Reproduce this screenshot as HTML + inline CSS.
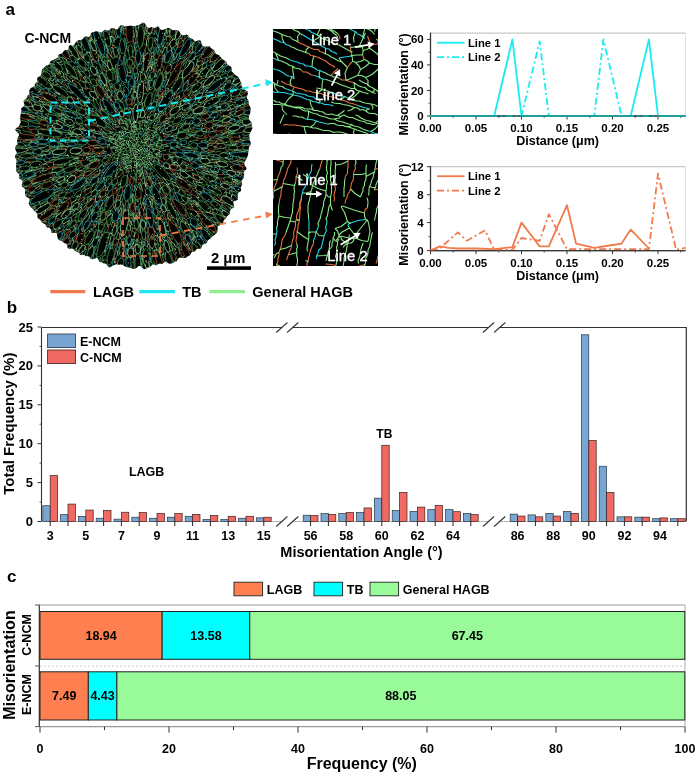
<!DOCTYPE html><html><head><meta charset="utf-8"><style>html,body{margin:0;padding:0;background:#fff;}svg{display:block;will-change:transform;}text{font-family:"Liberation Sans",sans-serif;font-weight:bold;}</style></head><body>
<svg width="700" height="776" viewBox="0 0 700 776">
<rect width="700" height="776" fill="#fff"/>
<text x="5.6" y="15" font-size="17" text-anchor="start" fill="#000" >a</text>
<text x="6.8" y="312.8" font-size="17" text-anchor="start" fill="#000" >b</text>
<text x="7" y="581.5" font-size="17" text-anchor="start" fill="#000" >c</text>
<clipPath id="circclip"><path d="M15.8 146.0L17.6 144.2L17.5 142.5L17.1 140.7L17.4 139.0L18.1 137.2L19.0 135.6L18.7 133.8L16.8 131.8L15.0 129.7L16.4 128.1L18.6 126.7L19.3 125.0L20.2 123.4L20.8 121.7L20.4 119.8L20.1 118.0L20.3 116.2L20.5 114.4L21.3 112.8L21.5 111.0L21.0 109.0L22.2 107.5L24.0 106.2L24.4 104.5L23.7 102.3L23.8 100.4L25.7 99.3L26.8 97.8L27.2 96.1L28.8 94.8L29.3 93.1L29.0 91.0L29.8 89.4L30.9 88.0L32.9 87.1L34.8 86.1L34.8 84.1L36.0 82.8L37.5 81.7L37.1 79.3L37.5 77.4L39.4 76.6L40.9 75.5L41.5 73.7L41.7 71.6L42.0 69.5L43.3 68.3L44.7 67.1L45.9 65.8L47.9 65.2L49.5 64.3L50.0 62.3L51.0 60.8L53.0 60.2L54.5 59.3L56.2 58.5L57.9 57.7L58.2 55.4L59.3 54.0L61.5 53.8L62.8 52.6L63.8 51.0L65.3 50.1L67.5 50.1L68.6 48.6L68.9 45.8L70.6 45.1L73.1 45.9L74.4 44.6L75.4 42.8L76.7 41.4L78.1 40.3L80.1 40.1L81.9 39.8L83.2 38.5L84.4 36.8L86.2 36.4L88.5 37.1L90.0 36.2L90.9 33.6L92.3 32.3L94.1 31.9L95.8 31.3L97.8 31.6L99.9 32.3L101.8 32.4L103.3 31.0L104.8 29.8L106.8 30.5L108.6 30.5L110.2 29.2L111.8 28.1L113.6 28.0L115.6 29.3L117.4 29.5L118.9 27.3L120.5 25.4L122.3 25.3L124.2 26.0L126.0 26.3L127.8 26.1L129.6 25.7L131.4 25.7L133.2 26.2L135.0 26.1L136.8 25.6L138.6 25.3L140.5 24.2L142.4 22.8L144.2 22.8L145.9 25.0L147.5 27.5L149.2 27.9L151.1 27.0L152.9 27.6L154.6 28.3L156.6 26.7L158.5 26.6L159.9 29.0L161.5 30.0L163.4 29.7L165.4 29.0L167.6 27.9L169.5 27.9L171.0 29.3L172.6 30.2L174.6 30.1L176.6 30.0L178.3 30.5L179.7 32.1L180.8 34.2L182.3 35.3L184.3 35.2L186.6 34.6L188.2 35.5L189.3 37.4L190.9 38.3L192.6 38.9L193.9 40.4L195.4 41.3L198.1 40.4L200.4 40.2L201.2 42.4L201.8 44.8L203.0 46.2L204.9 46.8L207.5 46.2L209.6 46.6L210.9 47.9L212.3 49.0L213.9 50.1L214.9 51.8L215.6 53.7L217.4 54.5L219.2 55.2L220.3 56.7L221.5 58.2L222.8 59.5L224.5 60.4L226.1 61.5L226.8 63.4L227.9 64.9L229.6 65.8L231.2 66.9L231.7 68.9L231.5 71.3L232.9 72.6L234.3 73.9L235.5 75.2L237.4 76.2L238.8 77.5L239.5 79.2L240.3 80.9L241.2 82.5L241.3 84.7L241.8 86.4L242.9 87.9L244.1 89.4L246.1 90.4L247.6 91.8L247.9 93.7L247.1 96.1L246.8 98.2L248.0 99.7L248.6 101.4L248.6 103.4L249.0 105.1L250.1 106.7L250.7 108.4L250.4 110.4L250.4 112.3L249.7 114.3L249.0 116.4L249.0 118.2L249.4 119.9L250.8 121.4L251.8 123.0L251.6 124.8L252.1 126.6L252.5 128.3L251.6 130.2L250.6 132.1L249.5 134.0L249.1 135.7L249.5 137.4L249.3 139.2L249.9 140.8L250.8 142.5L250.8 144.3L249.7 146.0L248.8 147.7L248.8 149.4L248.4 151.1L248.2 152.8L248.1 154.5L247.7 156.1L246.9 157.8L246.2 159.4L245.2 160.9L244.2 162.5L244.3 164.2L245.1 166.0L246.6 168.0L246.2 169.6L244.1 170.9L244.1 172.6L244.1 174.4L243.6 176.0L243.8 177.8L242.7 179.2L241.4 180.6L241.8 182.5L242.2 184.4L241.4 185.9L240.7 187.5L241.2 189.5L240.8 191.2L238.8 192.2L237.9 193.7L237.7 195.4L237.7 197.4L238.0 199.4L236.4 200.6L234.1 201.2L233.2 202.7L233.9 205.1L234.2 207.3L232.4 208.2L230.9 209.3L230.1 210.8L229.8 212.7L229.4 214.6L227.8 215.5L226.6 216.8L225.9 218.5L224.4 219.5L223.4 220.9L223.2 223.0L221.9 224.3L220.0 224.9L218.5 225.8L217.7 227.4L217.6 229.9L217.1 231.9L216.1 233.4L214.9 234.8L213.4 235.7L211.8 236.7L210.8 238.2L209.4 239.3L207.9 240.3L207.1 242.1L206.0 243.7L204.1 244.1L202.4 244.9L201.7 247.1L200.6 248.7L198.5 248.8L196.6 249.1L195.5 250.8L193.9 251.7L191.9 251.7L190.9 253.6L189.7 255.4L188.0 256.0L186.6 257.5L184.8 257.9L182.7 257.7L180.8 257.8L178.9 257.8L177.6 259.5L176.4 261.5L174.6 262.0L173.0 262.9L171.2 263.5L169.4 263.7L167.2 262.8L165.1 261.6L163.5 262.9L162.0 264.1L160.0 263.6L158.2 263.9L156.6 265.3L154.8 265.0L152.8 264.3L151.2 265.7L149.6 267.2L147.8 267.5L146.0 268.7L144.2 269.3L142.3 267.9L140.4 266.1L138.6 266.1L136.8 267.7L135.0 268.8L133.2 268.7L131.3 268.2L129.5 267.6L127.7 267.3L125.9 266.8L124.2 266.0L122.5 264.8L120.8 264.4L118.9 264.7L117.2 264.3L115.3 264.6L113.3 265.4L111.3 266.4L109.2 267.5L107.6 265.9L106.3 263.8L104.4 263.6L102.7 262.9L101.1 262.0L99.3 261.8L98.2 259.3L96.9 257.6L94.6 258.7L92.5 259.3L90.7 258.9L89.5 257.1L87.9 256.1L85.9 256.3L84.5 255.0L82.7 254.7L80.5 254.9L79.3 253.4L78.0 251.9L76.3 251.4L74.7 250.5L73.4 249.1L71.6 248.6L69.3 248.8L67.6 248.1L67.2 245.5L66.3 243.6L64.4 243.2L63.0 242.1L61.5 241.0L59.7 240.4L58.3 239.3L57.5 237.4L57.1 235.1L56.6 233.0L54.3 232.9L51.7 233.1L51.1 231.2L50.7 229.0L49.3 228.0L47.2 227.5L46.1 226.0L45.4 224.3L43.6 223.5L41.9 222.6L41.1 220.9L39.9 219.5L38.1 218.6L37.4 216.9L37.4 214.7L36.8 213.0L35.3 211.8L33.8 210.6L32.8 209.1L31.5 207.8L30.2 206.5L29.1 205.1L28.7 203.2L29.6 200.7L29.7 198.7L27.7 197.7L25.9 196.5L25.3 194.8L25.0 193.0L25.0 191.1L25.0 189.2L23.8 187.7L22.0 186.5L21.7 184.7L22.6 182.5L22.6 180.7L20.8 179.4L18.8 178.1L19.1 176.1L19.2 174.3L17.4 172.8L16.3 171.2L16.4 169.4L16.3 167.5L16.0 165.8L16.1 163.9L16.6 162.0L16.7 160.2L15.7 158.5L14.8 156.8L15.5 155.0L17.0 153.1L16.2 151.3L15.3 149.6L15.2 147.8Z"/></clipPath><path d="M15.8 146.0L17.6 144.2L17.5 142.5L17.1 140.7L17.4 139.0L18.1 137.2L19.0 135.6L18.7 133.8L16.8 131.8L15.0 129.7L16.4 128.1L18.6 126.7L19.3 125.0L20.2 123.4L20.8 121.7L20.4 119.8L20.1 118.0L20.3 116.2L20.5 114.4L21.3 112.8L21.5 111.0L21.0 109.0L22.2 107.5L24.0 106.2L24.4 104.5L23.7 102.3L23.8 100.4L25.7 99.3L26.8 97.8L27.2 96.1L28.8 94.8L29.3 93.1L29.0 91.0L29.8 89.4L30.9 88.0L32.9 87.1L34.8 86.1L34.8 84.1L36.0 82.8L37.5 81.7L37.1 79.3L37.5 77.4L39.4 76.6L40.9 75.5L41.5 73.7L41.7 71.6L42.0 69.5L43.3 68.3L44.7 67.1L45.9 65.8L47.9 65.2L49.5 64.3L50.0 62.3L51.0 60.8L53.0 60.2L54.5 59.3L56.2 58.5L57.9 57.7L58.2 55.4L59.3 54.0L61.5 53.8L62.8 52.6L63.8 51.0L65.3 50.1L67.5 50.1L68.6 48.6L68.9 45.8L70.6 45.1L73.1 45.9L74.4 44.6L75.4 42.8L76.7 41.4L78.1 40.3L80.1 40.1L81.9 39.8L83.2 38.5L84.4 36.8L86.2 36.4L88.5 37.1L90.0 36.2L90.9 33.6L92.3 32.3L94.1 31.9L95.8 31.3L97.8 31.6L99.9 32.3L101.8 32.4L103.3 31.0L104.8 29.8L106.8 30.5L108.6 30.5L110.2 29.2L111.8 28.1L113.6 28.0L115.6 29.3L117.4 29.5L118.9 27.3L120.5 25.4L122.3 25.3L124.2 26.0L126.0 26.3L127.8 26.1L129.6 25.7L131.4 25.7L133.2 26.2L135.0 26.1L136.8 25.6L138.6 25.3L140.5 24.2L142.4 22.8L144.2 22.8L145.9 25.0L147.5 27.5L149.2 27.9L151.1 27.0L152.9 27.6L154.6 28.3L156.6 26.7L158.5 26.6L159.9 29.0L161.5 30.0L163.4 29.7L165.4 29.0L167.6 27.9L169.5 27.9L171.0 29.3L172.6 30.2L174.6 30.1L176.6 30.0L178.3 30.5L179.7 32.1L180.8 34.2L182.3 35.3L184.3 35.2L186.6 34.6L188.2 35.5L189.3 37.4L190.9 38.3L192.6 38.9L193.9 40.4L195.4 41.3L198.1 40.4L200.4 40.2L201.2 42.4L201.8 44.8L203.0 46.2L204.9 46.8L207.5 46.2L209.6 46.6L210.9 47.9L212.3 49.0L213.9 50.1L214.9 51.8L215.6 53.7L217.4 54.5L219.2 55.2L220.3 56.7L221.5 58.2L222.8 59.5L224.5 60.4L226.1 61.5L226.8 63.4L227.9 64.9L229.6 65.8L231.2 66.9L231.7 68.9L231.5 71.3L232.9 72.6L234.3 73.9L235.5 75.2L237.4 76.2L238.8 77.5L239.5 79.2L240.3 80.9L241.2 82.5L241.3 84.7L241.8 86.4L242.9 87.9L244.1 89.4L246.1 90.4L247.6 91.8L247.9 93.7L247.1 96.1L246.8 98.2L248.0 99.7L248.6 101.4L248.6 103.4L249.0 105.1L250.1 106.7L250.7 108.4L250.4 110.4L250.4 112.3L249.7 114.3L249.0 116.4L249.0 118.2L249.4 119.9L250.8 121.4L251.8 123.0L251.6 124.8L252.1 126.6L252.5 128.3L251.6 130.2L250.6 132.1L249.5 134.0L249.1 135.7L249.5 137.4L249.3 139.2L249.9 140.8L250.8 142.5L250.8 144.3L249.7 146.0L248.8 147.7L248.8 149.4L248.4 151.1L248.2 152.8L248.1 154.5L247.7 156.1L246.9 157.8L246.2 159.4L245.2 160.9L244.2 162.5L244.3 164.2L245.1 166.0L246.6 168.0L246.2 169.6L244.1 170.9L244.1 172.6L244.1 174.4L243.6 176.0L243.8 177.8L242.7 179.2L241.4 180.6L241.8 182.5L242.2 184.4L241.4 185.9L240.7 187.5L241.2 189.5L240.8 191.2L238.8 192.2L237.9 193.7L237.7 195.4L237.7 197.4L238.0 199.4L236.4 200.6L234.1 201.2L233.2 202.7L233.9 205.1L234.2 207.3L232.4 208.2L230.9 209.3L230.1 210.8L229.8 212.7L229.4 214.6L227.8 215.5L226.6 216.8L225.9 218.5L224.4 219.5L223.4 220.9L223.2 223.0L221.9 224.3L220.0 224.9L218.5 225.8L217.7 227.4L217.6 229.9L217.1 231.9L216.1 233.4L214.9 234.8L213.4 235.7L211.8 236.7L210.8 238.2L209.4 239.3L207.9 240.3L207.1 242.1L206.0 243.7L204.1 244.1L202.4 244.9L201.7 247.1L200.6 248.7L198.5 248.8L196.6 249.1L195.5 250.8L193.9 251.7L191.9 251.7L190.9 253.6L189.7 255.4L188.0 256.0L186.6 257.5L184.8 257.9L182.7 257.7L180.8 257.8L178.9 257.8L177.6 259.5L176.4 261.5L174.6 262.0L173.0 262.9L171.2 263.5L169.4 263.7L167.2 262.8L165.1 261.6L163.5 262.9L162.0 264.1L160.0 263.6L158.2 263.9L156.6 265.3L154.8 265.0L152.8 264.3L151.2 265.7L149.6 267.2L147.8 267.5L146.0 268.7L144.2 269.3L142.3 267.9L140.4 266.1L138.6 266.1L136.8 267.7L135.0 268.8L133.2 268.7L131.3 268.2L129.5 267.6L127.7 267.3L125.9 266.8L124.2 266.0L122.5 264.8L120.8 264.4L118.9 264.7L117.2 264.3L115.3 264.6L113.3 265.4L111.3 266.4L109.2 267.5L107.6 265.9L106.3 263.8L104.4 263.6L102.7 262.9L101.1 262.0L99.3 261.8L98.2 259.3L96.9 257.6L94.6 258.7L92.5 259.3L90.7 258.9L89.5 257.1L87.9 256.1L85.9 256.3L84.5 255.0L82.7 254.7L80.5 254.9L79.3 253.4L78.0 251.9L76.3 251.4L74.7 250.5L73.4 249.1L71.6 248.6L69.3 248.8L67.6 248.1L67.2 245.5L66.3 243.6L64.4 243.2L63.0 242.1L61.5 241.0L59.7 240.4L58.3 239.3L57.5 237.4L57.1 235.1L56.6 233.0L54.3 232.9L51.7 233.1L51.1 231.2L50.7 229.0L49.3 228.0L47.2 227.5L46.1 226.0L45.4 224.3L43.6 223.5L41.9 222.6L41.1 220.9L39.9 219.5L38.1 218.6L37.4 216.9L37.4 214.7L36.8 213.0L35.3 211.8L33.8 210.6L32.8 209.1L31.5 207.8L30.2 206.5L29.1 205.1L28.7 203.2L29.6 200.7L29.7 198.7L27.7 197.7L25.9 196.5L25.3 194.8L25.0 193.0L25.0 191.1L25.0 189.2L23.8 187.7L22.0 186.5L21.7 184.7L22.6 182.5L22.6 180.7L20.8 179.4L18.8 178.1L19.1 176.1L19.2 174.3L17.4 172.8L16.3 171.2L16.4 169.4L16.3 167.5L16.0 165.8L16.1 163.9L16.6 162.0L16.7 160.2L15.7 158.5L14.8 156.8L15.5 155.0L17.0 153.1L16.2 151.3L15.3 149.6L15.2 147.8Z" fill="#030503"/><filter id="soft" x="-5%" y="-5%" width="110%" height="110%"><feGaussianBlur stdDeviation="0.35"/></filter><g clip-path="url(#circclip)"><g filter="url(#soft)"><g transform="scale(0.5)" fill="none" stroke-width="1.4"><path d="M243 327l-3 9M280 255l0 2M256 244l-2 8M262 259l0-6M319 268l2 0M300 239l-3 0M295 236l0 1M265 248l1-1M269 250l-1 3M313 258l-4 3M313 258l0-1M327 226l0 3M296 232l-5 4M284 248l4-5M295 223l-6 10M236 273l-1-1M152 224l0 1M301 313l2 3M284 337l2-5M293 324l3 4M307 337l-2-3M283 347l2-3M285 344l0 0M140 487l2-3M147 480l7-9M271 335l1-6M275 339l1-9M225 326l10-6M247 341l2-3M326 273l5-4M324 290l-2-1M335 287l-3 2M335 287l-4-2M332 231l9-10M313 251l-1 3M314 254l6-1M320 253l0 0M239 118l-6-7M163 230l-2 0M226 136l1 0M215 108l3 8M224 115l0 0M218 124l0-8M223 106l1 9M143 79l-7-2M233 254l-2-4M233 254l-5 0M32 320l6 0M82 151l2 6M128 196l0 0M74 170l-2-2M85 177l-1-1M313 298l-2-1M317 303l2 1M438 318l2-1M348 307l1 0M323 332l-4-4M290 337l0 1M289 343l1-3M342 348l1 3M289 343l1 3M292 371l2-5M292 419l1 8M192 372l-1 1M191 373l-1 5M246 342l0 2M246 344l-7 9M219 336l-4 0M216 422l-4 9M196 416l2-1M327 258l0 0M326 259l0 0M328 251l0 0M408 173l0 1M225 90l0 7M269 133l1-8l0-9M279 221l2 1M295 184l-1-3M298 180l1-3M281 158l0-11M262 200l1-10M309 223l-2 5M370 190l-9 7M361 197l4 3M341 251l-2 0M295 221l4-7M328 273l5 2M232 129l1 0M210 88l1 3M138 82l-3-4M200 199l1 4M178 232l-1 0M235 272l-4-4M222 264l1-1M228 258l-7 0M232 248l-1-2M226 241l-5-11M246 244l0 1M255 254l-1 4M243 247l-4-6M243 247l0 1M210 213l-1-1M186 292l-10 1M199 291l8-3M198 296l5-2M188 391l-4 9M175 404l5-2M224 388l-2 4M215 390l-1 5M209 411l4-11M206 406l2-1M209 411l0 0M213 401l0-1M178 425l3-3M168 415l-7 9M165 410l3-3M32 320l-2-2M23 319l1 0M23 319l-3 3M21 318l2 1M60 160l1 1M60 155l-2-1M53 186l-4 3M212 270l-5 0M205 274l-3 0M225 172l2 4M227 176l3 4M230 180l1-4M219 163l0-3M231 187l-1-1M159 221l-9-11M489 328l-10 1M489 327l-1-2M509 332l-2 1M515 340l-6-2M431 324l-7-4M454 323l7 1M493 334l-8-1l-7-1M364 300l-9-5M446 363l-9-5M435 366l-2-1M339 338l5 6l5 5M349 349l2 0M348 390l0-4M348 386l-6-4M340 387l0 1M370 362l-5-4M353 385l7-3M294 349l1 1M290 346l4 3M279 342l1 3M292 354l0 0M289 358l0 0M291 351l1 3M305 365l-2-4M296 459l-1 9M295 468l1 1M286 367l3 0M313 370l7 7M328 396l-4-8M325 397l-4-2M160 450l-8 6M155 449l-3 5M227 415l0 1M222 420l-1 0M156 390l-2 5M161 393l-3 6M168 394l-10 5M273 512l-3-4M278 482l1 5M267 487l1 6M268 525l0 1M239 391l-4 9M228 414l4-5M231 371l3-5M234 393l-1 7M196 361l6-6M218 322l-6 8M207 421l-1 2M245 384l0-1M245 383l0-6M222 365l2-10M217 373l-7 5M259 364l-3-10M342 92l-3 2M353 62l0 3M336 181l1 1M325 267l7-6M355 187l-3 9M353 185l2 2M353 185l0-2M340 179l0 4M340 55l-4-6M333 87l-3 7M253 89l0 0M251 77l-2-2M272 85l-1-8M272 60l-3 10M219 51l7 7M219 70l0-11M271 99l1-3M280 104l0 0M283 123l-3-2M284 112l0 5M280 97l0 0M262 172l1 4M246 128l1-13M284 136l2 2M273 139l4-11M248 44l0 5M290 168l0-1M290 167l3-10M315 184l4-10M316 184l1-1M301 180l8-6M264 211l2-5M265 201l1 5M265 183l2 2M263 176l2 3M309 223l0-2M408 273l8 2M408 273l4-2M493 184l-11 7M490 183l4-4M414 222l0 3M354 275l-7 1M231 153l3 0M170 64l1 3M175 64l-2-1M118 94l-1-1M98 110l-1 2M98 110l7 6l7 5M91 116l5 5M103 120l-1-1M85 126l0 1M171 67l0 2M178 74l2 5M138 82l2 7M237 245l-2-8M233 236l-2 0M168 212l6 7M175 219l-1 0M134 354l8-3M187 298l-9-1M53 415l1 0M54 418l0-3M130 395l10 1M138 385l-2 1M148 383l-1 5M119 403l1-1M101 417l10-6M201 346l5-2M199 347l2-1M192 379l0 1M123 488l2-5M89 452l5-6M95 445l-1 1M89 443l6-5M90 466l2-8M92 458l-2 0M20 269l-1-5M20 290l10 3M29 316l9 0M41 314l-5-3M36 311l1 0M31 210l0 0M31 210l5 5M192 276l-8-2l-9-1M189 279l3-3M150 283l-6-2M119 218l5 2M235 226l-7-8M235 226l-4-8M227 210l0-2M61 168l-4-3M58 165l-1 0M62 171l-2 0M55 163l2 2M73 151l3 0M76 151l5 0M92 159l2 0M72 141l2 3M71 138l1-1M82 146l-7-7M81 150l-7-6M365 294l1-1M383 297l0 0M370 298l5-2M476 325l-8-2M383 316l-7 0M372 325l6 4M386 329l-7-5M388 323l-7-1M398 350l-5 0M349 312l4 1M349 307l4 6M307 315l3 0M325 359l2 6M424 493l-3-4M399 333l-1-1M405 344l-1-2M404 342l-8-5M448 364l4 5M352 341l-11-3M341 338l9 7M362 350l-6-4M386 378l8-3M395 364l-2 0M376 403l4 2M398 388l4 4M402 392l6 10M288 542l-1 2M285 537l-3 4M249 501l2-12M289 477l1 5M288 428l0 2M291 462l-1-2M290 460l-2 0M299 490l0 10M300 501l-1-1M296 488l-1 6M346 527l2 4M343 512l4 10M308 462l-1-6M314 459l-2-6M317 434l5 3M311 515l-2-12M289 433l-1 6M288 430l1 3M294 455l-3-4M334 421l2 5M329 430l1-3M335 428l1-2M329 438l-4-6M329 397l1-7M324 365l-4-6l-4-6M310 353l2-5M299 347l1 0M283 411l-2-3M282 394l-1 1M292 419l2-6M182 429l1-1M172 459l-3 4M139 507l-1 0M200 466l-2 5M202 473l2-1M198 349l-1 1M210 369l1-3M251 503l0 7M252 512l0-2M269 395l-2-4M246 407l-4 6M206 423l-2 1M245 361l-8 6M333 87l0 0M336 91l3-2M339 81l-1 0M345 82l0-5M339 81l3-5M339 263l4-1M330 267l9-4M390 189l-7 2M408 177l-2 5M389 192l1 1M440 142l1 1M436 152l-9 3M353 185l-2 3M410 204l-2 1M415 199l-5 5M481 178l-3 1M308 58l2 6M271 77l2-3M228 59l0 3M225 84l-1 0M224 85l0-1M224 66l0 6M243 54l0-4M287 125l0-1M287 125l0-1M290 99l3-7M296 164l0 0M294 181l1-8l1-9M270 170l0 2M270 158l0 2M269 205l0-4M392 269l-1 0M411 276l-9 1l-8 1M371 273l6 2M377 275l2 0M351 204l-5 3M328 251l4-3M485 195l-12 0M479 172l2-1M481 178l6-6M487 172l2-1M485 270l5-7M503 267l-2-2M342 268l-2 1M328 273l9-2M415 264l-2 0M394 262l-8 0M377 261l0-1M358 257l2-1M388 258l0 0M377 260l11-2M406 241l-5 1M406 241l5-1M403 246l-6 0M185 79l-3-10M211 129l0 0M209 142l-1-7M211 134l-2-1M117 102l0 1M94 128l1 4M102 138l0 0M112 140l-5-3M112 140l0 1M112 141l7 7M112 143l5 8M161 169l-6-4l-7-5M157 201l-6-4l-7-3M126 91l5 7M216 195l4 6l3 6M191 214l10 9M199 215l2 8M222 264l-6-5l-5-5M215 247l1 3M197 191l2-1M206 241l-6-7M206 233l-7-1M46 406l5-3M43 402l-1-1M59 398l1 2M59 398l0 0M150 342l-1 1M149 343l-7 4M80 377l1-1M57 317l-3 1M154 283l-4 0M132 286l0-2M132 299l3-1M138 293l-7 5M218 322l2-3M188 347l6-5M167 342l-3 1M215 311l8-1l6-1M106 380l8-4M114 376l5-1M105 402l-8 5M156 355l-7 3M157 353l-1 2M157 356l4 0M201 383l-1 1M206 375l-5 8M181 452l7-6M199 400l-5 4M198 397l1 0M203 399l-4 1M197 394l1 3M125 483l0 0M141 466l0-6M141 460l-7 10M92 458l4-2M114 419l0-1M142 404l-2-8M100 450l-6 1M46 293l3-1M30 288l2-1M81 276l-3 0M81 276l6-1M55 257l4 2M59 259l5 4M98 276l10 2M108 278l10-1M118 277l0 0M84 272l4-1M72 279l0-1M28 248l-4-4M43 255l-12-1M47 257l-4-2M38 246l-12-4M55 192l-1 0M59 201l3 2M43 195l9 0M40 196l-3-3M36 208l9 3M36 208l0 0M170 258l-11-2M158 258l2 0M178 261l6 2M168 232l3 3M123 278l-5-1M117 282l1 1M117 282l-11 0M101 283l3 0M129 205l-5 0M131 219l3 3M130 218l-3 0M239 178l4 4M243 185l1-2M245 183l-1 0M71 138l0 0M96 179l0 0M119 171l-3-3M72 162l2 3M166 204l-2-2M120 190l0 0M105 185l2 1M481 317l9 0M407 301l-3 1M384 301l3 1M419 300l-7 3M486 322l3 2M491 318l-1-1M491 318l0 1M502 319l-11-1M469 322l-6-4M509 338l-3 0M489 375l7 1l8 1M490 378l0 1M424 320l-1 0M423 320l-4-1M379 324l1-2M372 325l-4-1M428 326l2-1M449 358l-5-2M446 349l-7 0M430 325l4 2M378 350l1 0M378 341l9 0M383 337l-11-2M318 320l8 4M374 407l5 6l4 6M377 417l4 3M480 413l-1-3M476 407l-4-3M490 413l1 0M411 336l-4 0M450 362l-1 2M334 394l2 3M336 392l-4-7M382 402l-8-8M382 402l0 0M368 382l-7-6M362 374l4 2M377 384l-6-7M377 384l-4-2M372 387l-4-5M357 375l4 1M268 534l1 7M369 524l1 0M250 490l-2-2M258 449l1-10M258 461l0 11M261 471l3-6M250 410l3-9M300 501l1 9M345 501l1-2M333 533l-2 4M332 529l-2-4M322 515l0 0M301 414l3 2M314 472l1 11M325 510l0-1M323 467l2 10M281 513l0-4M357 455l-4-7M326 409l-4 0M321 420l0 5M332 439l-3-9M324 366l3 6M311 367l-1-3M300 347l2 4M291 393l2 6M293 387l-2 6M154 474l-3 7M151 481l-4 3M151 481l0 2M154 496l4-7M187 449l1 5M199 440l-4 6l-4 7M174 499l-4-1M201 436l0 6M207 440l-1 1M206 441l-2 3M224 449l2-4M218 450l-3 13M175 397l-1-3M168 399l6-5M271 424l0-5M270 419l1 0M270 427l1-3M266 425l0-1M266 425l0 0M246 517l4 4M251 542l0 2M246 512l-4 1M264 380l1-2M265 378l1-6M266 372l-2-3M259 364l-1 6M253 352l2-2M254 338l-3 7M325 196l-1 2M318 193l1 4M313 205l6-8M363 126l2-1M380 108l-6 8M375 121l-1-5M380 98l-2 7M379 97l-1 0M373 110l-2 3M380 105l4-7M379 126l-3-6M326 176l1-1M331 179l-4 7M515 267l6-6M389 192l-7 5M444 135l-2-1M399 153l5 2M395 155l4-2M403 157l1-2M403 157l6 0M412 175l5-5M351 188l-4 7M349 198l-1-1M348 197l-3 2M472 150l5 0M449 205l-8 3M478 153l-2 0M450 168l11-8M312 96l-1-4M316 72l-2 6M251 67l2 4M229 78l1 0M228 62l0 8M293 92l0 0M298 73l-2 6M297 82l-1-3M293 81l2-2M448 282l-8 0l-8 1M323 231l0-1M333 216l0 0M344 216l2-5M338 214l8-6M462 200l6-2M436 219l-4 1M499 206l-1-2M423 227l1-2M376 236l8-6M397 212l-7 6M411 215l-2 5M488 214l10-4M460 245l-9 3l-8 3M460 276l2-4M180 79l4 0M206 112l0 1M209 119l-3-6M198 101l2 7M206 113l-1 0M175 176l8 4M197 191l0 4M152 144l0-1M162 162l-3-12M159 150l-6-6M130 123l-1 0M102 138l2 4M145 152l1 1M134 157l-2-7M161 85l-6-1M183 180l-2-5M31 369l8-4l8-4M85 348l-2 1M56 373l6-1M52 306l0 0M63 294l-2 1M61 295l-3 0M93 299l5-1M107 295l-6 2M169 332l12-6M169 332l-4 0M155 333l9-4M173 334l-3 1M163 311l5-3M73 411l-1 0M59 424l0 0M54 418l-1 3M72 411l-1 1M118 381l2 0M170 355l-5 0M204 424l-4 9M199 400l-1 2M197 410l-5 2M110 469l8-11M143 434l3-3M110 487l4-5M134 470l-4 0M107 449l-3 2M104 451l-1 3M100 475l0-4M168 399l-7 5M161 404l-4 6M118 437l-8 0M130 270l2 2M62 266l11 3M59 259l14-1M72 278l-12 1M38 240l-6-6M26 242l3-2M55 192l9 6M151 269l3 0M203 253l6 6M177 282l-3-2M174 280l-7 0l-7-1M156 280l4-1M79 197l11 2M90 199l8 4M126 209l-6-1M128 227l0 0M128 227l-5 0M197 146l2 2M235 144l1 2M71 189l4 2M89 196l-2-1M75 192l12 3M70 173l-1 0M98 203l2 0M106 178l2 1M108 169l-7-4M140 186l-3-3M135 174l10 9M132 161l0 1M126 162l9 11M92 185l6 0M480 348l-1-1M514 350l-5 1M511 361l-3 1M464 368l2 0M477 367l4 1M481 368l-6 1M467 364l4 2M496 384l-5-3M504 377l2-1M481 368l4 2M476 370l-1-1M314 314l5 5M421 349l12 1M464 338l0 0M424 332l1 2M439 339l-3 1M454 393l8 3M449 380l-4-2M434 375l4 1M434 372l6 3M497 401l-1 1M496 402l1 1M425 394l1 3M390 368l2 3M394 368l-4 0M426 426l-7-4M407 429l-3-5M432 440l-3-4M404 424l-3 0M398 441l4 4M434 472l-3-5M459 447l1 0M365 436l4 1M377 449l-4-2M373 440l-2-1M377 437l-2-1M339 430l-3-4M339 430l3 11M332 439l4-2M387 409l-1-4M250 477l2-6M252 489l0-2M252 489l1-1M265 463l0-6M266 425l-1 3M261 431l0 1M275 434l1-3M278 435l0-1M276 425l0 6M278 423l0 10M283 483l1-1M284 482l1-8M273 431l0 6M279 461l-5-2M272 464l1-6M309 540l-3-8M309 540l-5 3M295 494l0 0M310 478l0 0M309 481l1-3M324 509l-2 3M325 509l-1 0M322 515l0-3M312 406l-1 3M311 410l0 0M311 410l-4-9M311 405l2-5M169 469l3-3M164 487l2-2M200 481l-2 2M146 501l-5 7M148 502l-3 7M176 496l2-5M184 490l-1 5M227 455l2-7M235 442l-4 6M234 452l-1 1M235 440l0 0M166 377l4-2M213 358l1-3M236 521l-5 5M232 530l-1-4M327 186l-2 4M325 190l0 2M364 81l0-3M367 82l3-9l3-10M370 78l-3 4M382 71l2-5M431 122l-3-1M442 112l1 0M428 102l1 0M421 121l-1 1M413 132l1 0M406 139l-1-2M394 142l3-1M403 110l0-1M403 110l2-1M364 140l2 0M351 134l3-6l3-7M350 134l1 0M366 91l-12 5M364 81l-5 6l-4 7M360 77l2-10M480 246l-2 2M356 210l6-4M424 153l-1-2M402 170l5-3M417 174l-3 4M368 169l-2-1M369 157l-2 3M435 180l5-3M442 177l1 0M449 168l-7 9M452 200l-3 5M450 163l4-5M461 160l0 0M335 66l2-4M333 74l2-8M331 68l0 0M306 89l-1 3M309 82l0 1M306 56l0-6M303 47l-3 3M306 58l0-2M297 55l-6 13M314 46l1-3M309 45l-3 5M293 81l-5-7M326 160l6-11M332 160l0-2M474 282l-7 3M473 288l-4 4M426 287l-6 0M420 285l3-1M422 281l1 0M430 286l-7-2M425 276l9 1M348 210l-1 1M349 211l-1-1M342 236l-5 9M462 200l-3 2M484 209l-2 2M454 207l4 0M463 204l-5 3M434 225l7-4M367 235l0 0M372 237l0 0M461 252l-6 0M463 245l-3 0M449 262l6-3M442 264l-2 0M454 264l-6 2M402 260l1-1M488 221l3-2M481 217l5-2M120 118l-1-1M110 118l-6-6M102 153l6 0M146 160l-1 0M137 152l2 1M135 157l3 2M152 174l-8-9M187 119l3 2M173 164l2 0M173 165l0-1M176 156l-5-1M183 166l-8-2M159 150l3 1M165 153l-1 0M131 98l2 1M138 100l-1 0M138 107l3 4M155 84l-9-8M156 78l-3-9M155 82l0-4M177 224l5 3M182 222l5 7M63 427l6-5M122 381l-5 5l-5 5M108 400l7-9M62 423l0 1M55 358l4 0M53 388l5-6M42 388l-6 0M36 382l-2 1M51 395l4-1M55 394l5-2M68 392l-8 0M114 355l-7 1M67 361l-8 2M68 358l-7 3M163 323l-3-1M160 322l-2-1M57 317l4 0M58 328l3-3M67 314l9-3M126 341l-1-3M174 310l13-3M131 437l1 1M116 486l5-5M122 476l0 1M124 475l5-4M129 453l-3-1M126 452l3-5M118 465l8-5M130 470l5-6l5-6M138 416l-1 2M505 292l-5 2M512 296l-1-1M19 285l2-2M144 272l0 0M137 265l0 1M31 234l-4-2M34 233l-5-4M66 198l6 7M170 250l-3-1M163 252l-2-1M152 227l3 4M155 231l-3 0M134 222l0 0M174 238l5 2M157 273l9 1M164 277l5 0M174 280l-5-3M199 129l0 0M195 149l0 1M81 181l-2 1M81 181l7 5M92 185l1 0M135 173l1 0M491 303l-1 0M428 303l3 1M473 320l3-1M489 344l3 1M507 367l0 0M466 368l0 1M476 370l-3 1M455 344l-2-4M450 339l3 1M505 365l4-1M507 367l-2-2M324 313l-4-2M438 343l-2-2M413 480l-1 3M469 442l-9-9M472 382l-4 1M475 391l0-3M408 376l-1-3M487 399l1 0M412 386l-3-3M426 420l-1 5M435 425l-2-6M412 451l2 3M452 439l-4-6M439 428l5-1M432 440l4 3M370 442l-5-3M350 412l-4 2M344 411l0-1M341 401l2 5M388 511l1 4M363 500l0-1M377 384l6 5M384 389l-1 0M388 401l0 0M282 541l0 0M237 482l2 7l1 7M267 497l-2-1M293 387l4 10M300 393l0 1M304 393l1 8M338 482l0-7M306 393l0-2M188 519l-2 2M174 525l-1 0M176 522l-1 3M158 516l0 3M166 508l-3 7l-2 5M241 439l0-4M246 422l-4 8M198 349l-10 3M185 355l3-3M187 348l1 2M322 195l1-2M321 197l-1 1M321 193l-2 4M325 190l-2 3M324 198l-3-1M317 205l3-7M322 189l-1 4M384 84l-2 2M386 74l-1 2M380 94l2-8M386 78l1 0M413 124l4-9M389 143l-6 1M387 134l-3 9M383 144l1-1M402 130l4-9M406 121l-5 1M398 132l-1-1M389 143l4-6l5-5M385 142l6-5l6-6M403 98l-1 1M402 98l0 1M389 83l0 0M385 98l5-5M355 90l-4-3M355 94l0-4M497 291l10-2M516 290l-6 0M485 290l-2-2M494 290l6-2M473 294l12-4M497 291l-3-1M471 287l8-3M495 275l-5-1M506 272l-8 1M519 280l3-3M478 238l1-3M481 239l-3-1M460 233l-2 2M474 244l0 0M480 246l3-1M453 121l-3 7M375 215l-3 2M375 215l1 0M378 212l6-2M419 171l3-2M343 204l-3 1M333 216l1-1M436 185l5 0M432 193l2-1M436 192l-2 0M459 154l3-2M311 118l0 0M311 118l2 5M303 138l0 0M312 59l0 0M308 138l3 9M290 60l-4-8M478 283l11-2M471 287l-4-2M352 250l1 0M360 247l-2 1M343 256l10-6M353 254l2-4M342 230l-4 0M340 229l-2 1M342 232l0-2M457 212l1 0M450 268l6-2M461 263l-2 2M441 251l-1-1M412 259l7-1M419 258l-1-1M432 247l5 3M106 109l2 3M117 105l-3 1M162 95l3 4M142 125l-7-3M50 374l-1 0M109 335l-1 0M131 330l3 1M119 334l-10 1M108 335l-12 3M36 344l3-3M80 342l-3-4M72 345l8-3M126 329l-9 2l-9 3M51 324l9-1M60 323l3 1M83 304l8 5M79 312l-8 4M131 311l-2-1M67 323l2-1M73 322l2 1M74 320l-1 2M31 342l0-3M41 334l-5 2M61 299l12 1M171 333l5-2M203 306l-12 2M208 306l-11 5M153 407l4-6M158 399l-1 2M48 284l2-4M118 233l-1 0M45 211l8 2M120 213l-7-5M222 179l1 2M200 172l-2-2M105 192l-1-3M106 190l-2-1M457 303l-4-2M442 307l4-2M473 344l1 0M501 346l-3 1M490 348l0 0M465 378l-3-1M411 336l5 3M421 345l3 0M392 458l3-5M441 404l-6-5l-5-5M475 433l5 0M454 418l-3 0M444 408l10 10M486 392l-6-3M419 410l-7-6M426 411l-4-2M441 469l-1-2M436 443l0 2M438 444l2 2M365 438l-4-4M357 424l-2 0M263 486l2 4M265 496l-1-4M343 489l0 0M338 482l0 0M343 483l-2-3M341 484l0-4M169 464l-2 3M189 519l0 0M193 494l3-1M187 507l1-1M159 500l-5 8M183 360l-8 5M169 373l0-1M173 368l2-1M176 356l8-6M187 348l-3 2M218 489l0 0M219 488l1-1M409 90l7-4M389 210l-3 2M321 102l3-5M318 111l2-6M328 136l0-2M324 128l0 3M319 148l3-8M413 189l-1 3M504 228l-1 1M503 229l0 0M506 225l6-5M470 215l5-2M468 217l2-2M506 253l-13-2M514 242l0 1M514 243l-6 4M514 243l4 1M110 111l0-2M196 114l1-5M192 101l1 2M124 259l-2-2M122 239l0 0M76 226l-4-3M63 224l-4-3M68 231l3 2M35 233l7 2M216 163l-3-3M223 168l-3 1M212 169l4 12M465 300l-12 0M483 346l6 2M490 348l-1 0M480 348l2 2M494 368l0 0M401 461l-3 4M405 470l-7-5M383 460l1 1M435 392l0 0M435 392l2 2M437 389l-3 0M446 406l-4-6l-5-6M498 394l-2-1M440 467l-5-4M378 470l3 9M387 503l-6-11l-6-10M386 473l1-1M389 480l2 2M373 497l5 2M387 515l0 0M366 464l2 7l2 7M373 491l-6-13M394 404l1 3M233 541l-1 1M210 517l-1 1M397 84l2 0M303 138l4-9M309 126l-1 1M368 230l-1-2M367 228l2-2M368 220l-2 1M349 236l0 0M369 226l-7-1M358 226l-4 6M342 235l6-1M167 140l-5-8M98 259l-8-1l-9-2M94 254l11 1M73 254l2 0M44 227l-7-1l-8-2M196 159l1 1M194 167l-1-11M412 483l-5-4M439 452l4 3M448 468l-3-3M386 481l0 1M382 479l3 5M374 491l4 8M362 492l0 1M362 493l0 0M197 525l0 0M232 501l-2 7M230 508l0 0M228 522l1-7l1-7M371 221l-1 4M375 225l2-4M384 214l-2 3M79 232l2 1M200 160l4 5M200 160l0 0M157 101l5 7l5 7M155 100l3 6M78 248l2-1M166 116l0 1M166 117l-7-3M110 247l-6-4M378 182l2 3l-1 4l-4 4l-4 2l-3-3l-1-3l0-4l4-3l4-1l3 1M481 277l-2 3l-5 2l-6 1l-4-2l-4-2l2-3l5-2l6 0l5 1l3 2M273 483l-3-2l-2-4l1-5l1-4l3-3l2 2l2 4l0 5l-2 4l-2 3M370 431l-4-1l-8-6l-7-11l-6-11l1-4l6 1l8 7l8 11l5 10l-3 4M361 488l-5-1l-8-11l-8-17l-3-12l1-9l8 10l7 5l8 17l3 13l-3 5M333 230l2 2l-3 5l-4 5l-5 3l-4-1l0-5l1-4l5-5l5-1l3 1M185 101l5 1l4 4l3 8l0 6l-2 3l-3 0l-5-5l-2-7l-2-6l2-4M340 130l3 2l0 5l-2 4l-3 3l-4 1l-3-3l1-5l2-4l3-2l3-1M24 272l5-3l10-2l14 2l15 2l2 5l-3 3l-14 1l-14-1l-15-3l0-4M177 336l2-5l3-5l7-3l6 0l5 2l-3 5l-3 4l-6 3l-6 0l-5-1M462 223l0 3l-6 4l-7 2l-7 1l-3-2l2-4l5-4l7-2l7-1l2 3M79 440l1-5l5-7l11-7l8-4l5 0l1 3l-6 9l-11 7l-10 5l-4-1M115 424l-1-4l5-6l7-8l7-2l5 1l0 4l-4 7l-8 7l-9 6l-2-5M364 123l-2 10l-3 12l-9 14l-7 8l-6 5l-3-4l5-13l8-15l9-10l8-7M64 364l1-4l13-7l14-5l10-1l4 3l0 3l-11 6l-12 3l-11 3l-8-1M322 539l-4 1l-3-5l-3-15l-1-13l3-4l4 3l5 13l4 15l-2 5l-3 0M418 230l1 3l-3 4l-6 2l-4-1l-3-2l0-3l3-4l5-2l5 1l2 2M257 197l3 2l3 2l0 4l-1 4l-3 1l-4-1l-3-2l0-4l1-4l4-2M306 496l-4-1l-3-5l-1-6l1-5l3-5l4 4l4 4l0 6l-2 4l-2 4M296 104l3 2l1 12l-3 13l-3 8l-4 6l-3-3l0-12l1-14l4-8l4-4M433 464l-6-1l-10-6l-12-13l-5-9l-3-9l6 1l12 10l11 11l5 10l2 6M453 255l-4 3l-4 3l-6 1l-7 0l-1-2l2-3l4-3l7-1l6 0l3 2M155 318l1-4l4-3l6-1l6 1l2 3l0 3l-5 3l-6 1l-6 0l-2-3M285 434l-4-3l-2-4l-1-6l2-4l2-3l3 3l2 4l1 5l-1 5l-2 3M379 378l-4 2l-9-5l-9-6l-5-7l-1-6l6-1l9 4l9 7l5 8l-1 4M430 296l0 4l-6 0l-4 1l-4-2l-1-3l0-3l5-2l5 0l3 3l2 2M226 388l-1-3l0-4l2-4l3-2l3-1l1 3l0 4l-1 4l-4 2l-3 1M175 285l1-3l6-1l7 0l5 3l3 3l-3 3l-6 1l-7 0l-5-3l-1-3M39 230l3-3l7 0l7 3l7 3l1 4l-2 2l-8 0l-8-2l-5-4l-2-3M263 369l-2-2l-1-4l1-4l1-3l3 0l2 0l1 4l0 4l-2 3l-3 2M86 333l1-4l6-3l6-2l6 1l3 3l-2 5l-5 2l-6 2l-5-1l-4-3M120 93l6 3l5 3l6 8l3 8l-2 2l-3 0l-6-3l-6-8l-2-7l-1-6M486 337l-2 4l-6 1l-8-1l-5-4l-1-4l3-3l6-1l7 1l5 4l1 3M425 92l3 2l-4 9l-8 10l-7 4l-5 1l-2-3l4-9l9-11l6-3l4 0M301 374l-4-2l-3-2l-1-5l-1-5l3-1l3 0l3 3l1 4l1 5l-2 3M56 381l0-3l4-3l5-3l5 0l2 2l0 3l-4 4l-5 3l-6 0l-1-3M149 352l1-3l2-3l3-3l5 0l3 2l0 4l-3 3l-5 2l-4 0l-2-2M258 39l4 0l4 12l1 18l-2 14l-5 1l-4 1l-4-15l0-18l2-12l4-1M396 145l-1 6l-3 7l-5 7l-7 4l-4-1l-1-4l3-6l6-7l6-4l6-2M185 301l2-3l6-2l8-1l7 1l0 3l0 2l-6 3l-9 1l-4-2l-4-2M439 104l2 2l3 2l-9 9l-8 6l-6 0l0-5l5-9l8-9l2 2l3 2M83 186l6 0l8 2l10 5l7 7l0 4l-3 3l-10-4l-10-5l-7-7l-1-5M339 316l-2 3l-4 1l-4-1l-2-4l0-3l2-3l4 0l4 1l2 3l0 3M488 223l-1 3l-4 3l-5 2l-5 0l-3-3l2-3l4-3l5-2l6-1l1 4M79 243l3-2l4-1l6 1l4 3l0 4l-2 2l-5 1l-5-2l-4-2l-1-4M398 423l-4 0l-4-1l-5-5l-2-5l0-4l3-1l5 4l5 4l3 5l-1 3M174 416l-1-4l3-5l3-5l5-4l4 0l2 3l-4 6l-4 5l-4 3l-4 1M401 359l-3 1l-4 0l-4-3l-4-3l0-3l2-2l5 2l5 1l2 3l1 4M202 394l-3-2l1-5l4-5l4-2l3 0l1 3l-1 5l-2 5l-4 1l-3 0M230 493l-2-3l-2-4l1-5l3-5l4 0l2 3l1 4l-1 5l-3 3l-3 2M426 248l0 3l-3 4l-6 2l-4-2l-4-2l1-4l4-3l6-2l4 1l2 3M323 110l3 1l-1 11l-3 13l-5 8l-4 1l-1-5l-1-8l4-11l4-9l4-1M171 387l-2-2l2-4l4-4l4-1l3 1l1 3l-2 4l-4 3l-4 2l-2-2M434 267l-2 4l-3 3l-6 0l-5-1l-2-3l1-3l4-4l6 0l4 2l3 2M164 301l3-3l3-3l5 0l5 1l1 4l-2 3l-3 2l-5 1l-4-2l-3-3M265 423l-3-2l-2-4l1-5l2-5l3-2l3 2l1 5l0 5l-2 3l-3 3M278 398l-4-3l-3-5l0-8l2-6l3-1l4 0l2 6l0 7l0 8l-4 2M379 520l-3 1l-5-7l-7-11l-2-10l1-6l6 3l6 8l6 12l1 9l-3 1M178 251l4-1l6 0l8 3l4 5l1 4l-3 1l-6 0l-8-4l-6-5l0-3M223 191l3 1l3 3l2 4l0 4l-2 1l-2 1l-3-3l-2-4l0-4l1-3M305 476l-4-3l-3-6l-2-6l1-6l4 0l3 0l4 3l1 7l-1 6l-3 5M363 527l-3 1l-4-6l-5-12l-1-9l1-5l3-2l7 12l5 13l0 7l-3 1M84 375l0-5l5-4l7-3l6-1l2 4l1 3l-4 5l-7 4l-7-1l-3-2M452 292l-2 3l-4 2l-6 0l-5-2l-2-3l1-3l6-2l6 0l4 2l2 3M324 178l2 2l0 4l-2 4l-3 3l-3 0l-1-3l0-3l2-4l3-3l2 0M104 410l0-3l2-4l5-3l4-1l3 0l0 4l-3 4l-4 3l-4 1l-3-1M193 171l4 0l6 4l5 10l2 7l-3 2l-2 3l-6-8l-5-7l-2-7l1-4M353 338l-2 2l-4 0l-4-3l-2-3l-1-3l3-1l4 0l4 2l3 3l-1 3M127 492l-2-4l2-5l3-5l4-2l4 0l1 4l0 4l-4 4l-4 4l-4 0M155 486l-1-4l-1-6l4-6l5-3l4 0l4 2l-2 7l-4 6l-5 5l-4-1M278 367l-2-2l-3-2l0-5l1-3l3-2l2 3l2 1l1 5l-1 3l-3 2M169 351l-1-3l4-3l3-2l4-1l3 1l0 3l-3 3l-4 2l-3 1l-3-1M395 392l-3 1l-4-2l-4-3l-2-3l0-3l3-2l4 1l3 4l3 3l0 4M220 316l1 0M246 263l1 1M239 281l2 0M224 302l-3-8M245 247l-6 1M228 268l5-3M231 279l-1 4M226 274l0 2M272 309l2 1M278 291l-1 0M269 282l4 2M272 291l-1 2M296 268l1 0M298 291l-2-10M316 267l0 1M295 273l-5-7M270 264l0 0M305 316l0 2M294 303l2-1M292 284l0-1M306 326l0 2M259 344l-4-7M266 304l6-1M267 293l1-1M270 289l-1 2M298 277l0 0M304 310l0-1M309 318l0 0M245 316l1-1M249 313l2 1M263 317l0 1" stroke="#b05632"/><path d="M275 258l-1 0M308 270l2-1M290 254l2-1M295 248l-1-2M295 238l0-1M216 268l5-2M221 266l7 5M310 328l-5-6M287 235l0-1M291 236l-2 6M296 232l0-1M293 216l0 0M293 216l2 5M230 279l-2 0M167 231l-4-1M255 241l4-3M259 238l2 4M270 250l1 2M62 164l5 6M153 223l8 7M153 220l2 0M288 334l2 3M284 337l-4-6M296 328l1 1M301 325l4 8M293 324l-2-1M294 332l3 2M300 338l0 0M292 371l0 3M125 495l9-5M157 456l1 8M125 495l2 5M134 490l-2 8M139 494l-1 2M233 339l0-1M253 329l-3 6M264 153l5-6M269 147l0 7M270 158l-1-4M300 248l0 0M316 249l6-1M322 248l-2 5M496 193l5-3M214 111l-1 5M175 63l-1-5M203 56l1-3M184 55l1 6M203 56l3 9M227 136l0 0M215 108l1-5M226 100l-3 6M233 254l0 0M228 258l-8-8M237 266l-1 0M225 247l-6-11M232 248l7 5M36 326l-9-4M216 268l-4-1M191 280l-2-1M194 286l3-4M259 238l-1-5M229 159l-2-2M251 246l0-2M251 236l1 0M84 176l-10-6M92 176l2 2M85 177l9 1M134 202l1 2M120 198l1 1M121 199l8 2l6 3M143 207l-5-1M143 207l6 7l6 6M314 328l0 0M342 348l-2-1M285 344l6 7M294 455l-1-12M347 377l3 7M353 385l6 4l8 4M353 385l-2 0M289 361l0-3M292 419l-2-3M165 444l-1 11M157 455l3-5M157 455l-4 5M231 354l0-1M268 339l0 0M268 357l-1-4M263 343l0-9M233 323l-5 5M228 328l-1 1M235 320l-2 3M215 335l9-9M229 371l2 0M208 399l-4 3M326 259l-8 1M226 99l-1-2M221 99l2-5M241 112l-1 0M240 111l-2-9l-2-8M232 96l3-3M264 137l-2-3M268 78l-2 9M263 155l-2-3M253 191l1 11M281 158l-3 8M283 220l1-2M278 206l2 4M294 188l0-1M273 145l4 3M275 160l1 4M276 177l0-4M297 224l5-7M301 248l5-4M309 223l7-5M307 250l1-1M502 195l0 0M504 198l-4 3M500 201l-6 0M209 102l1-6M209 92l1 4M212 54l-1 2M210 56l0 6M216 103l0-1M138 82l4 1M205 201l-5-2M233 264l-3 0M240 239l6 6M212 220l6 8M218 245l-5-5l-6-6M219 290l0 1M219 290l-8-2M170 344l-1 2M213 401l5-7M195 416l1 0M205 418l1-3M208 405l2-4M200 418l6-3M163 442l0-1M181 422l0-9M174 415l-3 2M26 316l-5 2M20 322l-1-1M48 183l0 0M48 183l-6 3M42 186l7 3M195 276l7-2M195 276l7 3M249 215l4 4M255 219l-1-7l-1-8M246 205l3 10M251 202l-1-7l-1-7M225 172l-2-4M248 185l-3-2M241 214l-1-2M55 163l-3 0M85 126l-4-2M85 126l4 8M121 199l8 6M361 294l-5 1M355 295l-2 0M495 333l12 0M514 333l-5-1M350 299l-8-4M364 301l0 0M367 304l-4 1M401 324l-2-3M396 320l3 1M393 325l-5-2M388 323l2-3M396 320l-1-3M301 313l1 0M344 324l0 0M327 333l-7-8M309 317l1 0M339 338l-2-1M431 358l2 7M433 365l-3-1M339 338l0 0M353 341l6 0M343 351l7 5l7 5M354 403l-3-7l-3-6M345 357l4 3M351 387l3 6l3 7M351 386l-3 0M357 400l-1 3M280 338l-1 4M283 347l0-1M280 332l0 6M283 346l-1-1M299 347l1 7M302 497l-3-7M306 368l3 3M150 456l2-2M147 451l8-2M185 432l-2-4M225 432l-1 1M217 424l4-4M161 393l0-1M173 388l-5 6M281 477l2 6M269 479l-2 8M270 508l-1 1M247 499l2 3M233 416l-2 4M247 395l0-4M246 390l1 1M246 344l0 4M228 406l5-6M235 390l-1 3M199 364l4-7M207 420l0 1M244 386l1-2M263 346l-2 4M353 62l-3-9M334 176l-3 2M331 178l0 1M326 262l1-3M407 176l-8 6M396 182l0 0M379 179l5-5l6-5M355 187l10-6M352 196l0 0M353 183l7-6l7-7M351 200l1-4M336 91l-2 5M336 84l-3 3M250 90l0-2M254 98l-1-9M250 88l-1-13M272 86l0-1M271 54l-6 2M271 54l1 3M226 58l1-1M211 56l1 2M272 86l0 10M280 104l3 8M272 96l5-5M291 110l-1-5M257 177l-1-12M247 114l0 1M251 130l0-3M287 127l-2 5M282 145l2-9M301 103l0 2M281 147l1-2M312 185l1-6M321 181l0-6M307 171l2 3M311 158l-2 3M295 149l-2-5M296 147l3-6M299 141l-1-6M298 135l-1-1M271 211l-2-6M265 201l0-4M299 214l5-6M309 221l-4 3M339 286l5-3M376 291l3-1M342 220l0-1M480 185l9-9M492 174l-3 2M494 201l-3 1M500 202l0-1M428 272l7 0l7 0M327 280l4 0M353 271l3-5M231 157l3 8M236 162l2 2M242 167l-1 5M177 233l-3-1M121 88l0 0M124 89l-3-1M97 112l-1 0M180 79l0 0M198 51l-1 0M216 201l-3-7M211 193l2 1M238 240l-3-3M175 225l2-1M100 418l1-1M139 355l3-4M118 370l-1 0M116 364l-10 6M140 396l6-5M119 403l5-1M130 395l-6 7M120 402l9-7M113 413l-3 1M119 403l-3 4M124 402l-2 4M184 347l-8 4M209 339l-8 7M181 396l-3 1M181 391l1-1M189 403l1-1M190 396l1 0M136 475l0-3M25 268l-5-5M43 319l-5 1M37 311l-10-6M52 306l-1 1M36 215l-1 0M222 285l-9-4M174 275l7 2l7 2M135 281l9 0M132 284l-1-1M104 220l4 2M236 187l-5-11M239 227l-4-7l-4-7M54 167l2 1M64 147l3 1M76 151l-8-6M71 144l10 6M83 138l1 1M86 136l1 1M64 153l2 1M69 159l2 0M71 159l0 0M364 301l9 0l10 0M364 300l3-2M463 325l7 3l7 2M462 324l6-1M513 319l2 1M344 319l-8-3M440 316l-13-2M418 308l-1 3M328 309l1 0M325 308l3 1M376 316l-9-4M395 317l6 1M346 314l3-2M364 320l3 4M328 327l-2-3M309 314l-1-2M334 365l1 3M327 365l1 1M338 367l-4-2M430 487l-2-6M423 478l6 9M423 478l5 3M434 482l-1 1M426 490l-4-4M410 500l2-1M479 404l0 0M409 351l-10-6M401 352l4 1M407 360l-1-3M419 364l6 6M435 366l10 4M351 349l-1-4M341 338l0 0M475 417l-6-8M485 417l-2 2M360 382l-3-7M285 537l-1-5M302 497l-2 4M345 501l-4 0M346 527l1-5M322 437l0 0M314 459l6 1M312 453l0-6M313 444l-1 3M307 456l-2-3M314 418l-2-4M293 443l0 0M328 440l1 7l1 7M315 425l5 5M322 437l-1-5M332 392l-2-2M315 359l-1-8M316 353l-2-2M318 366l0-1M300 338l3 8M283 360l2 5M285 356l-2 4M269 357l0 2M275 374l-3-5M292 419l0 0M291 408l-4-7M177 430l2 1M182 429l-3 2M185 418l-4 4M134 503l-1 1M136 505l1-1M138 502l-1 2M200 466l-1-5M203 463l1-2M202 355l3-4M205 350l2-3M172 379l1-1M180 370l-2 1M162 408l6-5M277 410l0 1M278 418l-1-7M251 503l-2-2M254 504l-2 6M272 402l-1 4M247 414l-4 4M242 413l0 2M200 418l0 3M237 367l-1 4M194 392l-3 4M198 391l1-2M378 161l-3 9l-2 9M366 182l7-3M394 122l0 1M318 187l-3 6M344 261l-1 1M396 182l-6 7M390 190l8-4M410 204l9-4M461 184l-7 8M479 172l-8 4l-8 3M444 184l4-4M308 111l0 1M224 84l-3-11M228 86l0-3M228 83l-3-7M248 57l4 1M249 50l1-1M248 68l-1-5M242 46l1 4M251 111l3 13M278 134l-1-6M300 65l-2 8M326 163l-1 10M295 149l0 3M290 167l6-3M300 160l0-8M270 160l1 5M268 160l2 12M270 199l-1 2M265 197l2 0M304 207l0-4M342 219l2-3M346 205l0 2M486 195l-1 0M486 195l-2 2M487 195l-1 0M493 174l0 0M378 246l6-6M400 236l-5 1M511 229l-10 4M498 236l0 0M492 271l-7-1M356 266l-6 1M331 269l9 0M410 267l5-3M401 260l2 2M389 255l8-3M388 258l0 0M415 237l6-2M409 246l4-2M433 262l-3 0M211 134l0-5M205 131l1-4M206 127l3 6M211 129l-6-5M180 194l0-5M187 202l0-7M124 123l-4-5M96 121l4 6M95 127l6 2M100 127l1 2M102 134l4 2M101 129l2 1M107 137l-1-1M112 140l0-1M105 139l7 4M123 106l-6-4M124 89l2 2M213 194l3 1M227 208l-1-5M199 215l2 0M189 211l2 3M204 228l-6-4l-5-4M191 214l2 6M221 257l-10-5M190 176l-2-2M206 241l5 3M200 234l-1-2M80 408l-1 0M94 403l1-5M46 406l-1 2M135 350l6-3M126 354l4-7M117 354l2-2M117 354l-3 1M75 379l5-2M110 373l-6 4M54 318l-5 5M37 374l-5 3M37 374l-3-1M46 293l-3 5M115 291l-2 4M144 294l5 1M164 293l-3 5M140 293l3 0M159 290l-8 0M166 292l-2 1M144 294l-1-1M127 293l2 0M197 337l-1 0M192 338l-3 0M225 305l-10 6M80 454l-1-2M82 445l-2 1M140 376l0 1M133 386l5-8M138 378l2-1M147 368l-12 3M161 356l-7 5M196 388l4-3M185 440l-6 11M187 449l1-3M179 451l0 1M186 416l1-1M187 415l5-11M148 421l-2 10M97 467l-4 5M101 459l0-1M89 453l-9 6M90 453l-6 5l-2 3M161 409l-1 5M105 445l-5 5M523 301l0-4M101 283l-1 0M55 290l5-1M64 294l-1 0M71 276l3 0M86 279l-14 0M21 250l5 0M24 244l-1-1M49 189l1 1M50 190l4 2M67 205l3 1M40 196l-1 1M36 208l-2-7M170 258l2 2M174 232l-2 3M160 231l0 1M160 232l5 4M118 277l-1 5M131 283l-13 0M104 283l2-1M114 199l0 0M116 199l8 6M128 222l6 0M124 234l5 2M129 236l3 0M77 195l2 2M58 192l10 5M72 141l-4-1M71 144l-3-4M121 166l-2-2M110 163l5 4M176 201l0 0M176 195l5 1M120 196l-11-8M110 184l1 1M107 180l3 4M387 302l8-3M413 303l-1 0M413 303l-12 2M416 307l-7-1l-8 0M491 319l1 5M492 324l-3 0M502 320l0-1M458 319l5-1M452 315l11 3M494 335l12 3M490 379l7 1l8 2M308 303l1 1M413 315l6 4M380 322l-10-3M385 319l-7-1M404 315l-5-1M448 349l8 0M445 345l6-1M388 347l-3-1M380 353l-1-3M358 338l2 0M373 422l-1-2M426 490l0 1M489 413l-6-3l-7-3M479 404l-7-1M407 336l-7-2M396 336l4-1M424 373l-8-3M430 376l-6-3M373 363l0 0M429 475l0 1M414 486l0-1M334 394l-2-2M339 389l2 6M347 397l-6-2M374 400l8 2M373 382l-5 0M281 521l2-3M280 518l1-5M281 513l2 0M243 482l0-2M251 503l2-7M251 510l1 0M261 460l3 4M265 463l-1 1M259 439l0 0M261 422l0 0M260 427l1-5M255 417l2-10M302 512l-2 10M345 501l0 0M314 472l1-2M309 430l0 1M312 439l-3-8M304 416l1 8M315 464l5 6M331 483l-3-10M337 482l-2-3M281 509l-2 0M285 505l0 7M286 513l-1-1M325 424l-4-4M332 439l0 0M325 424l1 1M325 432l-1-4M319 367l-1-1M269 371l0 12M289 391l-1 5M288 396l4 8M147 484l-3 6M153 482l-2 1M184 460l4-6M197 447l2-7M169 508l5-9M166 506l-1 1M228 472l0 4M210 459l0 2M173 378l-2-1M218 358l-5 5M213 363l-2 3M179 393l-4 4M173 399l2-2M168 399l0 4M275 413l-1 8M276 425l2-2M276 425l-1-1M254 359l1 12M251 370l3 3M254 357l1-3M246 390l6-7M325 195l0 1M377 68l4-3M342 135l3-4M342 122l3-7l3-7M349 107l-1 1M346 128l4-4M518 282l-7 0l-8 0M480 272l-3-2M369 196l3-2M378 191l0-1M352 196l-3 2M439 173l4-4M404 207l3-1M436 153l3-2M466 138l-2 1M467 138l-1 0M471 156l-5-1M466 164l-1 0M333 74l-3-2M305 65l3 4M308 104l4-7M312 107l1-10M308 99l0-3M311 74l-2 8M297 70l-2 2M295 72l0 6M268 182l2-9M270 173l0 0M425 289l-4 2M379 275l1-2M321 231l2-1M325 227l-2 3M317 227l-1 3M314 235l1-2M325 222l-1 3M326 226l-1 1M330 217l3-1M334 247l2-1M328 243l3-1M494 184l4 0M494 179l2-1M478 200l-9 0M490 207l-4 2M418 231l5-2M388 232l11-6M376 236l-4 1M421 215l-11 5M500 202l6-1M234 149l0-4M198 101l4 6l3 6M196 194l1 1M197 195l0 1M117 105l0-2M95 138l3 4M155 84l3 8M220 199l4 3M216 195l1 0M217 229l-6-4M187 173l-4 1M38 374l0 0M42 390l-4 1M74 385l2-1M70 381l-3 6M74 385l-7 2M94 341l-1 0M118 348l-6-1M109 349l-1 6M64 370l1-2M177 320l2-3M172 314l6-1M186 314l-7 3M68 309l0 0M168 304l-8 6M27 347l6-2M33 345l1-3M55 290l-3 1M52 306l-1-2M99 298l2-1M209 328l0 0M164 341l3-4M152 340l2 0M167 337l3-2M69 412l3-1M49 408l7-1M51 411l2-1M53 410l3-3M53 404l-4 4M51 416l-1 0M119 376l-2 6M102 393l6-3M122 377l-2 4M192 449l3-7M199 440l1-4M198 402l-5 5M198 402l-6 10M193 407l-2 6M118 458l4-1M110 469l-1-3M148 421l-6 6M126 479l3-8M107 448l0 1M104 468l-4 3M107 460l-3 2M97 467l2-1M118 438l0-1M96 291l-7-2M29 240l-6-4M29 240l9 0M143 258l1 1M151 269l-5-4M150 239l0-1M194 251l9 2M209 259l1 0M206 265l-6-1M201 269l-5-7M177 257l0-1M156 282l0-2M123 287l-2 1M129 291l-2-1M118 218l-7-7M125 225l3 2M193 143l2 6M196 144l-3-9M77 195l-2-3M75 191l0 1M84 178l-4 0M68 171l2 2M74 174l-4-1M121 173l2 4M121 173l6 1M129 181l8 2M132 162l-6-2M107 161l-3 0M104 161l0 0M115 162l-7-4M108 158l-1 0M96 179l2 6M513 319l-2-1M522 301l-7-1M449 306l9 0M387 305l14 2M466 317l-2-3M467 312l-8-3M497 354l6-1M502 342l6 2M486 341l7 0M514 350l-8-4M509 351l-4-4M466 363l1 1M475 369l-4-3M464 358l3-4M505 382l0 1M325 308l-4 0M436 356l-3-6M433 350l3-1M469 401l-7-5M474 397l-6-7M468 390l-1 0M453 392l1 1M459 387l5 2M462 381l-2-1M453 392l-3-1M441 381l-2 0M441 375l-1 0M397 387l-6-4M418 439l11 6M421 434l7 9M404 423l0 0M404 423l6 6l7 6M458 440l3 2M460 447l9 1M360 456l4 8M356 445l4 10M364 431l0-2M358 459l2 5M355 491l2 4M236 456l-1 7M236 456l6-6M250 477l2 10M267 487l-2 1M265 488l-2-7M257 497l0-5M264 436l1-8M263 387l-2 6M261 393l0 0M278 433l0 1M280 446l1-2M284 435l-1 2M275 439l1 6M272 439l1-2M278 457l1 4M279 466l-5-7M305 527l1 5M295 494l0 0M324 477l0 5M320 470l0 3M321 479l0-1M310 473l0 5M312 406l1 2M311 409l0 1M307 398l0 3M284 502l-1-6M285 512l-1-2M330 454l3 6M316 410l1-3M321 416l-1-7M317 417l0-1M316 415l1 1M173 470l-1 2M170 498l2-7M178 491l0-2M235 442l-1 10M242 449l-1-10M238 443l3-4M169 373l5-2M208 358l-2 2M209 362l0-5M208 363l1-1M225 485l0 0M355 120l-4 5M355 120l4-9M371 65l2-2M422 116l0-3M420 125l2-2M414 125l-1 7M403 109l4-8l5-7M357 121l4-4M360 104l4-5M350 106l0-1M350 105l-1-8M350 105l4-9M366 66l4-2M370 62l0 2M364 77l2-11M364 78l0-1M501 243l12-5M469 248l3 2M353 211l-2 2M451 130l-2 3M440 142l9-8M444 135l0-1M382 201l-7 5M423 151l2-3M412 175l2 0M418 170l1 1M346 207l0 1M448 180l0-1M440 177l2 0M434 176l1 4M425 186l9-5M445 168l4 0M480 168l5-5M473 167l2 2M463 179l9-8M454 158l0 0M335 66l-1 0M304 95l1-2M313 97l2-4M315 93l0-3M319 90l-3 4M304 122l-2 6M301 123l0 0M305 123l-1 7M308 138l0-2M313 52l3-7l2-1M303 47l1-5M338 146l1-2M326 161l5 0M327 175l2-7l2-7M338 159l-6 1M474 288l-1 0M474 288l3 0M414 284l1 0M407 281l8 2M386 270l-6 1M386 270l-7-1M355 204l-2 1M365 216l1-2M491 219l-5-4M488 214l-1 1M372 236l-5-1M372 236l6-5M364 234l4-4M452 256l3-4M471 251l-7-2M447 268l0 0M461 263l9-1M447 267l1-1M455 272l-2 0M392 257l11 1M491 219l0 0M476 233l-13-1M469 222l2-1M469 222l-11 4M436 241l10-9M210 120l-1 2M103 143l7 8M112 156l-4-3M98 142l3 1M126 160l0 2M145 152l-6 1M134 150l-2 0M178 158l-2-2M156 142l-1 0M134 100l0-3M137 100l1 7M149 133l-2-1M146 76l-1-4M155 84l0 0M156 78l-1 0M199 129l-3-12M189 229l-2 0M184 216l3 7M105 402l2-2M107 400l1 0M106 400l-1-4M122 381l5-2M115 391l-3 0M59 424l-1 1M63 427l-3 2M47 361l1-1M48 360l-9 2l-8 1M57 382l-5 0M36 382l7 0M51 395l2-6M53 389l7 2M44 398l7-3M112 347l7-3l7-3M112 347l-1-3M107 356l-3 0M59 358l8-2M76 338l-5 3M56 340l6-1M61 317l5-1M65 336l4-1M131 311l-9 6M153 320l-4 2M194 317l-7 1M165 328l-1 1M186 314l-2-2M187 307l2 0M211 311l-13 2M161 359l-5 3M148 367l8-4M119 455l1 0M120 455l6-3M131 437l-7 7M143 434l-11 4M121 478l0 3M122 476l2-1M135 449l-6 4M126 452l0 0M137 451l-6 9M124 470l4-8M131 460l-1 1M124 429l-1 2M103 430l4-2M509 297l3-1M144 272l1 0M44 285l-8 0M137 268l-7 2M124 264l-1 1M123 265l4 4M137 268l0 0M123 265l0 0M121 234l-3-1M68 198l7 5M68 197l0 1M64 198l2 0M159 256l-1-1M155 248l-2 0M165 236l-9-1M182 244l4 3M181 239l2 1M155 272l2 1M165 273l1 1M160 279l4-2M111 210l9 3M198 140l4 5M98 185l1 1M469 300l0 0M476 319l-3-4M486 341l3 3M506 369l1-2M473 371l-7-2M453 340l12 1M451 344l-7-3M473 344l-6-1M494 362l4 2M434 345l-5-4M431 344l3 1M414 485l-2-2M405 456l-2-3M402 445l0 0M415 375l3 4M418 382l-10-6M429 385l-1-1M486 395l-11-4M487 399l-3-1M412 386l7-1M409 383l-1-4M419 385l0 0M433 427l-2-1M441 423l-8-4M441 423l-1-7M408 402l1 1M409 403l1 0M414 454l2 6M365 436l0 2M389 509l3 4M389 509l-2-6M384 395l-3-4M385 402l1 0M239 478l-2 3M236 511l-1-1M235 491l3 7M233 513l2-3M233 513l-3 11M260 488l0-1M286 481l1 2M284 482l1 3M290 488l-4 7M290 482l0 4M312 527l2 5M334 474l1-1M334 471l0-3M336 464l2 5M334 468l4 1M343 471l-5-1M157 516l-1 2M157 513l-4 1M187 505l0 2M183 516l4-8M158 516l7-9M192 462l-1 2M180 519l1-2M207 529l2 6M239 428l-2 10M237 438l4-3M242 432l-1 3M386 71l-2 1M391 70l0 2M391 72l3 0M391 72l-1 3M417 131l8-2M425 129l-3 4M414 124l-1 0M393 130l4 0M389 87l1-4M383 93l3-1M391 77l-1 5M390 82l0 1M471 287l3 1M479 284l6 3M502 288l-2 0M485 276l5-2M471 240l-4-1M457 243l10-4M461 237l7 0M470 243l11-3M469 243l1 0M382 198l0 0M376 215l8-1M340 205l0 0M340 205l-5 7M346 202l-3 2M337 214l0 0M470 146l-1 2M430 207l-2 4M314 119l0 2M319 90l-1 4M323 85l0 6M323 91l-4 6M315 107l4-9M329 84l-3 8M326 92l-1 1M303 139l0-1M313 54l2-1M313 52l0 2M334 103l-4 4M311 147l0 0M290 58l0 2M287 47l-1 5M289 69l0 0M479 284l-1-1M451 290l2 0M462 288l0 0M468 290l-3-1M473 288l-1 0M372 247l-2 0M363 247l-3 0M365 216l-1 0M342 232l-3 4M479 214l-2 0M463 218l-2 0M442 221l10 0M459 265l8 1M469 267l0 0M416 264l5 0M430 262l-2 0M431 252l9-2M431 252l0-2M431 250l6 0M105 102l0 2M136 147l-1 0M116 127l8 3M165 99l2 0M163 142l-3-6M153 132l0 0M150 127l-7-6M142 132l-7-10M202 116l1 4M178 87l7 12M69 436l-2 1M70 442l4-2M27 347l9 2M46 349l-6-2M80 342l3 0M84 342l-1 0M76 338l1 0M64 370l11-5M81 367l-6-2M81 367l4-1M108 334l0-1M135 325l-7 4M126 329l0 0M84 312l-5 0M84 312l0 4M84 316l-11 1M66 316l5 0M89 318l-7 1l-8 1M31 339l3-2M34 337l2-1M99 298l0 0M73 293l4 3M141 332l3-1M181 326l7-2M170 332l8-3M173 334l4-2M189 307l2 1M190 310l2-1M145 440l-3 5M143 412l0 2M143 412l-5 4M157 401l0 0M143 412l0 0M123 262l-13-2M110 260l-1 0M60 252l5 0M73 254l-8-2M32 281l0 0M111 228l-5-2M30 220l7 2M169 242l0 0M109 208l4 0M226 189l-3-8M100 190l2-2M99 186l3 2M437 298l-7 0M441 296l-4 2M480 344l1 0M498 347l-4-1M498 347l4 5M470 377l-8 0M486 371l12 1M498 372l2 1M419 345l0 0M419 345l-5-5M421 345l-2 0M400 335l8 4M382 448l0 0M392 458l-4-6M393 459l-10-8M470 427l8 4M458 422l-4-4M460 416l9 8M460 416l-1 0M451 406l-4 0M447 406l-1 0M444 408l-1-3M447 416l-6-6M451 418l-4-2M493 395l-3-2M497 403l-6 1M421 414l-1-2M410 403l2 1M435 469l9 7M433 468l2 1M440 446l10 7M359 435l-6-12M380 460l1 0M381 460l4 12M384 476l-6-9M393 413l-2-3M261 490l2-4M265 490l-1 2M338 482l5 7M339 475l0 0M192 510l2-3M193 494l-5 12M158 507l-3 2M153 502l6-2M182 358l1 2M184 350l-5 10M218 489l1-1M218 489l-1 4M214 491l4-2M210 506l4-7l3-6M225 485l-5 13M408 124l2-7M417 115l-3 1M410 82l2 1M385 209l3-3M384 210l1-1M320 105l4-3M309 128l0-2M309 122l0 4M322 55l-3-9M315 53l4-7M312 154l3-7l3-8M418 185l-3 2M342 236l0-1M342 235l5-5M490 233l4-4M511 219l-1-3M477 214l-2-1M468 212l2 2M479 250l7 0l7 0M506 253l6-1M113 109l4 4M117 113l1 2M119 117l0-1M110 318l2 1M156 314l-8 3M122 311l-7 3M152 324l-1 1M122 239l-4-1M79 232l-10-6M34 233l1 0M49 224l1 3M37 222l6 2l7 3M210 175l-1-1M210 150l0 1M214 166l-1-5M221 174l0 1M219 169l0-2M221 175l0 1M216 172l-2-2M203 171l-5-5M469 302l2 1M453 300l0 1M458 306l3-1M451 297l-2-1M485 351l-3 0M493 370l-8-4M489 365l4 1M394 461l4 3M435 392l-1-3M497 388l-6 0M450 454l0-1M447 456l-2-1M451 463l0-1M362 468l5 8M370 478l-3-2M400 413l-2-1M225 535l0-1M225 535l-3 2M208 519l-4 2M201 529l0-3M306 127l1 2M328 120l-2 3M329 108l-2 2M327 110l-2 10M372 217l-4 3M513 248l6 1M143 121l-4-6M122 311l-12-2M209 172l-3-6M204 172l-1-1M198 166l-2-7M200 160l-6-10M406 474l-5-4M393 464l5 6l5 7M407 479l-3-1M394 461l-1 3M443 455l3 7M438 458l5 5M386 482l1 1M386 482l-1 2M367 476l0 2M362 493l-8-7M350 481l3 3M196 517l-1 5M200 521l-3 4M235 491l-3 7M229 526l-1-4M213 530l0-1M377 221l5-4M382 217l0 0M159 134l-6-9M105 251l-9-1M76 226l7 1M200 160l0 1M200 161l3 9M204 165l-1 5M385 486l3 2M225 534l-1-12M173 368l-1 0M171 367l0 0M175 364l-3 3M172 367l-1 0M169 370l2-3M162 102l4 8M183 152l-1-2M153 125l5-1M178 125l-2 0M176 125l1 8M182 139l-4-4M60 242l12-1M83 239l-1 1M85 232l10 4M197 525l-1 8M175 138l-4-4M453 154l-2 7l-10 10l-13 10l-9 3l-7 1l1-5l10-9l10-9l12-6l8-2M406 491l-4 0l-5-4l-4-5l-2-7l3-1l3-2l5 4l4 5l2 6l-2 4M165 264l3-3l6 0l7 1l7 4l-1 4l-2 3l-7 2l-7-3l-5-4l-1-4M346 180l-1 9l-4 11l-8 13l-10 10l-6 0l0-8l4-10l8-14l10-9l7-2M394 453l-4 0l-5-2l-4-5l0-4l1-5l4-1l5 3l5 5l-2 4l0 5M464 167l0 4l-3 5l-5 3l-5 2l-4-3l1-4l2-4l5-4l6-1l3 2M399 334l-4 2l-4 2l-5-2l-3-3l-2-4l4-3l4-1l5 2l3 3l2 4M239 117l5 7l4 10l4 14l1 17l-6-1l-4-2l-5-11l-3-15l1-12l3-7M402 314l-5 3l-8 1l-10-3l-7-3l-5-4l4-2l9-1l10 2l6 4l6 3M381 77l1 4l-1 10l-7 12l-6 7l-6 4l-4-3l6-14l6-11l6-8l5-1M321 408l-5-1l-6-8l-6-13l0-8l1-7l5 3l6 7l5 12l3 11l-3 4M374 284l-1 3l-3 2l-5 0l-3-2l-3-2l2-2l4-2l4 0l3 1l2 2M342 100l2 5l-1 6l-3 7l-4 6l-4 2l-3-2l1-8l3-9l5-5l4-2M163 71l4 0l6 8l5 11l3 10l-1 6l-5-2l-7-8l-5-12l-3-10l3-3M277 100l3 3l2 8l-1 9l-2 6l-3 4l-3-4l-2-7l0-9l2-7l4-3M51 172l4-2l9 3l9 5l6 6l3 5l-6 1l-9-3l-10-4l-6-6l0-5M228 442l-3-2l-1-6l2-7l4-4l5-4l2 5l1 6l-2 8l-4 4l-4 0M464 130l2 2l-3 4l-6 6l-6 2l-4 0l-1-4l5-5l6-7l5-1l2 3M45 353l0-4l6-3l8-3l7 1l3 2l-1 4l-7 3l-7 3l-7 0l-2-3M231 204l3 0l4 3l1 5l0 4l-2 1l-3 1l-4-2l-1-4l0-5l2-3M60 406l3-7l10-9l16-9l12-2l9-1l-3 8l-10 9l-17 8l-13 4l-7-1M253 404l-3-4l-2-9l2-12l4-7l4-3l3 4l1 8l-1 12l-4 7l-4 4M129 223l6 0l6 2l7 3l7 4l-1 3l-3 2l-7-2l-7-3l-5-4l-3-5M196 282l2-3l4-2l6 1l3 3l1 3l0 4l-6 0l-6 0l-4-3l0-3M64 304l4-3l4-3l6-1l5 2l3 3l-3 4l-4 3l-6-1l-5-2l-4-2M520 312l-4 4l-15 1l-17-2l-20-3l-4-5l12-2l13-1l18 0l15 4l2 4M140 381l4-6l4-6l10-7l11-6l3 3l-3 6l-4 6l-11 8l-8 1l-6 1M348 253l-1 4l-4 3l-5 4l-5 0l-2-2l0-3l3-4l6-3l5 0l3 1M98 288l1-3l6-2l6 0l5 2l2 3l-2 4l-5 1l-7 0l-5-2l-1-3M298 413l-3-1l-2-4l-1-4l0-4l3-3l3 1l2 4l2 4l-1 4l-3 3M491 199l-1 4l-4 4l-7 4l-6-1l-2-3l-2-3l6-4l7-4l6 1l3 2M207 358l2-7l6-10l10-11l7-2l8-5l0 5l-8 11l-9 10l-8 3l-8 6M391 198l0 3l-3 4l-3 3l-4 1l-3-1l0-3l2-4l4-2l4-1l3 0M328 46l4 1l2 6l-6 19l-5 15l-5 4l-3-5l2-17l4-18l4-6l3 1M298 391l-4-1l-3-3l0-4l0-4l3-2l3 0l3 3l1 4l-1 4l-2 3M404 86l2 2l-3 7l-4 7l-5 5l-3-1l-1-3l2-6l4-7l5-4l3 0M140 477l-2-3l1-5l4-5l4-2l4 0l1 4l0 4l-4 4l-4 4l-4-1M135 166l9 4l10 5l10 12l10 11l1 6l-5 1l-12-9l-12-11l-7-9l-4-10M207 197l6 3l7 7l8 11l6 13l-3 1l-5 1l-8-8l-9-12l-3-11l1-5M194 382l-2-3l3-6l6-5l5-5l3 1l0 4l-1 5l-6 6l-4 2l-4 1M189 56l7 7l6 12l6 16l2 14l-2 5l-5-2l-7-14l-6-15l-3-15l2-8M400 240l1 4l-4 3l-4 2l-5 0l-3-3l0-4l4-3l4-3l4 2l3 2M242 511l-3-2l0-7l0-8l3-6l3-1l2 3l1 6l-1 8l-2 5l-3 2M184 443l-2-3l1-6l3-6l5-3l3 0l3 2l-1 6l-4 7l-4 2l-4 1M426 488l-7-3l-7-4l-7-10l-3-8l0-5l5 0l7 6l6 9l6 9l0 6M457 209l-1 4l-3 4l-5 2l-5 0l-2-3l0-3l2-4l5-2l5 1l4 1M59 289l0-2l5-2l6 0l4 2l3 3l-3 2l-5 1l-5 1l-4-2l-1-3M389 106l2 3l-1 5l-4 5l-4 2l-3 0l-2-2l2-5l3-4l4-5l3 1M257 490l-2-3l-1-4l0-5l2-4l3-2l2 2l2 4l-1 5l-2 5l-3 2M416 290l-2 4l-5 1l-6 1l-5-2l-4-4l4-3l5-2l6 0l4 2l3 3M349 275l-1 3l-5 2l-5 1l-5 0l-5-2l3-3l5-3l6-1l4 1l3 2M130 209l3-2l4 0l4 3l4 4l-1 3l-3 2l-5-1l-3-3l-3-3l0-3M263 155l3 1l2 5l0 5l-1 5l-3 2l-3-3l-3-3l0-5l2-4l3-3M112 479l-2-3l2-5l4-5l5-3l3 1l1 4l-2 5l-3 5l-5 2l-3-1M199 339l-1-2l2-4l4-2l3 0l3 1l0 3l-2 3l-3 2l-4 1l-2-2M31 327l2-3l5-2l6-1l4 1l2 2l-1 2l-4 3l-6 1l-6-1l-2-2M488 383l-3 2l-6 0l-7-3l-3-4l-3-4l4-1l6 0l6 3l6 4l0 3M508 222l-1 3l-5 4l-6 2l-4-2l-5-1l2-4l4-3l6-2l5 1l4 2M37 214l2-2l6 0l6 3l6 3l0 3l-1 3l-7-1l-7-2l-4-3l-1-4M251 173l3 3l3 3l1 7l-1 5l-3 2l-3 0l-3-5l-1-7l1-6l3-2M197 413l-2-1l2-5l2-4l3-2l3 0l0 3l0 3l-2 3l-3 3l-3 0M368 311l-2 2l-4 2l-6-1l-4-3l-1-3l2-3l5-1l5 2l4 2l1 3M436 227l0 3l-2 4l-6 1l-5 1l-2-3l1-3l2-3l6-2l5 0l1 2M437 341l-2 2l-5 0l-5-1l-3-3l-1-3l2-1l4-1l6 1l3 3l1 3M123 254l3-2l4-1l5 1l4 3l0 3l-2 3l-4 1l-5-2l-3-2l-2-4M310 364l-3 2l-3-4l-1-3l-1-4l1-3l3 0l3 3l3 3l0 4l-2 2M183 367l-3-3l4-5l5-4l5-2l3 2l1 3l-3 5l-5 4l-5 2l-2-2M167 460l-1-4l2-5l2-6l5-3l3 0l2 3l-2 5l-3 6l-4 4l-4 0M235 51l4 2l2 6l1 7l-1 6l-2 4l-4-3l-2-6l-2-7l1-6l3-3M425 402l-5 2l-7-3l-6-4l-5-6l1-4l4-2l7 2l6 5l5 6l0 4M494 362l-3 2l-8 0l-8-3l-5-4l-2-3l4-2l6 0l7 3l6 3l3 4M381 486l-3 1l-4-4l-3-5l0-5l0-4l4 1l4 4l3 5l0 4l-1 3M75 282l2-2l6-2l7 1l5 2l3 3l-4 2l-4 2l-7-1l-7-1l-1-4M356 289l-2 3l-3 2l-5 1l-4-2l-2-4l1-3l5-2l4 0l4 2l2 3M91 313l1-3l4-2l5 0l6 0l0 3l-1 3l-4 2l-5 1l-4-2l-2-2M257 535l-3-3l-2-5l0-6l3-5l3-3l3 4l1 5l0 6l-1 5l-4 2M98 446l-2-2l3-5l5-5l5-1l3 1l-1 3l-1 5l-5 4l-5 1l-2-1M187 494l-2-3l-1-5l3-7l4-4l4-2l1 5l0 5l-2 6l-4 5l-3 0M134 288l1-3l4-2l6 1l5 2l2 2l-2 3l-5 1l-5-1l-5-1l-1-2M305 453l-5 1l-4-13l-2-10l-1-11l4-4l4 4l4 9l2 10l0 8l-2 6M305 160l2 2l1 4l-2 5l-2 3l-3 1l-2-2l0-4l1-5l3-3l2-1M217 382l-2-2l0-4l3-5l4-2l3-1l1 3l-1 4l-2 5l-3 2l-3 0M435 213l0 4l-4 3l-6 3l-5 1l-5-1l3-4l3-3l6-3l5-1l3 1M456 192l1 3l-4 4l-5 3l-6 1l-2-2l1-4l2-4l5-2l5-1l3 2M507 283l-3 2l-5 3l-6-1l-7 0l-1-3l2-3l6-1l6-1l5 1l3 3M311 203l2 3l0 5l-2 6l-4 3l-4 0l-2-2l1-6l2-5l4-4l3 0M305 295l-8-3M310 285l3-3M313 282l3 0M300 289l-2 2M302 282l-2 7M302 282l2 0M285 328l-4 2M299 338l-5 2M235 321l0 6M239 248l0 2M239 270l5 1M245 277l-1-6M237 284l-3-1M241 297l-1 2M312 258l-4 4M308 302l-4 3M296 293l-2 3M288 291l0 4M295 327l1-2M275 333l1 1M320 295l1-3M316 324l1-3M296 268l-4-1M288 269l-9-3M285 272l-7-5M290 266l-2 3M291 318l4 0M241 281l2 3M248 279l1 2M252 273l2 0M253 282l1 0M253 265l2 7M286 300l4-2M284 299l1-1M278 291l0 0M274 312l0 1M274 312l-5 1M254 308l7-4M254 308l2 2M251 340l4-3M268 296l-1-3M258 292l5-7M291 259l-5 1M282 256l2 0M279 248l0 2M258 293l-1 1M248 286l0 3M262 275l0 0M266 274l3-1M308 316l2 1M246 315l1 0M255 326l1-1M313 270l1 5M294 243l-4-3M273 255l-7 0M252 321l3 0" stroke="#27a2b0"/><path d="M280 255l-1 0M251 323l-2 3M249 326l-4 6l-5 6M240 336l-1 1M240 338l-1-1M280 255l0-10M280 257l1-3M287 235l-3 1M304 271l4-1M304 271l0-4M297 239l-3 7M300 239l-4 7M289 247l1 1M290 248l2-4M302 232l-7 4M238 264l-1 2M299 318l6 4M304 327l-3-2M268 336l-3-2M246 342l-5-2M235 339l4-2M241 340l-5 6l-5 7M268 251l0 2M268 251l-2-4M268 255l0-2M262 249l3-1M270 257l-2-2M287 223l0-7M289 223l4-7M289 209l-2 7M305 290l11-5M316 285l-1-2M318 278l1 3M319 281l-4 2M292 259l3 0M313 257l1-3M312 255l0-1M327 226l4-3M330 229l2-5M331 223l1 1M326 226l7-10M326 226l1 0M331 223l2-7M290 248l0 0M295 248l-3 5M287 234l1 0M296 231l4-3M240 276l-4-3M236 273l4-1M226 287l-2-2M269 250l1 0M266 247l1-4M267 243l3 7M271 252l1-2M275 232l3 4M61 161l3 1M70 166l-6-4M153 223l0-3M161 230l0 0M152 224l-10-3M142 221l-2-1M152 225l8 6M307 301l1 2M288 334l1-6M289 328l5 9M299 329l6 4M305 333l0 1M307 337l0 0M289 327l0 0M294 338l1-1M290 327l4 5M301 338l-1 0M301 333l2 5M289 367l0-6M283 347l2 9M285 356l4 2M147 480l-1 1M163 460l0-4M125 495l-1 0M132 498l-2 2M271 335l3 4M272 329l3-2M273 348l1-9M271 350l-3-11M280 331l0 1M280 332l-4-2M241 320l1 1M235 339l-2 0M236 317l1 1M249 338l1-3M264 153l0-7l0-9M268 137l-4 0M272 153l0-4M330 267l1 2M332 289l5 3M318 286l3 1M316 285l2 1M293 254l7-6M304 239l-3 9M300 248l1 0M297 257l1-1M337 219l4 2M316 249l-3 2M496 193l6 1M212 123l2-4M210 115l3 1M240 112l-1 6M206 51l-1-3M204 53l-3-4M206 74l0-9M226 136l0 3M219 139l2 2M214 111l4 13M221 124l0-6M226 118l-2-3M229 113l-3-13M229 113l-2 5M143 78l0 1M227 253l-3-6M227 253l1 1M241 260l-1 2M230 259l3 1M228 258l2 1M220 250l-2-2M218 248l0-3M221 245l-3 0M236 266l-3-2M241 251l5 7M27 322l5-2M228 279l-2-1M225 277l-6-3l-7-4M197 282l-6-2M274 218l4-12M272 210l4-7M261 242l2-7M262 231l0 0M263 235l-1-4M231 157l0-2M227 136l2 9l2 8M226 139l0 6M231 153l0 2M247 239l4 5M252 236l-1 8M247 237l5-1M248 222l0 8M240 237l-3-9M246 242l-4-7l-4-7M237 228l0 0M45 178l0 0M82 151l10 8M133 202l-5-6M128 196l5 1M84 176l-4-5M80 171l-8-3M80 170l0 1M133 202l-12-7M128 196l-6-3M311 297l-6 0M326 301l-7 3M307 301l0 0M326 301l5 0M440 317l7 3l7 3M454 323l-6 2M309 321l-2-2M319 328l-5 0M328 340l1-3M290 338l0 2M340 347l-6-2M303 338l5 3M299 449l0 3M299 449l-3-5M296 459l-2-4M296 444l-3-1M283 416l0-5M288 428l4 0M118 491l5-3M157 456l0-1M164 443l0 0M153 460l-2 1M188 419l0 7M200 418l-2-3M185 373l-11 6M192 372l5 0M190 378l2 1M178 384l6 0M249 338l5 0M244 374l1 3M231 354l5 0M269 357l2-7M212 424l0 7M215 388l-1 0M215 388l0 2M215 390l-7 9M263 333l-3 1M354 61l3-6M354 61l0-7M326 259l-6 7M327 258l2-3M329 255l-1-4M322 248l6-5M307 265l12-7M403 173l5 0M401 176l7-2M467 138l1-3M226 100l0-1M223 106l-2-7M236 94l-1-1M263 118l3 7l3 8M269 133l0 0M267 88l-1-1M255 144l0 7M255 152l0-1M264 153l0 2M262 134l-2 3M254 141l3-6M271 133l4-6M286 117l-2 0M301 103l3-8M297 100l0-3M281 222l2-2M289 204l-4 2M289 204l0 5M275 232l4-11M281 230l0-8M294 188l-8-1M289 204l4-9M298 180l-3 4M281 147l-1-2M278 166l-1 1M280 145l-3 3M276 177l-3 6M276 173l-5 1M359 280l4 3M359 280l4-2M307 228l2 1M317 227l-5 1M312 251l-4 2M312 251l4-6l4-6M308 253l0 0M360 197l1 0M360 197l0-1M360 197l-5 7M365 200l-10 6M355 204l0 2M327 258l9-2M341 252l0-1M490 191l-3 4M504 198l0 0M502 195l-8 6M370 279l1-1M206 112l3 0M233 129l3-2M86 119l-3 3M210 56l1 0M204 78l6 10M210 88l2 0M210 96l3 0M211 91l2 5M213 96l3 6M143 79l0 4M231 268l-8-5M221 258l2 2M231 246l-5-5M219 236l0 0M226 241l-7-5M219 236l-2-7M221 230l-3-2M218 228l-1 1M243 247l2 0M252 259l-2-2M221 230l0 0M212 215l-2-2M217 294l-6 0l-8 0M203 294l-4-3M189 291l10 0M139 365l-4 6M146 382l-8 3M168 346l-10 5M168 346l-2 5M166 351l-9 2M169 346l-1 0M170 344l12-4M181 396l0 1M180 399l1-2M180 399l1 3M172 410l1-4M222 392l-4 2M215 388l4-5M200 418l-7 8M207 420l-2-2M208 399l2 2M176 423l-1-1M180 414l-3 2M171 417l-2-4M162 427l-1-1M168 415l1-2M161 424l0 2M162 414l3-4M168 407l5-1M157 425l4-1M151 393l-3-3M27 322l-3-3M26 314l-8-1M24 323l-4 4M27 322l-3 1M26 314l5-2M64 162l5-2M60 155l9 5M53 186l-5-3M206 273l-1 1M205 274l8 5M205 270l-4-1M249 221l0-5M249 215l0 1M257 221l2-7M247 202l4 0M251 202l2 2M263 219l2 5M227 169l-4-2M223 168l0-1M216 159l3 4M246 172l0-5M246 167l5 3M238 228l1-1M247 222l-4-7M247 222l-5-1M242 221l-1-7M243 215l-2-1M248 222l-1 0M240 203l0 0M231 187l5 12M230 186l4 2M236 199l3 5M230 200l0-11M60 160l-6 1M54 166l-2-3M81 124l2-2M79 130l7 6M89 134l-3 2M79 130l4 8M78 136l-4-4M60 155l4-1M133 208l-4-3M355 295l1 0M489 328l0-1M489 328l6 5M505 330l-8-2l-8-1M507 333l2 5M516 343l-3 2M439 323l-8 1M424 319l0 1M459 330l3-3M364 301l0-1M353 295l-1 1M339 293l-2-1M337 292l-12 2M323 295l0 0M325 294l-2 1M331 300l0-1M342 295l-3-1M314 292l9 3M314 292l0 0M385 319l-2-3M391 320l-1 0M396 320l-5 0M344 324l1 1M347 328l-2-3M358 332l2 0M367 324l0 0M320 325l-3-2M317 322l0 1M344 366l1 2M346 369l-1-1M431 358l6 0M423 362l7 2M430 364l0 0M349 350l-7-2M349 350l2 2M351 352l2 3M346 395l-6-7M346 395l2-5M341 381l-1 6M341 381l1 1M351 366l-1-4M350 362l-1-2M291 341l3 8M296 347l-1 3M280 338l2 7M280 354l0-1M279 351l1 2M292 354l3-2M300 363l-4-10M291 359l1-5M295 350l0 2M303 361l-3-3M302 357l-2-3M306 368l-4 0M304 496l-2 1M296 474l-1 8M291 474l2 7M295 468l-4-6M296 471l0-2M300 481l-4-10M292 374l0 3M289 378l2 1M320 384l0 0M324 388l-4-4M326 383l-1-4M313 349l-1-1M304 347l4-6M312 348l0 0M319 367l-8 1M311 367l0 1M286 383l-1-1M152 456l0-2M147 460l-1 3M188 419l0 0M213 437l0 6M214 436l5-7M213 443l1 2M214 445l5-6l5-6M227 416l-5 4M227 415l0-6M214 436l3-12M192 372l4-6M185 373l1-2M186 371l-6-1M162 388l-1 4M274 492l0-7l0-8M275 478l1 9l1 9M282 484l1 0M283 484l0-1M279 487l3-3M272 464l-2 1M270 492l2-7l1-8M268 493l2-1M267 515l-2 0M267 515l2-6M268 525l0-3M265 515l-4 3M249 502l-3 10M243 389l-4 2M243 404l3 1M243 404l4-9M244 386l2 4M234 366l3 0M228 404l0 2M228 404l6-11M227 409l1-3M235 390l4 1M223 353l2-4M224 355l-1-1M196 366l3-2M215 335l-1 0M221 325l-9 5M211 331l1-1M212 330l0 0M211 419l-4 2M235 389l4-8l3-8M222 365l3-1M214 388l-1 0M203 401l0-2M213 388l-1-1M203 399l3-7M218 369l0 0M217 366l1 3M261 353l0-3M261 350l0 0M393 157l1 7M339 57l7-3M347 53l-1 1M347 53l0-2M341 84l-2 5M336 181l-5 4M331 179l0 6M335 186l2-4M331 185l-1 2M327 258l0 1M396 182l3 0M394 164l1 0M367 170l-2 11M352 201l7-5M337 182l3-3M336 91l0-7M250 96l4 2M257 84l-4 5M253 89l-2-12M269 75l2 2M269 70l-3-9M272 60l0-3M215 54l3 3M218 57l1-5M219 52l-2-5M212 54l3 0M219 51l0 1M219 59l5 7M224 66l2-8M225 90l-1-5M222 84l2 1M242 64l6 4M272 110l-1-11M271 99l5 3M270 98l1 1M269 75l-1-1M284 112l-1 0M284 112l1-2M287 111l-1-1M285 110l1 0M286 117l1-6M247 115l0 0M253 139l-2-9M251 130l-2-1M247 115l1 8l1 6M247 114l1-1M251 127l-3-14M285 132l-1 4M286 138l-2 7M253 48l-2-2M246 44l2 0M248 43l0 1M246 47l0-3M246 47l2 2M289 167l1 1M315 184l1 0M317 183l3-8M319 174l1 1M312 185l-2 5M313 194l3-10M320 175l0 0M308 182l3-6M269 219l-5-3M262 206l2 5M266 206l1 1M264 191l0-1M263 190l1 0M265 197l-1-6M311 215l-2 6M305 224l-1-2M312 214l5-3M378 284l0 1M377 287l1-2M353 286l9 3M335 287l4-1M379 290l-2-3M390 265l-9 1M390 265l-1 2M381 266l-2 2M308 249l3-5M311 244l8-6M342 219l0-5M482 186l8-3M489 176l0 0M493 174l1 5M414 222l-3 0M407 227l7-2M490 202l0 5M490 207l8-3M432 270l7-1l8-1M351 279l0 0M350 280l-5 2M357 284l-7-4M359 266l-3 0M234 165l2-3M170 64l0 0M171 67l7 7M170 231l-2 1M112 96l-2 0M112 96l1-2M109 124l-6-4M103 120l-6-8M86 119l2 4M173 63l-1-4M170 64l0-4M178 87l0 0M178 83l-4-7l-3-7M171 69l-2 4M162 68l0 0M142 83l4 11M137 89l-7-5M184 55l6 2M190 57l1 2M218 98l-2 3M219 97l-1 1M201 203l-1 4M231 246l-1-6M230 240l0-2M221 230l2 0M230 238l-7-8M223 230l0-1M239 241l-1-1M230 240l7 5M234 236l-1 0M234 236l1 1M162 209l6 3M169 220l5-1M177 224l-2-5M92 419l8-1M100 418l0 0M103 429l1-3M124 367l4-5M129 359l4-1M129 359l-1 3M116 364l3 0M167 292l-1 0M128 359l6-5M106 370l4 3M110 373l3-1M130 395l0-1M117 402l3-4M120 398l-1-2M100 418l4-8M118 408l-5 5M111 411l-1 3M122 406l-4 2M136 386l-3 0M199 347l0 0M199 347l0-6M178 397l-2 3M181 391l-1 2M206 375l4-5M210 369l0 1M100 439l-5-1M102 432l-7 6M89 443l0 1M88 443l1 0M88 443l3-6M103 429l0 1M103 430l-1 2M154 395l-2 1M158 399l-6 1M152 400l0-4M61 264l-8-1l-8-2M20 263l4-1M25 262l-1 0M40 264l-7-1l-8-1M30 258l-6 0M32 294l-2-1M29 316l1 2M30 318l8-1M38 316l0 1M30 318l0 0M26 316l3 0M41 314l-3 2M36 311l-5 1M38 320l0 0M38 320l0-3M44 314l-1 5M33 214l-3-2M35 215l-5-3M35 215l-2-1M88 209l-8-1M86 215l-3-2M214 279l-1 2M174 275l1-2M190 266l-1 0M130 282l1 1M130 282l5-1M150 283l-9 1l-9 0M122 232l2-2M118 230l-2-1M121 228l3 2M121 228l-5 0M84 202l1 1M85 203l10 5l8 4M104 213l-1-1M230 185l0 1M237 228l-2-2M225 210l2 0M57 165l0 0M62 164l-4 1M56 168l4 3M82 151l-1 0M64 147l2-4M67 148l1-3M64 147l-1 0M64 147l0 0M71 144l-3 0M81 151l0-1M81 150l0 0M82 150l-1 0M86 140l7 6M86 140l1-3M92 140l-5-3M86 140l0 0M86 140l2 5M74 144l1-5M82 146l2-1M75 139l5 0M84 145l1-1M80 139l4 4M84 143l1 1M75 139l0 0M84 139l0 4M72 156l-5-2M67 154l-1 0M66 154l5 5M69 159l0 1M67 154l4 5M166 182l0 0M166 182l-7-3M152 170l1-2M152 170l2 6M166 182l2 6M383 301l-8 5M366 293l2 0M383 301l1 0M367 298l3 0M383 299l1 2M381 295l2 2M381 295l-3 0M378 295l-2 0M461 324l1 0M440 316l0 1M440 316l1-1M462 324l-4-5M514 326l6 1M510 325l-8-5M510 325l-5 1M502 320l-6 4M510 325l0 0M427 314l-4 3M427 314l-10-3M417 311l-4 1M441 315l-4-4M433 309l-7 0l-8-1M339 312l-1-4M338 308l-3-1M324 307l1 1M344 310l4-3M344 310l-6-2M407 330l-9-1M398 329l-1 1M425 331l-1 1M398 350l-3-4M393 350l-5-3M359 318l-1-4M335 368l-1 1M351 385l-1-1M430 487l2-1M428 481l5 2M429 488l0 1M418 494l-7 3M418 494l2 1M421 489l-7-3M479 404l6 1M485 405l7 4M479 404l11 9M399 345l6-1M394 344l1 0M394 344l-3-6M395 344l4 1M406 357l1-1M407 356l-2-3M398 354l3-2M395 346l0-2M430 364l4 7M425 370l9 1M446 363l2 1M355 346l-5-1M360 354l2-4M353 341l-1 0M386 378l-6-8M380 370l13 4M370 362l3 1M391 359l4 5M393 364l-7-3M386 414l-5-5l-6-5M398 396l0-8M475 417l5 0M480 417l-3-4M483 419l-3-2M480 413l-3 0M483 419l0 0M483 419l4 2M351 366l6 9M363 407l0 0M370 420l2 0M372 420l0 0M357 400l6 7M288 542l0 0M284 532l-1 0M365 514l4 10M250 490l-3 9M249 502l0-1M269 479l-4 0M267 487l0 0M293 481l-3 1M299 500l-4-6M339 527l0 8M330 516l0-6M330 510l1-6M345 501l5 9M341 501l2 11M351 524l1-10M332 529l4-6M332 529l1 4M308 462l7 6M314 430l-2 9M305 514l1-8l0-8M306 498l0 0M288 439l0 1M288 440l4 6M293 443l-1 3M284 435l4 4M340 421l-6 0M340 425l-4 1M328 440l-6-3M330 410l0 3M321 396l5 13M326 409l4 4M332 402l0 0M330 413l1 3M331 416l1 1M329 430l-3-5M320 430l1 2M314 418l4 4M321 432l4 0M332 402l-3-5M332 402l0 0M326 383l4 7M313 349l1 2M325 359l-9-6M327 365l-3 0M310 353l-3-1M304 347l0 0M307 352l-3-5M300 347l3-1M283 374l2-9M281 358l2 2M284 382l1 0M280 380l-2-13M273 348l0 1M273 349l-1 11M281 395l0 13M281 408l-1-1M286 402l0 2M276 403l2-5M272 369l-3 2M286 402l1-1M290 416l1-8M291 408l1 0M173 442l5-4M163 460l1 3M179 465l0-5M181 457l2 0M183 460l0-3M136 505l-1 1M136 505l-3-1M137 504l1 3M200 466l3-3M203 463l1 9M204 461l4 4M205 351l0-1M198 352l-1-2M168 403l1 0M176 400l-3-1M246 513l5-3M256 516l1-7M271 411l0-5M266 403l3-8M265 399l2-8M265 388l-1 6M243 418l-1-3M250 410l1 13M250 410l-3 3M246 422l1-8M246 405l0 2M205 418l-1 4M201 425l3-3M204 422l0 2M213 443l-6 10M217 374l-4 7M211 370l-1 0M330 187l-4 7M378 174l-4 4M374 178l0 0M379 179l-5-1M368 169l-1 1M360 196l-1 0M394 122l-1 0M332 76l1-2M329 84l4 3M338 72l1 3M338 72l0 0M339 66l-1 6M341 84l-2-3M345 77l-3-1M348 79l5-12M361 59l7 0M310 190l-1 2M521 282l0 0M519 288l2-6M511 295l5-5M516 290l0 0M383 191l3-5M386 186l0-3M378 191l5-7M407 176l1 1M399 182l0 3M406 182l0 1M437 143l-5 5M441 143l-5 8M426 153l6-5M350 161l4-1M446 143l-2 4M448 180l0 0M411 208l-4-2M407 206l1-1M415 197l-4 3M476 177l2 2M450 187l-4 4M460 178l1 2M450 185l0 2M438 193l-2-1M438 193l8-2M340 55l-1 2M302 106l1 7M310 64l2-3M238 45l-1 3M227 57l1 2M239 71l-7 5M228 62l2 7l2 7M232 79l0-3M225 76l0-4M224 72l1 0M220 72l1 1M252 58l-2-9M246 49l2 5M246 49l0-2M247 63l1-4M247 63l-4-9M243 50l1 0M253 109l-2 2M251 127l3-3M250 110l0 0M250 110l0-5M283 123l0 5M286 85l7 7M283 93l2-4M295 48l2 7M326 160l2-13M328 136l-3 7l-2 7M330 143l-2 4M326 163l-4 10M322 173l3 0M326 176l-1-3M321 175l1-2M298 156l-2 4M298 156l-3-4M296 160l-3-4M295 152l-2 4M296 147l5 5M293 157l0-1M296 164l1 1M297 165l2-4M271 165l-1 5M268 160l0 0M274 160l-3 5M276 164l-6 6M265 179l1-2M270 172l0 1M267 172l3 1M272 199l-2 0M309 192l0 0M308 182l-5 11M361 294l-8-3M411 276l2 4M425 274l0 2M425 276l-4 3M376 291l2 4M392 280l-7 2l-7 2M386 273l10 3M409 268l3 3M396 276l0 0M377 276l0-1M392 279l2-1M311 244l2-8M320 237l-1-1M351 213l-2-2M349 211l-5 5M352 201l-1 3M482 198l-12-1M479 189l-6 6M468 195l2 2M492 174l-1-4M481 171l1-1M378 248l0-2M402 231l0 0M382 249l0-1M400 236l2 4M414 225l0 1M492 271l11-4M337 273l0-2M342 273l8-6M337 271l3-2M356 266l0 0M344 261l-2 7M394 262l5-2M394 262l-4 3M391 269l0 0M386 262l-8 2M359 266l8-3l10-2M356 264l10-2l11-2M375 265l1-1M388 254l-12 5M377 260l-1-1M389 255l-1 3M418 231l3 4M413 244l4-1M407 247l-9 3M395 250l3 0M387 252l8-2M190 83l-5-4M183 69l-1 0M213 139l-2-5M205 131l3 4M209 142l-4-6l-4-7M201 129l0 0M205 124l1 3M173 173l2 3M194 203l-4-6M159 162l-3-3M112 121l-1-1M125 123l2 0M117 103l-4-1M89 134l6 4M85 127l5 3M95 138l-5-8M90 130l5 2M102 134l-1-5M106 136l-3-6M105 139l2-2M102 138l0-4M101 129l0 0M95 132l7 6M120 147l-1 1M112 143l0-2M121 154l5-2M126 152l0 0M157 201l1 2M132 161l1 0M134 157l-7-6M134 157l1 0M178 87l-1 0M190 209l-4-7M186 202l1 0M193 204l8 11M190 209l-1 2M221 257l-5-7M218 248l-3-1M197 191l-7-9M188 174l-1-1M210 247l4-1M211 244l3 2M191 221l7 10M80 408l8-5l7-5M79 408l0 0M95 398l1-1M94 403l-7 3l-7 2M95 403l-1 0M80 408l2 5M95 407l0-2M53 399l1 1M46 406l-2-1M54 400l-3 3M44 398l-4-2M60 400l0 3M59 398l7-1M135 350l-9 4M134 354l1-4M142 351l-1-4M131 343l-13 5M119 352l-1-3M115 361l-6 2M107 362l0 0M81 376l6 1M76 384l3-1M79 383l8-6M92 382l2-7M34 373l4-4M31 369l-1 0M29 369l1 0M46 293l-7-1M39 292l-7 2M113 295l-2 0M124 293l-4-2M118 294l-2-3M114 296l-1-1M164 293l-7 1l-8 1M132 299l-1-1M138 293l2 0M131 298l0 0M123 297l2-4M125 293l2 0M149 343l3 2M192 338l4 0M178 336l-11 6M182 340l7-2M225 305l6 2M230 310l-1-1M235 295l0 1M77 455l2-3M79 452l0 0M86 452l-6 2M51 403l2 1M79 408l1-2M108 382l11-6M119 375l0 1M120 375l-1 1M110 385l-6 2M101 390l1 3M102 393l-2 0M96 397l2-1M100 393l-2 3M140 376l0-3M138 378l-5 1M147 368l1-1M149 363l0 0M149 363l5-2M195 387l3-7M200 385l0-1M194 392l2-4M191 391l4-4M176 456l3-4M174 464l5-4M172 459l4-3M200 421l-5 8M188 419l0-3M185 418l1-2M185 412l2 3M199 400l0 0M106 479l-2 3M106 479l5-8M111 471l-1 0M110 487l-1 0M161 426l-5 5l-5 5M151 436l2-9M146 431l6-4M160 415l-4 5M153 427l-1 0M117 489l-3 2M126 479l9-7M136 472l-1 0M125 483l1-4M135 472l-1-2M101 480l-3-3M110 469l-10 6M110 469l0 2M100 475l-2 2M91 469l6-7M97 467l-6 2M96 474l1 2M97 462l4-3M101 458l-5 1M96 456l0 3M89 453l1 0M90 458l2-5M160 415l0-1M112 417l2 1M108 424l6-5M130 403l9-6M140 396l-1 1M142 404l1 2M100 445l-6 6M99 454l1-4M39 292l-5-4M49 292l3-1M20 290l10-2M55 290l8 4M87 275l-3-3M84 272l-6 0M74 270l4 2M97 276l0-2M118 277l-5-4M74 282l-2-3M71 277l1 1M30 220l-3 1M21 250l-1 4M28 248l-2 2M43 255l0-4M30 258l0-2M26 242l-3 1M50 200l-6 2M45 203l-1-1M81 216l5-1M46 192l4-2M72 209l-2-3M50 200l6-2M52 195l2 1M40 196l3 0M46 192l6 3M39 197l5 5M50 200l0 0M59 201l-3-3M54 192l0 4M39 197l-3 0M43 204l1 0M44 204l1-1M45 211l-2-7M189 266l-5-3M176 242l-7-2M171 236l3 2M169 270l-4 3M165 273l-4-4M130 282l-7-4M108 278l-2 4M117 198l-1 1M120 198l-3 0M128 211l-2-2M125 221l2-3M125 221l3 1M124 234l-2-2M124 230l3 1M236 179l1 3M244 183l-1-1M241 172l2 10M244 164l-2 3M63 190l2 2M71 138l-3 1M71 138l-3 2M96 179l-2-1M96 179l8-2M96 179l9 6M115 167l1 1M118 163l1 1M123 167l-2-1M110 163l5-1M72 162l3 0M74 165l2 1M71 166l3-1M175 195l2 2M185 200l-5 0M168 188l8 7M186 202l-1-2M176 201l4-1M157 201l0-3M158 203l8 1M168 212l2-2M171 211l2-3M111 193l-5-3M111 193l-2-5M109 188l-1-1M109 187l-1 0M109 187l2-2M489 316l1 1M395 299l0-1M405 298l2 3M384 298l11 0M392 295l4 3M412 303l-5-2M401 305l3-3M389 303l6 0M401 305l0 0M395 303l6 2M416 305l-3-2M401 306l0-1M496 324l-4 0M477 319l9 3M488 325l0 0M469 322l3-1M463 318l0 0M496 384l1 4M496 384l8 2M489 375l1 3M476 360l0 3M479 361l6 5M476 363l3 2M485 366l-6-1M477 367l-3-3M414 313l-1 2M419 321l4-1M378 318l0 0M378 318l-11-1M380 322l0 0M370 319l-3-2M381 322l-1 0M376 316l2 2M361 314l6 3M368 324l-1 0M416 325l11 0M428 326l1 5M428 326l-1-1M404 315l2 1M444 356l0 0M439 349l-1 1M375 343l3-1M379 350l0 0M360 338l1-2M358 332l3 4M382 335l1 0M375 417l2 0M372 415l-4-6M372 420l0-5M381 420l2-1M378 425l3 3M381 428l2 6M383 428l8 7M373 422l3 7l3 7M383 434l-4 2M421 489l1-3M479 410l-3-3M483 415l1-2M412 334l12-2M449 364l1 0M460 369l-10-5M460 369l1 0M444 356l-8 0M437 358l-1-2M448 364l1 0M460 369l-2 2M425 370l-1 3M413 368l3 2M434 371l0 1M491 397l2-2M499 397l-6-2M434 482l-1-1M429 475l-2 0M427 475l-6 1M482 421l3 4M475 417l1 2M482 421l-6-2M463 411l6 5l6 4M476 419l-1 1M406 489l8-4M336 397l5 4M341 401l-1-5M382 405l0-3M361 376l1-2M283 518l0-5M284 532l2-7M286 525l0-1M286 525l3 4M281 521l1 2M266 544l3-3M263 533l0 5M263 538l0 4M268 526l0 8M263 530l0 3M248 478l-2-1M248 478l0 10M243 482l3 8M258 449l-3 1M259 452l-1-3M258 460l-3 1M255 461l-2-6M253 496l2 2M258 461l3-1M268 474l-3-4M258 472l3-1M264 464l0 1M265 463l5 2M261 451l1-2M260 427l1 4M261 431l2-7M256 429l4-2M259 408l-2-1M259 408l3-1M262 407l-1-14M257 407l-2-8M290 460l0-4M301 510l1 2M304 513l-2-1M304 513l-1 13M296 540l6 3M351 493l0 0M350 496l-4 3M328 498l-2-7M329 537l-4 2M325 510l2 12M303 470l1 10M309 430l-1-2M311 446l-4-9M321 487l0-8M317 476l4 3M316 501l-1 1M315 483l-1 7M315 483l0 0M317 486l-1 12M306 472l3 9M330 510l-3-4M327 506l-2 3M321 493l0 2M328 498l-2 1M326 491l-5-4M321 493l5 6M327 506l-1-5M309 503l4 7M335 479l-1-5M279 510l0-1M351 447l-3-4M353 448l3-3M332 439l-3-1M332 439l4 12M330 454l0 0M330 454l6-3M325 424l-1 4M325 424l0 0M272 369l0-8M278 367l-3 7M272 369l0 0M269 370l0 1M269 371l0 0M271 387l-1 7M270 394l1 3M274 398l-2 2M272 400l-1-3M276 403l-2-5M268 405l3-8M147 480l0 4M154 471l0 3M191 455l0-2M192 449l-1 4M189 444l-1 2M236 465l-2 7l-2 7M201 442l0 1M192 462l4-3M192 462l0-4M197 448l1 2M201 442l-3 8M201 443l0 3M220 448l3-8M220 448l4 1M223 440l3 5M213 455l-3 4M208 465l2-4M219 449l-1 1M220 461l-1 0M220 448l-1 1M224 433l-1 7M223 454l1-5M197 350l-7 4M164 379l0 0M164 379l7-2M218 358l5-4M211 366l0 0M179 393l-5 1M273 428l2-4M270 427l-4-2M271 438l1-5M271 438l-2 2M269 440l1-8M272 433l-2-1M268 441l1-1M273 430l0-2M273 431l-1 2M245 536l-1 6M246 513l0 4M252 512l-2 9M242 513l-1 2M260 376l4-7M265 388l-1-2M267 384l-2-6M255 354l1 0M247 350l0 1M251 345l5-3M255 350l2-6M246 348l1 2M255 354l0-4M260 342l-3 2M312 214l5-9M317 205l-4 0M366 128l6-10M372 118l-6 6M365 133l2-4M371 113l-6 3M371 113l-5 11M373 109l-3-4M380 105l0 3M378 105l-5 5M374 116l0 0M379 97l0 0M372 118l2-2M374 123l-7 6M385 103l0-5M384 98l0-1M379 126l-4 7M374 123l-5 13M337 125l3 4M337 124l5-2M342 122l0 4M342 126l-1 2M340 129l1-1M331 178l-1-3M346 124l-4 8M345 123l3-12M346 123l2-2M342 126l3-3M348 108l-1 1M348 121l3-3M350 106l-1 1M350 106l5 2M519 280l-9-4M510 276l-9 2M488 263l-7 2l-7 1M515 267l-4 1M508 268l-5-1M501 265l13-3M514 241l0 1M514 241l3-3M514 242l4 1M380 193l0 1M383 184l-2 0M382 180l-1 3M444 135l-7 7M437 142l0 0M395 164l8-7M399 148l1-1M409 157l2-2M408 173l1 0M408 177l4-2M341 202l4-3M451 146l-11 6M440 152l-1-1M441 143l5-1M462 192l-1 3M461 195l0 0M464 191l-2 1M432 216l8-5M486 162l-1-2M461 160l0 4M310 64l0 1M312 61l1 7M308 104l0-5M312 97l0-1M308 105l0-1M308 111l4-4M309 82l2-1M336 102l-1 1M268 41l-2-2M269 40l1-1M264 51l4-10M272 85l3-1M225 72l1 1M232 79l-2-1M272 57l4-3M295 54l-5 4M290 58l1-3M291 55l0-10M284 46l3 1M294 92l-1 0M297 70l-2 8M299 65l-8 3M291 68l-1 0M295 72l-5-4M296 79l-1 0M295 78l0 1M268 183l0-1M270 186l0-12M266 177l2 5M271 174l-1 0M392 280l5 1M413 280l-6 1M402 282l5-1M437 279l-6 3M425 289l1-2M426 287l4-1M431 286l-1 0M396 286l-2 1M391 269l-3 0M417 292l1 0M315 233l6-2M324 225l1 2M319 236l2-5M342 214l3-3M345 211l1 0M346 208l-1 1M402 209l-2-5M402 209l-5 3M397 212l-3-3M346 244l-2-1M337 245l7-2M336 246l0-6M328 243l0 0M469 200l-1-2M416 225l-2 1M499 206l-11 4M488 210l-2-1M417 243l9-3M423 229l0-2M426 221l-1 4M424 225l1 0M388 232l-1 3M399 226l0 2M387 236l11-7M387 236l0-1M399 228l-1 1M388 231l0 1M388 231l4-4M401 228l-2 0M408 215l3 0M421 215l0-4M410 220l-1 0M411 222l-1-2M502 208l6-2M499 206l3 2M488 210l0 4M442 251l-9 4M443 251l4 1M465 272l-3 0M234 149l-5-12M234 145l-1-7M231 136l2 2M227 136l2 1M234 152l0-3M234 140l1 4M234 140l-1-2M235 144l-1 1M180 79l2-5M181 70l1 4M212 123l-2-3M210 120l-1-1M200 108l5 6M205 114l0-1M190 182l-3 3M190 182l0 0M200 199l-3-3M198 205l2 2M153 144l-1-1M119 114l4 1M119 114l-2-9M124 114l-1 1M99 149l0-2M92 140l4 2M111 147l-7-5M132 150l-5-3M156 68l6 4M177 87l5 13M217 195l1-2M213 194l-2-9M202 216l2 0M205 217l6 8M205 217l-1-1M212 220l-7-3M178 215l3 6M171 211l-1-1M73 411l6-3M71 415l-1 6M46 370l-8 4M42 368l-5 6M37 374l1 0M37 374l0 0M33 379l5-5M47 361l2 3M60 386l10-5M70 381l0 0M67 387l-3 1M56 387l5 4M92 350l-7-2M97 344l4 2M118 349l-10 6M64 370l-2 2M186 314l-8-1M67 306l1 3M160 310l-10-2M22 333l7-2l8-2M27 347l0 0M31 342l-7 3M34 342l0 0M52 298l6-3M49 292l9 3M99 300l0-2M99 298l-1 0M91 303l-8 0M83 303l10-4M97 292l10 3M95 291l2 1M111 295l-4 0M116 297l-2 1M114 298l-8 0l-7 0M209 328l2-2M212 313l1 0M220 319l-1-1M177 336l-10 1M167 337l0 0M154 340l4-3M154 340l-2-4M165 330l0 2M158 337l7-5M164 329l1 1M177 336l-4-2M168 304l0 4M160 310l3 1M68 408l-6 1M68 408l5 3M69 412l-12 2M57 414l5-5M54 418l0 0M62 409l0 0M46 409l1 3M59 404l-3 3M53 415l-2-4M62 409l-9 1M60 423l-1 1M131 378l-1 0M130 378l1-3M176 351l-5 5M170 355l1 1M165 355l-1 1M194 434l5-1M195 442l5-6M201 425l-2 8M188 416l3-3M112 461l7-6M118 458l1-3M143 434l0 0M142 427l-1 2M110 479l1 0M110 479l-5 5M129 471l0 0M109 459l-2 1M107 460l2-3M102 463l2-1M99 466l-2 6M102 459l0 4M112 459l0 2M140 426l6-6l5-5M143 406l0 2M86 289l3 0M74 290l12-1M123 278l2-1M134 280l-9-3M125 277l9-2M55 257l5-5M62 286l-7-1l-7-1M50 290l-6-5M62 282l-3-2M70 206l1-1M56 198l6 1M192 247l-2 1M210 254l-1 5M220 264l-10-5M212 267l-6-2M203 260l0-1M206 269l1 1M206 269l0-4M182 260l-5-3M190 266l1-4M170 258l0-1M172 235l5 1M177 236l4 3M125 287l-2 0M121 288l0 2M103 212l0-1M111 211l-8 0M85 203l13 2M84 202l-3-3M98 205l0-2M133 217l-1 0M132 217l-11-5M129 230l0-1M129 229l-1-2M127 231l2-1M137 232l-8-3M125 221l-1-1M210 183l-3-5M195 149l2-3M236 146l0 7M238 159l-1-4M59 189l0-6M46 176l9 4M85 177l-1 1M74 170l0 4M80 178l-6-4M127 174l7 5M135 174l0 0M135 174l-1 5M123 167l12 7M146 184l-9-1M125 162l1 0M102 153l0 0M98 156l6 5M108 169l-4-8M96 160l8 1M171 205l-5-3M164 202l1 0M84 178l8 7M507 318l4 0M502 319l5-1M511 301l1 4M499 301l10-3M509 298l6 2M515 300l-4 1M492 301l-1 2M426 301l2 2M401 306l0 1M403 311l-2-1M418 308l-2-1M463 318l3-1M464 314l4-2M480 344l0 4M479 344l0 3M509 351l0 2M511 358l0 3M507 354l-4-1M493 341l2 3M493 341l4-1M508 344l-2 2M505 347l-4-1M495 339l2 1M506 338l-9 2M513 345l-5-1M511 361l2 0M466 368l1-4M477 367l-6-1M504 386l1-1M313 313l1 1M308 306l7 3M430 353l3-3M421 349l9 4M444 341l-5-2M444 341l6-2M450 339l-5-5M443 334l2 0M376 332l3 1M382 335l-3-2M368 324l5 7M387 421l-1-1M383 419l3 1M391 435l0-2M479 404l-1-5M452 384l7 3M467 390l-5-9M450 391l-4-2M445 378l-4-3M441 381l-2-4M497 403l0 1M375 361l0 1M375 362l8 4l9 5M372 355l3 6M373 363l2-1M393 364l1 4M426 426l1 3M427 429l0 0M417 435l2-3M417 438l1 1M413 425l-9-2M413 424l0 1M429 436l-2-7M429 436l-8-2M404 423l-1-1M403 422l-7-6M395 427l2 1M393 431l4 2M434 472l4 4M396 449l6-4M429 475l-6-9M431 467l0 0M431 467l-6-4M459 447l2-5M429 445l0 0M423 449l9 1M467 444l-1 1M467 444l2-2M356 442l0 0M360 455l0 1M364 464l2 0M363 432l2 4M367 433l1 2M377 449l-4-9M373 447l-3-5M375 436l-2 4M369 437l2 2M357 424l6 8M341 396l5 7M356 460l4 4M360 509l-2-12M362 500l-4-3M351 493l4-2M346 480l-2-2M343 471l1 7M336 436l0 1M374 394l1 0M380 397l5 5M384 403l1-1M286 514l-1 5M282 541l0 1M253 471l-1 0M241 478l-2 0M239 478l0-11M265 478l-2 3M263 481l0 0M265 439l3 5M263 442l0 7M264 436l-4 0M259 439l1-3M268 444l0 0M264 386l-1 1M275 438l3-3M280 433l-2 1M285 462l-1-5M280 446l1 7M278 482l-3-4M280 465l1 0M277 445l-1 0M265 457l8 0M305 527l-1 1M304 528l2 4M310 540l-1 0M309 527l-2-5M304 528l0 0M300 509l-2-3M295 494l-4-3M345 499l-4-9l-3-8M346 499l0-9M347 487l-2-2M345 486l0-1M327 487l-3-5M307 471l3 2M315 483l-5-5M321 499l-2 6M321 495l0 4M304 416l0-1M307 417l-2-3M304 415l1-1M312 413l-1-3M312 413l4 2M307 398l4 11M281 496l1 0M281 496l0 9M283 510l1 0M281 509l0-4M283 513l0-3M342 433l2 3M347 442l1 1M347 442l-3-6M348 443l0 0M347 442l-2 1M333 464l0-4M312 406l-1-1M324 420l-3-4M321 416l-1 0M312 414l0-1M307 393l-1 0M306 393l0 0M168 473l1-4M168 473l4-1M174 465l-2 1M169 463l0 1M169 464l3 2M153 497l-5 5M145 509l3 4M175 490l3-1M169 508l0 5M176 496l2 4M184 490l-1 1M172 517l-2 7M229 448l-1-5M226 445l1-2M236 456l-1-4M235 452l3-9M235 442l0-2M237 415l-1 11M231 420l0 2M169 373l-3 4M174 371l-4 4M178 371l-2-1M171 377l-1-2M176 370l-2 1M204 365l2-5M200 368l0-4M200 364l6-4M199 364l1 0M213 358l-4 4M213 363l0-5M218 358l-4-3M208 358l1-1M223 353l-8 0M259 541l-1 3M254 544l1-9M254 544l-3-2M251 542l-1-11M220 465l-3 12M224 469l0 2M224 471l-2 2M228 476l-3 9M221 486l4-1M226 491l-1-6M355 108l5-4M359 111l1-7M365 116l0 0M377 68l-1 4M376 72l-6 6M383 66l1 0M366 91l1-9M422 123l2 1M435 117l-4 5M428 107l1-5M428 107l-6 6M420 113l2 0M421 121l-2-2M419 119l-5 5M400 147l6-8M405 137l0-7M395 147l2-5M391 149l3-7M403 110l-5 6l-4 6M393 113l9-5M403 109l-1-1M366 145l-3 5M364 140l0 0M354 160l0 0M361 117l0 0M341 152l1-7M355 120l2 1M359 111l2 6M343 99l6-2M366 64l4-2M366 64l0 0M360 77l4 0M513 238l3 0M498 236l0 2M514 241l-13 2M472 250l6-2M479 250l-1-2M365 211l0-1M446 130l-2 4M450 128l1 2M437 143l0-1M375 206l-1-1M406 184l2 2M417 154l-6 1M425 148l-3-2M422 146l-11 9M406 161l7-1M411 155l0 0M414 175l3-1M406 182l3-1M412 184l-4 2M417 170l1 0M419 171l-2 2M346 205l-1-1M338 214l-1 0M345 204l-8 10M345 204l1-2M366 168l1-8M443 179l0-2M439 173l1 4M448 179l-5 0M442 157l-10 3M431 164l-1-1M430 207l2 0M470 168l0 3M463 175l7-4M461 160l-11 3M466 155l-1 0M465 155l-2 2M459 154l6 1M337 62l-4-2M331 68l3-2M339 59l-2 3M331 68l2-8M305 93l0-1M312 90l-1-9M305 65l-3 3M301 105l1 1M316 94l-1-1M300 130l1-7M302 128l0 1M298 135l1-1M304 122l4-9M304 130l-2-2M302 141l1-2M308 136l-5 3M299 141l3 0M311 44l1-1M314 46l-2 3M310 44l1 0M313 52l-1-3M289 69l-1 5M330 143l2 0M342 145l-3-1M326 160l0 0M331 161l1-1M326 163l0-2M506 285l12-3M501 278l-6 0M439 287l7-1M451 290l-5-4M432 283l-1 3M446 286l3-2M466 279l-6 5M467 285l-6-1M410 285l4-1M414 284l2 2M418 286l-2 0M418 286l2 1M415 283l7-2M431 282l-8-1M421 279l1 2M380 271l-3 0M378 270l1-1M380 273l0-2M348 210l5-5M347 211l2-4M353 205l-2 0M346 211l1 0M351 204l0 1M337 245l0 0M336 240l4-4M353 255l11-7M365 216l-2 1M366 214l0 0M451 206l2-1M453 205l6-3M453 205l1 2M472 222l-1-1M479 214l8 1M479 214l3-3M463 203l0 1M458 207l-1 5M440 220l2 1M428 224l1 0M440 227l2-6M384 230l0 0M374 229l-7 6M372 237l-8 5M372 237l0-1M387 219l3-1M368 230l6-1M450 251l5 1M450 251l12-4M465 248l-3-1M463 245l-1 2M461 252l0 2M455 259l-2-1M453 256l0 2M447 267l0 1M455 259l2 0M455 263l4-1M455 263l-6-1M476 259l-6 3M454 264l2 0M448 266l8-2M455 263l-1 1M453 272l3 4M453 272l-8 2M445 274l2 2M455 272l7 0M403 258l0 1M409 246l1 3M472 222l-4 7M468 229l2-1M468 229l-2 1M428 242l-5 3M426 240l2 2M446 245l-5 6M440 242l-4-1M440 242l7-2M449 239l-2-7M439 243l7 2M434 241l2 0M211 129l0-1M211 128l-2-6M205 114l0 5M119 117l-10-4M109 113l1 5M104 112l-3-4M105 102l1-1M110 100l-2 2M106 101l0 0M137 130l-4-8M133 122l0 0M130 123l3-1M104 142l-1 1M108 158l4-2M143 158l-4-4M145 164l-1 1M144 165l-3-1M146 153l-3 5M152 170l-7-6M139 153l0 1M137 152l-3-2M133 161l7 4M140 165l1-1M134 150l-6-7M155 70l3 8M185 117l-2-3M180 112l3 2M183 106l-2-1M167 155l3-2M171 155l-1-2M171 155l4 9M183 174l-8-10M183 166l-5-8M162 151l-6-9M162 151l2 2M164 153l-1-4M156 142l0 0M163 142l-2 2M163 142l1 1M156 142l1-1M131 89l2 1M133 99l-3-8M126 91l4 0M133 90l4 10M134 97l3 3M134 100l4 7M155 142l-6-9M157 141l-4-9M146 134l1-2M155 82l-5-7l-3-4M155 78l-4-7l-1-1M153 69l-3 0M158 79l1 1M155 70l-2-1M143 83l4 6l4 6M151 95l1 1M193 127l-3-6M193 127l4 1M175 219l8 8M197 231l-8-2M183 227l4 2M64 437l0-4M107 400l-1 0M118 396l-1-1M117 395l-9 5M119 390l-4 1M122 388l5-9M109 390l3 1M105 396l7-5M74 445l2-1M76 444l5-3M76 444l-2-4M62 424l-2 3M60 429l0-2M64 433l3-2M58 425l2 2M55 358l-6 0M59 358l1 2M71 351l-1-1M49 358l0 0M80 377l0-6M42 390l0-2M112 347l0 0M49 358l0 0M32 362l7-2l7-3M40 356l6 1M107 362l-1-1M107 356l0 0M107 356l-3 2M104 358l-12 8M67 356l6-5M80 350l0 4M71 351l2 0M76 338l-1 0M75 338l-11 2M65 336l-3 3M61 343l-1-1M68 309l-1 5M67 314l-1 2M50 327l1-2M51 325l10 0M75 338l-2-3M62 339l0 1M135 316l3-5M95 291l-5 2M119 334l7-5M120 336l11-6M131 330l-3-1M140 324l0 3M149 322l0 0M160 322l-8 2M153 320l5 1M206 328l-1-1M196 337l5-6M170 335l1-2M170 332l1 1M176 307l-2 3M181 306l8 0M193 319l-14 3M187 318l-7 3M192 320l1-1M177 320l3 1M165 328l-4-2M179 322l0 0M192 320l-1 1M179 322l2 1M191 321l-10 2M181 326l0 0M181 326l0-3M178 313l2-1M180 312l7-5M189 306l0 1M210 306l1 1M213 312l-2-1M211 311l0-4M188 314l8-2M124 449l3-2M122 477l-1 1M151 436l-1 1M150 437l1 5M161 443l-11 1M143 434l-1 2M129 446l0 1M126 460l3-7M129 470l1-9M130 461l-2 1M128 462l0 0M129 471l0-1M126 460l2 2M122 425l0 0M114 429l3-4M132 419l0 0M133 419l5-3M105 437l4-7M505 292l6 3M509 298l0-1M492 301l-2-1M32 287l3-2M35 285l-7-1l-7-1M144 272l-7-4M151 269l-4-1M147 268l-2 1M137 266l0 2M137 266l-13-2M130 270l0 0M143 258l0-1M124 234l-3 0M129 238l0-2M118 230l0 3M31 234l3-1M27 232l2-3M68 198l-2 0M74 205l-2 0M84 204l-9-1M80 208l-6-3M170 250l7 6M170 250l8 0M129 238l1 1M164 253l-6 2M170 257l-6-4M146 253l0 1M146 253l5-1M161 251l6-2M167 249l-6-5M158 249l-3-1M141 264l-3 0M142 261l-7 0M146 265l-5-1M123 262l1 2M152 227l-7-3M152 225l0 2M142 221l0 1M134 222l6 2M142 222l-2 2M132 217l-1 2M185 241l2 6M183 240l-4 0M182 244l-3-4M190 248l-3-1M177 236l2 4M157 273l2 3M154 276l5 0M174 275l-5 1M119 218l1-5M111 211l0-1M127 218l-7-5M120 213l0 0M130 218l-10-5M120 213l0 0M210 183l3-3M211 149l-1 1M199 129l2 0M199 129l3 8l3 7M210 150l-5-6M205 144l-3 1M79 182l6 5M99 186l0 3M490 300l-10-1l-9 0M470 318l3-3M472 321l1-1M495 344l-3 1M506 369l3 5M507 367l3 5M507 367l4 2M461 369l6 4M464 338l1 3M505 365l-2-1M493 358l2-4M505 365l0 0M505 365l-7-1M506 369l-6-1M314 312l6-1M314 312l0 1M330 317l-3 2M320 311l0 0M313 313l1 0M427 342l4 2M403 457l-8-6M395 453l0-2M426 397l0 0M426 399l0-2M467 444l-9-10M474 391l1 0M474 391l-6-1M475 388l-7-5M395 364l1 1M394 368l4 3M398 371l5 0M407 377l1-1M408 379l-1-2M409 373l-2 0M417 374l-2 1M408 376l0 0M418 382l1 2M419 384l3 0M487 395l-1 0M421 391l-1-6M419 385l0-1M433 427l2-2M431 426l-5-1M426 425l-1 0M429 417l4 2M432 404l-6-5M403 405l-10-10M424 472l-8-5M420 467l-4-1M423 466l-3-2M420 464l0 3M414 461l-4-4M420 464l-4-4M404 450l5 5M408 460l2-3M448 433l-3-1M448 432l0 1M439 428l6 4M441 423l2 1M439 428l-1-1M463 453l1 0M464 453l0 1M454 464l-4-10M436 443l2 1M476 435l2 1M470 429l5 4M365 439l2 5M397 484l3 7l3 7M403 498l-1 1M346 414l-1-2M345 412l-1-1M350 421l-4-7M362 500l1 0M360 464l0 2M393 395l-1 0M381 391l2-2M403 422l-3-9M282 542l-1 3M243 482l-2 12M238 498l-2 5M236 511l6-8M236 512l0-1M231 526l-1-2M253 471l1 2M252 487l1-10M253 488l2-5M263 481l0 0M257 492l3-4M285 486l2-3M288 485l-2 2M290 488l0-2M286 495l0-1M287 483l1 2M291 491l-1-3M283 496l3-2M314 532l-3 9M317 538l-4 3M300 394l-3 3M297 397l0 2M300 393l0-2M305 408l-2-3M305 408l0 6M305 407l-3-10M306 407l-1-6M300 393l2 4M305 408l0-1M304 393l2 0M333 464l1 4M338 482l0 0M338 470l0-1M300 383l-1-8M295 378l1-7M302 375l-3 0M303 380l-2 4M301 384l5 7M302 375l1 5M188 495l1-1M153 502l-2 7M183 516l-2 1M187 508l0-1M188 519l-1-11M174 525l1 0M157 516l1 0M188 478l0-4M191 464l-3 10M189 494l-2 11M204 534l-1 0M203 534l-2 1M207 529l-3 5M239 428l3 1M235 440l2-2M245 432l-3 0M199 347l-11 3M217 536l5 1M222 537l-1 3M323 193l-2 0M386 71l1-3M385 76l1 2M387 85l-3-1M391 70l3 2M387 78l3-3M390 75l1 2M431 122l-1 2M424 126l3 0M430 124l-3 2M427 126l-2 3M418 114l-1 1M405 130l0-1M391 143l-2 0M393 130l-4 6l-4 6M385 142l-1 1M402 130l-3 2M399 132l-1 0M405 130l-3 0M385 103l3 0M389 87l-3 5M383 93l6-10M387 78l2 5M390 82l3-2M390 93l1 2M360 77l-2 3M520 282l1 0M506 285l-4 3M502 288l5 1M485 290l1 0M486 290l8 0M498 273l-3 2M493 277l2-2M485 276l8 1M467 239l1-2M469 243l2-3M490 233l2 2M490 233l-11 2M492 235l-11 4M474 244l9-2M481 239l0 1M483 245l-9-1M498 236l-6-1M382 198l-8 6M376 198l1 2M382 201l0-3M460 128l-1-3M458 124l1 1M458 124l-1-1M450 128l0 0M378 213l6 1M384 214l0 0M378 212l0 1M386 212l-2 2M425 168l4-5M430 163l-1 0M425 164l1 0M343 204l-6 10M334 215l3-1M345 199l-5 6M341 202l-1 3M441 185l-7 7M430 192l2 1M434 192l0 0M437 184l-1 1M428 195l4-2M472 142l-1 1M468 152l-6 0M468 152l0 0M428 211l8-1M315 108l1 1M316 109l2 2M318 111l0 0M316 94l1 2M317 96l-2 11M318 94l1 3M328 78l-2 7l-1 7M325 92l0 1M304 130l0 2M304 132l-1 6M309 128l0 6M313 123l0 1M312 59l1-5M330 94l0 1M308 136l1-2M312 155l0-1M312 154l0 0M309 45l-3-3M476 282l2 1M474 282l2 0M462 291l-9-1M462 288l-9 2M462 288l-1-4M472 288l-8 0M464 288l1 1M389 210l8-9M370 243l2 4M368 244l2 3M363 247l5-3M378 246l-6 1M363 247l1 1M341 252l7-4M363 217l-7 4M463 204l8 1M473 220l-1-2M469 218l3 0M476 212l-1-3M466 209l3 1M459 212l-1 0M458 212l-6 9M468 212l1-2M459 265l-3 1M456 266l5 2M467 266l2 1M470 262l-3 4M455 270l6-2M474 266l-5 1M517 258l-1 0M426 257l2 5M420 258l-4 6M421 264l7-2M426 253l5-1M419 258l1 0M432 247l6-3M427 249l5-2M439 243l-1 1M101 108l5 1M109 113l-1-1M113 102l-2 2M111 104l-2-1M111 104l3 2M134 145l1 2M159 80l4 3M170 100l-3-1M153 132l7 4M143 121l-1 4M151 95l-2 1M196 114l3-1M199 113l3 3M202 122l1-1M203 121l0-1M203 120l0 0M205 124l-2-3M200 108l2 8M205 119l-2 1M71 438l-2-2M71 438l-6 2M67 437l-1 1M76 426l-7 10M54 378l-1 1M52 382l1-3M56 373l-2 1M36 382l6-3l7-4M51 372l-1 2M44 375l5-1M108 335l0 0M96 338l-3 3M45 343l0 0M33 345l3-1M34 342l5-1M36 344l9-1M50 344l1 2M46 349l-6 5M67 373l7-3l7-3M80 371l5-5M141 311l6 3M156 314l-9 0M124 328l2 1M108 333l0 0M91 309l-10-1M76 311l3 1M91 303l10 1M99 300l8 2M101 304l6-2M129 310l3-5M83 336l-2-4M73 317l1 3M63 324l4-1M37 339l-3-2M22 333l2 3M90 293l-1 2M61 295l12 4M139 328l-1 1M161 326l-3 0M158 326l-5 2M176 331l2-2M181 326l0 1M197 311l-5-2M192 309l-1-1M196 312l1-1M144 440l-8 9M135 449l1 0M137 451l0-1M142 420l1-6M143 412l0-4M152 400l-4 5M161 404l-4-3M109 260l-6 1M73 258l0-4M36 285l-4-4M18 281l3-1M32 281l-11-1M33 280l4-3M146 253l-1 0M95 220l1 3M113 231l-2-3M106 226l-7-2M116 229l-5-1M117 233l-4-2M45 211l0 0M156 235l3 2M230 185l-8-6M201 176l-1-4M194 167l4 3M447 305l10-2M431 304l11-2M434 295l-6-1M489 344l-1 1M488 345l-7-1M481 344l0 0M494 346l-4 2M466 379l-1-1M414 340l-3 0M420 349l-1-4M404 342l4-1M407 336l4 4M416 339l-2 1M425 345l-1 0M425 345l0-1M424 345l-7-6M379 437l-1 0M377 437l1 0M393 459l-1-1M425 394l5 0M430 394l0-1M478 431l2 2M476 424l1 0M463 411l0 1M463 412l4 7M451 418l-2 4M463 429l-5-7M459 416l0 0M459 416l0 1M459 417l9 8M469 424l-1 1M467 419l-7-3M447 406l6 5l6 5M447 416l-5-2M472 382l9 6M490 393l-4-1M475 388l5 1M490 404l-7-3M490 404l1 0M492 405l-1-1M484 403l-1-2M494 407l-2-2M420 412l0 0M426 426l0-1M422 409l-2-4M412 404l3-3M441 469l-6 0M441 469l3 6M431 467l2 1M440 446l2 6M359 435l2-1M353 423l2 1M350 421l3 2M402 499l-6 3M384 476l1 4M386 402l6 6M392 408l-1 2M261 490l1 4M265 488l0 2M341 484l2 5M345 499l-2-10M344 486l-1 3M344 484l-1-1M344 478l-1 0M338 475l1 0M201 529l-4 5M189 519l7-3M190 506l-2 0M190 493l3 1M192 510l-2-4M141 508l-1 1M157 513l2-5M153 514l2-5M164 487l-1 8M213 530l4 5M213 530l-2 3M183 362l-5 4M178 366l-3 1M185 355l-3 3M176 370l2-4M176 356l2 4M178 360l1 0M234 542l-1-1M232 530l0 1M234 542l0 0M214 491l-4 13M210 504l0 2M210 506l0 4M210 512l0-2M226 491l-2 6M430 124l0 1M408 91l-2 3M408 91l7-2M406 94l6 0M409 90l3-7M398 198l-1 2M320 105l1-3M324 107l0-5M319 98l2 4M325 93l-1 4M308 113l1 9M306 124l3-2M311 118l-2 4M330 126l-1-6M328 134l0-2M324 136l0-5M413 195l-1-3M421 191l-8 4M342 232l5-2M483 229l11 0M510 216l-7 1M470 215l0-1M475 213l0 0M517 252l0 6M519 252l1-1M517 258l3-3M512 252l5 0M113 109l-3 0M118 115l1 1M109 103l4 6M108 112l2-1M119 114l-1 1M129 123l-6-8M123 106l2 3M178 158l1-7M179 151l4 1M183 120l-2-3M193 103l1-2M199 113l-2-4M198 101l-3 1M185 99l1 2M121 317l-9 2M121 317l-7-2M111 317l-1 1M114 315l1-1M129 310l-7 1M29 359l-3 0M40 354l0 0M31 361l-2-2M40 356l-1-1M151 325l0 0M150 329l-2-2M147 327l1 0M129 239l1 1M130 239l-1 0M122 236l0 3M95 228l4-2M84 224l0 0M84 224l-8-3M59 220l8 0M68 226l-5-2M63 224l-10 3M79 232l-6 1M73 233l-2 0M55 240l-1-1M51 227l-1 0M216 159l1 5M217 164l-1-1M210 151l3 9M214 166l0 0M220 169l-1 0M220 169l1 5M227 176l-6-1M222 179l-1-3M219 183l-3-11M214 166l0 4M205 174l-1-2M200 172l3-1M204 172l-1-1M469 302l-8 3M461 305l0 0M453 300l-2-3M449 296l3-2M483 346l-1 4M485 370l0-4M489 365l-2 1M496 369l-1-3M500 373l-4-4M398 465l0-1M438 394l-1 0M437 389l6 4M422 384l6 4l7 4M491 388l5 3M491 388l-5-1M486 387l5 5M496 393l-5-1M484 386l2 1M454 464l-3-2M447 456l4 6M383 485l0 0M386 481l3-1M387 503l0 0M383 485l1 1M387 472l-1-6M387 467l3 9M391 482l0 0M391 473l-4-6M366 480l1-2M400 413l-5-6M393 413l5-1M388 401l4 5M189 522l-4 8M189 522l2 5M191 527l-2 4M172 357l2 0M174 357l-1 5M176 356l-2 1M173 363l2-1M228 541l-2 0M230 524l-1 2M205 513l-1 8M205 513l0 0M204 521l-3 4M210 510l-5 3M205 512l-2-1M201 515l1 4M200 521l0-5M200 516l1-1M202 530l6-11M201 526l0-1M214 491l-3 1M421 140l2-2M421 140l2 4M430 125l-3 9M396 80l1 4M391 90l6-6M400 87l-1-1M306 127l0-1M307 129l1-2M329 120l-1 0M330 107l-1 1M375 225l-6 1M361 231l-2-1M359 230l-5 2M367 228l-6 3M362 225l-3 5M348 236l1 0M358 226l5-2M363 224l-1 1M348 234l1 2M356 226l0 0M518 246l1 1M513 248l0 0M508 247l5 1M512 252l1-4M132 119l1 1M133 120l0-2M162 132l-3 2M101 321l-7 3M94 324l0 2M88 322l6 2M108 333l-1-5M91 317l2-1M101 321l-3-4M146 326l-5 2M147 326l-1 1M141 328l5-1M147 324l-1 2M147 327l-1 0M452 294l2 0M122 257l0-1M94 254l4 5M98 259l0 0M87 261l-6-5M126 248l1-1M144 256l-9-4l-9-4M129 247l-2 0M105 251l1 3M64 236l8 2M29 224l0 3M37 230l-3-2M29 227l0 0M209 174l0-2M203 171l-6-11M196 159l-3-3M183 152l0 0M194 150l-4-1M393 464l-1 0M388 461l4 3M436 446l3 6M445 455l-2 0M432 450l2 1M451 463l-5-1M384 486l1 0M385 484l0 2M373 491l1 0M378 499l0 0M387 503l-7-4M380 502l-1-2M357 495l5-2M355 491l-1-5M354 486l-1-2M195 522l2 3M185 522l-2 6M229 495l3 3M228 522l-1-7M215 521l-6-1M217 535l1-5M207 529l2-5M161 378l2-5M163 372l0 1M371 221l6-3M369 226l1-1M375 215l2 3M387 219l-5-2M155 120l-6-1M149 119l2 4M151 123l2 2M172 141l-3-7M94 254l0-2M78 248l-8-2l-8-3M60 242l2 1M73 233l9 5M82 238l1-4M83 239l9-1M83 227l3-1M90 228l9 5M85 232l-4 1M95 228l-5 0M203 171l0-1M395 493l-2-1M171 367l4-4M166 110l0 1M166 110l2-3M178 125l4 7M178 135l-1-2M178 135l-3 4M80 247l-8-6M72 238l3 2M82 240l-6 0M92 239l3-3M178 125l0 0M177 133l-8-9M95 240l-3 4M92 239l3 1M194 532l2 1M193 528l1 4M37 340l2-4l6-3l7-1l6 1l1 2l0 3l-5 3l-7 1l-5-1l-5-1M128 343l-1-4l8-4l8-3l7 0l4 2l-3 4l-5 4l-8 3l-6 0l-4-2M438 196l1 4l-8 6l-10 7l-9 2l-6-1l4-6l5-6l10-6l9-2l4 2M128 125l6 2l7 4l8 11l4 8l2 7l-6-3l-7-4l-8-11l-5-9l-1-5M197 514l-4-1l3-17l5-17l7-13l6-2l5 1l-4 19l-6 17l-6 9l-6 4M271 134l3 1l2 3l-1 5l-1 5l-3-1l-3 1l-1-5l0-4l1-5l3 0M342 363l-7-3l-9-3l-11-12l-7-10l1-5l4-2l11 6l10 12l6 9l2 8M75 263l2-5l18 2l15 2l12 4l1 4l-2 3l-12 1l-15-3l-16-4l-3-4M183 392l-1-2l1-4l4-4l3-2l4 0l0 4l-1 4l-3 3l-4 3l-3-2M402 165l2 4l-4 7l-6 5l-6 3l-4-2l-1-4l3-6l6-5l5-2l5 0M324 145l1 7l1 8l-5 11l-5 7l-5 2l-2-5l2-9l3-9l5-9l5-3M460 454l-5 1l-9-5l-10-8l-5-8l-2-6l7 1l9 4l8 8l7 8l0 5M157 116l5 2l5 3l5 5l-1 5l-2 4l-3 1l-5-4l-5-6l-1-6l2-4M352 303l0 2l-4 1l-5-1l-4-1l-1-3l2-3l4-1l5 1l4 2l-1 3M151 239l2-3l5 1l4 1l3 4l0 3l-3 2l-4 0l-3-2l-4-3l0-3M202 441l-2-3l1-5l2-5l3-3l3 0l3 2l-1 5l-1 6l-4 2l-4 1M169 138l3 0l4 2l3 5l0 4l0 5l-4 0l-4-4l-3-4l0-4l1-4M348 378l-3 1l-4-3l-2-3l-1-3l-1-3l4 0l3 1l3 4l1 3l0 3M240 541l-3-3l-2-6l0-8l4-6l4-2l3 3l2 7l-2 7l-2 6l-4 2M282 51l3 4l3 10l-1 15l-3 11l-5 8l-3-10l-2-10l1-14l3-10l4-4M122 373l-1-3l3-3l4-2l4 0l4 1l0 4l-3 4l-4 1l-4 1l-3-3M369 390l-4 1l-3-1l-4-3l-1-4l1-3l3-2l4 3l2 3l4 4l-2 2M408 266l-1 3l-3 3l-5 0l-5-1l-2-2l0-4l5-2l5-2l4 2l2 3M353 438l-5-2l-7-8l-6-11l-2-8l0-7l4 1l7 9l6 11l4 10l-1 5M378 268l-2 4l-6 4l-8 2l-6-2l-3-2l1-4l5-4l9-2l6 2l4 2M174 521l-1-3l1-8l3-9l5-8l4 0l2 4l-1 8l-5 9l-4 6l-4 1M211 424l-3-3l3-11l5-10l5-8l6-2l0 7l0 8l-5 9l-5 7l-6 3M159 162l3-1l5 3l4 4l0 5l0 4l-4-1l-4-1l-3-5l-3-5l2-3M171 203l4-2l5 3l5 5l3 5l0 4l-4 0l-5-2l-5-5l-3-5l0-3M414 368l-3 2l-4 0l-5-3l-3-4l-1-3l3-1l5 0l4 3l4 3l0 3M177 229l9 2l8 1l12 8l7 8l-1 5l-3 3l-11-5l-11-7l-8-9l-2-6M172 489l-3-3l2-9l5-9l5-6l5-1l3 2l-2 10l-6 9l-5 6l-4 1M225 370l-1-3l0-4l3-4l3-3l3 1l2 2l0 4l-2 4l-4 2l-4 1M107 457l0-5l1-5l6-6l5-1l5-1l1 5l-4 6l-5 6l-5 1l-4 0M100 167l11 4l8 3l10 7l6 7l2 6l-4 1l-11-5l-10-8l-8-8l-4-7M302 185l2 4l0 8l-3 9l-4 7l-4 2l-3-2l-1-9l4-10l5-8l4-1M440 416l-2 3l-7-2l-4-5l-5-5l2-3l3-2l5 2l6 4l3 5l-1 3M338 387l-4 2l-5-4l-4-5l-1-6l3-2l3-2l4 4l4 4l1 6l-1 3M242 76l4 3l3 8l2 11l-1 8l-4 1l-3 0l-3-9l-1-10l2-6l1-6M136 276l3-2l4-1l6 0l4 2l1 3l-1 2l-6 1l-5-1l-5-2l-1-2M276 545l-4 0l-2-7l0-14l1-13l4-4l4 5l3 11l0 15l-2 7l-4 0M421 424l-5 1l-7-4l-7-7l-5-7l0-4l4-3l8 5l8 7l4 7l0 5M216 140l4 0l4 5l2 7l0 7l-3 3l-4-2l-4-4l-2-7l-1-7l4-2M349 53l2 4l0 6l-1 6l-4 4l-4 2l-2-3l0-6l2-6l3-5l4-2M460 279l-2 4l-4 2l-6 1l-4-3l-1-2l0-4l5-1l5-1l5 1l2 3M109 147l4 0l5 2l4 4l3 5l-1 2l-4 0l-4-1l-4-4l-3-4l0-4M416 138l3 1l-3 7l-5 5l-6 2l-4 0l-2-4l3-6l6-5l5-3l3 3M183 158l4 0l4 2l2 5l1 4l-2 3l-4-1l-3-1l-4-4l0-4l2-4M295 538l-4-4l-4-11l-2-14l3-8l3-4l4 3l3 10l2 12l-1 11l-4 5M156 442l1-5l1-7l6-7l7-5l3 1l1 3l-3 7l-5 8l-6 4l-5 1M253 218l4 0l3 3l0 5l0 4l-3 2l-4-1l-2-3l-2-5l1-4l3-1M444 388l-3 2l-6-1l-5-4l-5-4l1-2l2-2l6 1l5 3l4 4l1 3M232 165l4 1l3 3l1 4l-1 4l-2 3l-4-1l-3-3l-2-5l2-3l2-3M117 395l0-3l2-5l6-2l4-1l4 0l-1 4l-2 4l-5 3l-5 1l-3-1M107 217l2-1l5 0l5 3l5 3l0 3l-3 2l-5 0l-5-3l-5-4l1-3M106 326l1-4l11-4l14-2l11-1l8 2l-9 4l-7 5l-15 3l-11 0l-3-3M431 360l-4 2l-6 1l-7-4l-6-5l-1-4l3-2l8 1l7 3l5 4l1 4M217 531l-3-5l0-10l3-10l4-9l4-1l3 5l1 7l-3 10l-3 8l-6 5M244 375l-3-3l0-7l2-8l4-5l4-1l4 2l-1 8l-2 7l-4 6l-4 1M375 337l-3 3l-4 0l-5-3l-2-3l-2-3l4-2l4-1l4 3l3 3l1 3M406 381l-3 2l-5 0l-5-3l-2-4l1-4l3-2l4 1l6 2l2 5l-1 3M141 456l-1-4l2-5l3-4l5-3l2 1l2 2l-2 5l-4 5l-4 2l-3 1M155 90l3 1l3 2l3 5l1 5l-1 3l-3 0l-4-4l-3-5l-1-5l2-2M39 313l3-3l5-2l8-1l6 1l4 3l-2 3l-7 2l-8 0l-5-1l-4-2M272 459l-2-1l-1-6l-1-6l2-5l2-3l3 3l1 5l1 6l-2 6l-3 1M33 244l4-2l6-1l7 1l7 3l0 4l-1 4l-8 0l-7-1l-7-4l-1-4M470 140l0 4l-3 4l-4 4l-5 1l-3-1l0-3l2-5l5-3l6-2l2 1M375 404l-3 1l-3-2l-3-3l-3-4l1-4l4 0l3 2l4 3l1 4l-1 3M210 62l5 1l4 8l2 10l0 8l-2 5l-4-1l-5-9l-2-10l-1-10l3-2M464 362l0 4l-6-1l-5-2l-4-3l-2-4l4-2l5 1l6 1l3 4l-1 2M307 143l1 3l2 3l-1 5l-3 3l-3 1l-2-3l-1-3l1-5l3-3l3-1M388 223l0 3l-3 3l-4 3l-4 0l-2-2l-1-3l2-3l5-3l4 0l3 2M341 531l-4-1l-4-7l-3-8l1-7l2-5l5 4l3 5l3 8l0 7l-3 4M86 144l3-2l5 2l5 5l2 4l-1 3l-1 3l-6-3l-6-4l-3-5l2-3M397 509l-3-1l-5-4l-5-6l0-6l0-5l4 1l5 5l5 7l2 7l-3 2M363 235l0 4l-2 4l-6 4l-6 1l-4-2l2-5l2-4l6-2l5-3l3 3M204 324l0-3l3-4l4 0l5-2l2 2l-1 3l-3 3l-3 3l-4-1l-3-1M46 369l-1-4l5-3l5-2l6 0l2 3l0 4l-5 3l-5 2l-6 0l-1-3M365 155l0 6l-2 8l-7 10l-8 7l-5 0l-1-5l4-9l6-9l8-8l5 0M314 433l-3-2l-3-3l-1-5l0-5l2-2l3 0l3 5l1 5l0 4l-2 3M503 296l-2 2l-4 2l-7 0l-4-2l-1-3l1-2l5-2l6 0l4 2l2 3M315 191l3 1l-1 5l-2 3l-2 4l-3-2l-3 0l1-5l2-4l3-3l2 1M198 462l-1-4l0-4l0-6l5-3l4 0l2 2l1 6l-3 6l-4 3l-4 0M482 181l-2 4l-2 4l-6 3l-5 1l-5-1l0-5l5-5l6-3l5 0l4 2M288 479l-3-2l-1-4l-1-6l1-5l2-1l3 1l2 4l0 6l0 6l-3 1M230 95l2 0l3 4l2 7l-1 5l-3 2l-2-1l-3-4l-1-7l0-5l3-1M355 320l0 2l-4 1l-4-2l-3-2l0-3l1-2l4-1l4 2l3 3l-1 2M303 75l3 1l0 7l-1 7l-2 6l-4 3l-3-4l0-6l1-8l2-5l4-1M308 230l2 3l0 4l-2 2l-3 2l-4 0l-2-3l0-4l2-3l3-1l4 0M158 219l4-2l4 0l4 3l3 4l-1 4l-3 2l-5 0l-5-3l-2-4l1-4M95 232l2-3l8 1l7 1l5 5l2 4l-5 2l-6 0l-7-2l-7-4l1-4M155 285l2-2l5-2l5 1l5 2l2 2l-2 3l-5 1l-5 0l-5-2l-2-3M457 312l-2 3l-5 1l-5 0l-5-2l-1-4l1-3l6-2l6 1l4 3l1 3M261 90l3 2l1 7l1 7l-1 6l-3 3l-3-3l-2-5l-1-8l2-8l3-1M377 469l-4 1l-6-6l-5-8l-1-7l0-6l6 2l5 5l5 7l3 8l-3 4M200 219l3 0l6 4l6 6l3 5l0 5l-3 0l-6-4l-6-6l-4-6l1-4M395 290l-1 4l-3 2l-5 0l-3-2l-3-3l3-4l3-2l4 1l4 1l1 3M108 124l2-3l7 6l6 5l2 6l-1 4l-3 1l-6-4l-5-5l-3-6l1-4M60 332l1-4l6-4l9-2l6 2l3 3l-2 4l-6 3l-7 1l-6-1l-4-2M152 391l-2-2l3-4l4-3l4-2l3 1l-1 3l-1 3l-4 4l-5 2l-1-2M71 154l5-3l11 6l8 7l11 8l-2 4l-6 1l-9-3l-9-7l-9-8l0-5M476 296l-2 2l-5 2l-6 0l-5-2l-2-3l3-2l4-2l7 0l4 2l2 3M379 251l0 3l-3 3l-5 2l-4 0l-3-2l1-4l3-3l4-2l5 0l2 3M170 108l3 0l4 3l3 5l0 5l-1 4l-4-1l-4-2l-3-6l0-5l2-3M150 205l3-1l4 2l4 2l3 3l-1 4l-3 0l-4-1l-4-3l-3-3l1-3M103 343l2-3l5-3l7-3l5 1l5 1l-3 3l-5 4l-7 2l-6 0l-3-2M287 147l2 2l2 4l-1 6l-2 4l-3-1l-3-1l-1-4l0-5l3-3l3-2M145 499l-1-3l0-5l3-4l4-4l3 1l3 2l-2 6l-3 5l-4 2l-3 0M259 118l4 2l3 3l-1 5l-2 4l-3 3l-4-2l-2-4l0-5l1-5l4-1M221 316l-2-4M324 286l-1-4M323 308l-1 5M221 316l1 0M222 316l6-10M238 263l5 0M243 263l0 4M243 267l0 0M246 264l-3 3M243 263l3 0M308 302l1-2M309 300l0-1M263 343l0 0M232 297l3-1M231 302l5-2M235 296l2 2M235 304l1-4M235 304l-5 1M237 292l-2 4M241 297l-1-4M241 297l3-3M240 293l3 0M244 294l-1-1M252 260l-1 3M252 260l-2-2M246 263l-1-3M245 260l5-2M323 281l0-1M323 280l-2-7M255 259l2-8M309 300l-10-4M305 295l4 4M299 296l-2-3M239 281l-1-4M241 281l4-4M244 271l6 3M250 274l2-1M249 270l3 3M314 290l3-4M316 282l1 4M312 294l2-3M312 294l-2-1M310 293l-1-8M305 289l3 3M308 292l-3 1M308 285l0 0M308 285l-3 4M304 282l4 3M305 295l0-2M298 291l0 0M308 285l1 0M320 307l0-1M264 343l-1 0M275 347l0 0M314 291l2 1M316 292l3-1M289 322l0 2M285 318l-3 1M279 321l0-1M279 321l-2 3M279 320l-5-1M273 324l-1-1M273 324l1 0M286 328l-1 0M286 328l-7 6M285 328l0 0M281 330l-2 4M287 327l0 1M287 328l-1 0M279 321l6 7M282 319l-2 0M277 324l1 2M278 326l7 2M278 326l-1 1M299 336l0 2M299 336l-4-1M295 335l-2 1M293 336l0 3M287 329l5 0M292 329l4 2M296 331l-1 4M235 321l2-4M238 310l-1-2M236 313l-3-3M233 310l4-2M241 312l-3 0M230 308l0 6M236 315l-2 1M230 314l-2 3M228 317l3 2M235 327l-5-4M235 327l0 0M227 297l-5-4M221 294l0 0M224 304l0-2M215 292l0 2M215 292l0-2M215 290l6 4M216 298l-1-2M214 290l1 0M221 288l-5 1M215 290l1-1M238 254l2-1M244 258l0-4M244 253l0 1M245 247l0 0M238 262l0 1M249 254l-5 0M220 272l-1-2M221 267l-2 2M218 279l2-7M233 268l-5 3M239 264l-1 5M238 269l-3 1M239 273l3 0M242 273l2-2M244 271l0 0M244 271l0 0M243 267l1 4M238 269l1 1M245 277l0 0M244 271l0 0M250 274l-2 5M248 279l-3-2M232 273l3-1M232 273l0 3M237 275l0 1M235 277l2-1M235 270l0 2M228 271l0 1M239 273l-2 2M231 279l-2-2M229 277l3-1M238 277l-1-1M237 284l2-3M234 283l1-5M233 284l3 8M240 286l-3 6M236 292l0 0M228 289l1-1M230 283l-3-7M226 276l-4 5M229 277l-2-1M231 284l0-1M228 289l-5-7M221 284l1-3M241 299l0 7M240 299l-1 0M239 299l-2 5M237 304l2 1M239 305l2 1M241 306l0 0M241 306l0 0M241 306l3-4M243 299l1 3M243 299l-2 0M244 294l3 3M237 298l2 1M235 304l2 0M238 310l3-4M304 282l2-2M309 280l1 0M321 287l3-1M316 282l0 0M312 258l2 7M314 265l2 2M248 247l6 2M245 247l0 0M248 247l0-6M299 296l0 6M301 304l-2-2M275 305l2 2M285 315l-4-4M284 308l0 0M284 308l-2 1M288 315l0-7M282 309l-1 2M284 308l4 0M299 302l-3 0M296 293l-1-1M295 292l-6-1M294 296l-2 2M292 298l-2 0M269 288l4-4M269 288l1 1M275 284l-1 0M275 284l3 7M277 291l-4-3M272 291l4 1M272 291l-1-1M277 292l0-1M276 283l-1 1M276 283l-1-2M269 282l0-2M270 270l-1 3M277 274l0-6M269 273l4 2M279 276l-2-2M279 276l-4 5M316 324l-4 1M296 322l3 0M299 322l0 1M299 323l-1 3M298 326l-2-1M289 324l6-1M292 329l3-2M306 313l2 3M275 347l1-3M273 340l1 0M274 340l2-2M276 348l3-2M312 294l8 3M320 295l0 2M262 331l1-9M263 322l4 1M270 331l-1-7M275 327l1 0M276 327l0 4M276 331l-1 1M275 332l-3-1M273 331l-1 0M274 324l1 3M277 327l-1 0M279 330l-3 1M241 322l3-3M239 318l4-1M243 317l1 2M244 319l1 1M259 344l-7-2M235 329l-2 1M241 312l2 0M243 317l1-2M243 312l1 3M241 306l4 3M243 312l2-3M248 303l-4-1M248 303l-2 6M261 337l1-6M245 339l1 1M245 339l-5 0M239 338l1 1M276 292l-4 5M271 293l-1 3M306 274l-8 3M296 268l0 6M296 276l0-2M296 276l2 1M300 271l-2 6M298 278l-2 3M298 278l0-1M317 281l-1-7M319 273l-3-5M287 271l-1 1M285 272l1 0M278 267l1-1M288 279l-2-7M292 276l-5-5M295 273l-7-3M290 266l0 0M281 277l4-5M281 277l-2-1M277 268l1-1M272 268l-2-4M274 262l-4 2M274 262l5 4M279 266l0 0M298 254l4 1M298 254l-1-2M302 249l-1 2M300 246l-3 0M297 252l-1 0M269 270l-3-4M269 270l-4-1M265 269l-3-2M266 266l-4 1M270 270l-1 0M270 260l0 4M255 259l6 4M263 260l0-6M261 263l1-1M248 241l1 0M280 264l-1 2M280 264l0-6M274 262l0-2M274 260l5-2M295 315l0 3M295 315l-3-2M291 318l-1-2M295 318l0 0M289 322l2-4M296 322l-1-4M288 315l2 1M289 308l1 1M292 313l0-2M290 309l2 2M298 306l-2 1M294 303l0 3M296 307l-2-1M272 303l-5 5M267 310l0-2M249 281l-1 0M253 282l-4-1M254 273l0 9M254 273l1-1M254 282l3 0M257 282l2-1M260 276l-1 5M255 272l6-6M260 265l1 1M252 265l1 0M255 272l0 0M261 263l-1 2M262 267l-1 0M261 267l0-1M294 303l-4 1M292 300l-2 3M294 303l0 0M292 298l0 2M289 308l1-4M290 309l4-3M286 301l0-1M286 301l-2 7M289 291l1-4M280 303l1-2M281 301l-4 0M280 307l-3 0M280 307l0-4M282 299l0 0M283 294l-4 2M284 308l-2-9M286 300l-2-1M277 299l2-2M288 295l-3 3M284 292l-1 2M284 292l3-2M278 291l6 1M277 292l2 4M277 299l-5-1M272 297l0 1M306 328l-2 1M304 329l-2 0M295 327l3 3M300 329l-2 1M312 325l-1-4M311 321l-5 3M301 319l1-1M306 324l1-3M279 340l-1 3M320 298l4-2M274 319l0 0M280 314l-3 0M274 319l3-5M274 310l0 2M277 314l-3-1M274 313l-2 3M269 313l0 0M320 307l-4 6M262 310l-3 1M262 310l1 0M254 308l0 0M255 337l0 0M261 337l-4-1M263 322l0 0M258 327l1 4M261 324l-5 0M258 327l-2-2M230 323l-3 0M225 317l1 6M242 325l3 3M263 302l3 2M272 303l-1-2M266 297l-1 3M272 298l-1 3M272 303l0 0M263 296l2-4M265 292l2 1M271 293l-3-1M269 291l-1 1M258 292l0 1M258 293l7-2M266 287l-1-1M260 282l3 3M269 282l-4 4M269 280l-1 0M268 280l-8 2M265 292l0-1M269 288l-3-1M248 303l4-3M254 308l-1-6M246 309l1 0M252 300l1 2M306 274l1 0M301 266l6 3M306 271l1-2M313 269l-5-2M292 261l-1-2M292 261l-2 5M290 266l-3-2M287 264l-1-4M280 264l7 0M290 266l0 0M293 261l3-3M289 256l2 3M292 261l1 0M254 249l-1-7M253 241l0 0M297 246l-2-1M280 258l2-2M292 252l-1-1M279 258l-6-2M270 260l0-1M270 259l2-1M279 250l1 3M284 243l-3 3M276 244l3-3M276 244l-4 1M303 315l1-4M299 317l0-4M304 311l-5 2M305 310l-1 0M304 305l0 4M304 309l-5 0M253 286l-2 3M257 294l-3 1M251 289l3 6M252 300l-1-2M240 286l0 0M243 291l0-1M243 284l0 1M245 287l0 1M245 288l3 2M248 289l0 1M248 290l0 0M248 281l0 5M251 289l-3 0M243 285l2 2M249 297l-1-7M262 275l4-1M269 273l-1 6M260 276l2-1M265 269l1 5M268 280l0-1M269 273l0 0M289 284l1-1M290 283l0-3M290 280l-2-1M288 279l-5 2M292 283l-2 0M287 290l-3-5M288 279l0 0M281 277l2 4M276 283l7 1M278 291l5-7M312 314l-2 3M311 321l0-1M307 321l2-3M284 343l-2-2M282 341l2-5M288 341l-1 2M282 345l2-2M322 292l2 2M321 292l1 0M273 318l-3 1M272 317l-5-1M270 319l-3-3M267 316l0 0M272 316l0 1M267 323l3-4M269 313l-2 3M322 313l-1 0M316 313l4 0M245 316l1 1M246 315l3 3M246 317l3 1M247 320l0 0M247 320l-1-3M247 309l2 4M254 309l-3 5M249 318l3-1M247 315l5 2M256 310l0 3M251 314l1 1M247 324l2-2M245 328l2-1M247 337l2 1M253 332l-1-1M252 331l-1-4M256 331l-1 0M251 322l4 4M251 322l0 0M261 296l-3-2M258 294l2 8M260 302l2 1M262 302l0 1M263 296l-2 0M263 302l-1 0M253 302l7 0M261 304l1-1M263 310l4 0M310 276l2 0M312 276l2-1M295 245l-1 1M287 245l1-1M257 250l2-3M284 250l2 0M287 245l0 0M280 253l4-3M286 250l0 0M280 253l0 0M273 256l0-1M270 259l-4-4M263 254l1 0M264 254l2 1M297 309l-4 2M296 313l2 0M292 311l1 0M295 315l1-2M263 322l0 0M263 322l0-4M262 310l1 7M252 317l0 0M252 317l0-1M251 322l1-1M252 317l0 4M250 331l1 2M251 334l-5 0M252 333l-1 0M247 337l-1-3M256 239l2-1M260 240l-2-2M260 240l1 4M260 240l0 0M260 240l-2 1M259 247l-1-5M253 242l5-1M264 241l1 1M264 241l1-4M274 253l-1 1M273 254l-2-3M273 255l0-1M270 245l-2 5M253 316l3 2M256 318l2-2M257 315l1 1M258 316l0 0M256 313l1 2M252 316l1 0M259 311l-1 5M263 317l-5-1M255 321l1-2M256 319l5 2M256 322l5-1M256 318l0 1M256 324l0-2M263 322l-2-1M267 252l5 2M273 254l-1 0M268 250l-1 2" stroke="#4fa256"/><path d="M235 295l-10-3M233 281l4-3M255 254l-1-2M279 243l1 2M297 239l-2-1M294 246l-2-2M244 267l-6-3M233 281l-3-2M299 318l0-2M268 336l1-2M240 338l1 2M235 339l-2 7l-3 7M230 353l1 0M278 236l3-6M290 248l-1 5M285 256l0 1M291 236l-2-3M289 233l-1 1M296 232l-1 4M289 242l0 0M226 287l1 0M222 280l6-1M262 249l-1-7M68 171l-1-1M152 224l1-1M299 316l4 0M299 331l-2-2M289 327l1 0M301 338l2 0M292 371l-3-10M292 374l-3-7M285 344l4 14M142 484l0-4M146 481l-1-6M140 487l-5 3M154 471l0-1M273 348l-2 2M225 326l-1 0M231 317l5 0M224 324l0 2M325 222l-5 1M272 153l-2 5M325 267l5 0M326 290l-2 0M332 289l-6 1M313 258l7-5M213 108l1 3M209 112l1 3M240 111l0 1M206 51l-2 2M185 61l-2 4M202 55l0 9l0 9M216 103l8 12M231 250l-6-3M224 247l1 0M221 245l-7-11M232 248l-1 2M229 272l-1-1M212 267l0 3M188 279l1 0M225 146l1-1M219 139l0 1M246 244l0-2M254 252l-3-6M255 240l-3-4M252 236l0 0M240 237l6 5M238 228l-1 0M48 183l-3-5M134 202l1-3M121 195l-1 1M516 343l-1-3M305 297l2 4M333 302l0 0M438 318l1 5M323 332l-1 0M327 333l-4-1M317 323l2 5M343 356l-1 1M343 356l2 1M285 344l-1-7M308 341l0 0M351 387l0-1M351 386l0-1M287 422l2-7M283 411l3-7M286 404l3 11M293 427l-1 1M289 415l1 1M123 488l-2 6M121 494l0 0M165 444l-1-1M164 443l-4 7M158 464l-4 6M200 418l6-12M185 373l1 1M190 378l-6 6M236 354l3-1M257 420l1-3M215 335l0 1M229 371l-3 3M263 333l0 1M258 334l2 0M337 177l-3-1M328 251l-6 3M322 254l-3 4M318 260l1-2M328 243l0 8M231 93l-6-3M229 113l4 2M223 94l2 3M264 112l6 4M264 106l6-8M270 98l-2-7M268 91l2-6M258 114l2 5M261 152l-6 0M261 146l-6-2M260 137l1 9M255 144l-1-3M287 124l-1-7M287 124l-3-2M301 103l-4-3M285 206l-1 12M285 206l-5 4M287 216l-3 2M290 171l4 10M307 171l2-10M301 180l-2-3M299 177l0 0M277 148l-2 12M275 160l-1 0M277 167l-1 6M300 228l3-6M308 235l4-7M309 229l3-3M312 226l0 2M311 237l-5 7M320 223l-3 4M313 251l-1 0M307 250l1 3M496 193l-9 2M502 194l0 1M504 198l-2-3M319 281l8-1M209 92l2-1M204 78l0 1M170 225l7 6M221 266l-1-2M220 264l2 0M205 201l1-3M240 239l0-2M246 244l0 0M240 239l-1 2M212 215l0 5M186 292l4 3M190 295l8 1M168 351l-2 0M183 396l-2 1M183 396l-2 6M173 406l1-1M175 404l-1 1M214 395l4-1M200 418l0 0M210 401l2-2M200 418l0 0M214 395l-2 4M176 429l-6 7l-6 7M176 429l2-4M178 425l-2-2M163 442l1 1M177 416l-2 6M172 410l-3 3M164 416l-2-2M157 425l7-9M30 318l-6 1M26 314l0 2M32 209l4-1M226 278l-9-2l-11-3M206 273l-1-3M190 266l11 3M263 219l-4-5M246 205l-6-2M236 199l-6 1M83 138l-5-2M79 130l0 0M138 206l-3-2M476 325l3 4M438 318l-14 1M493 334l2-1M331 301l0-1M345 325l8 0M353 325l2-1M344 319l0 5M347 328l11 4M360 332l-7-7M362 327l5-3M317 323l0 0M344 363l0 3M349 350l0-1M340 330l-1-1M358 338l1 3M356 351l4 3M351 352l13 6M360 354l4 4M364 358l1 0M351 366l-7-3M291 341l5 6M299 347l0 0M276 341l3 1M283 346l-3 8M280 353l0-8M296 353l-1-1M300 358l0-4M300 354l0 0M306 368l-1-3M296 353l4 1M298 489l1 1M296 471l0 3M296 488l2 1M296 488l-1-6M320 384l0-7M317 384l3 0M328 396l-3 1M325 379l-2-3M323 376l-3 1M323 376l-4-9M309 371l2-4M286 367l-1-1M283 395l-1-1M152 456l-2 5M150 456l-3 4M147 451l3 5M188 419l-5 9M213 437l1-1M225 432l-1-5M219 429l5-2M219 429l3-9M196 366l0-5M186 371l3-4M167 383l5-4M161 392l-7 3M270 465l-2 9M268 493l-1 4M267 497l1 6M267 515l1 7M243 389l-3 12M228 414l3 6M235 389l-2 0M233 401l0-1M223 353l0 1M202 355l1 2M232 383l5-5l5-5M212 374l-2 4M211 370l1 4M222 365l-4 4M265 354l-4-1M379 173l12-5M339 59l0 7M337 177l-1 4M333 189l-3-2M320 266l6-4M407 176l1-2M359 191l-7 5M365 181l1 1M359 196l0-5M343 174l0 2M330 94l4 2M258 101l-4-1M270 85l2 1M269 70l-1 4M268 74l-2 0M242 46l1-5M242 46l-4-1M238 45l0-4M219 59l-1-2M222 84l-2-12M248 68l0 2M271 99l0 0M291 110l-4 1M286 110l1-5M257 162l-1 3M260 187l3-11M253 162l-2-4M250 166l0-1M255 151l-2 0M288 138l-2 0M282 145l2 0M250 41l1 5M289 146l0 1M289 147l4 10M301 180l0 0M301 174l-2 3M293 144l4-10M263 219l1-3M300 208l4-1M303 222l1 0M357 284l-3 1M364 289l-2 0M366 293l-5-3M490 183l3 1M479 189l3 2M407 227l-6 1M411 222l-10 6M500 202l-2 2M447 268l-5 4M351 279l-1 1M354 275l-3 4M353 271l-11 2M234 153l2 9M241 172l-1-2M238 164l0-5M175 64l3 7M170 64l3-1M167 231l1 1M123 93l-6 0M116 100l2-6M98 110l-1-3M91 116l-1-2M95 127l-1 1M88 123l-3 4M175 64l0-1M182 83l-2-4M180 79l-2 4M178 83l0 4M191 59l5-9M199 68l-1-8l-1-9M190 57l0-5M189 78l1-1M189 78l1 5M190 83l0 1M212 88l4 13M216 102l0-1M202 210l-2-3M206 198l0-2M239 248l-1-8M239 248l-2-3M75 451l-3-2M88 429l4-10M128 362l9-1M129 359l-1 0M154 284l0-1M154 283l0 0M129 359l0 0M124 367l-6 3M119 364l-2 6M130 394l-1 1M129 395l0 0M116 407l2 1M122 406l0 0M113 413l1 1M119 411l-5 3M112 417l2-3M215 336l-4 5l-4 6M207 347l-1-3M201 340l-2 1M174 405l2-5M191 391l-1 5M182 412l3 0M191 401l-1 1M191 401l0-5M89 444l5-1M42 267l-2-3M62 266l-1-2M37 268l-12-6M20 269l5-1M30 258l12 3M24 307l-1-1M80 208l3 5M40 192l-1-2M224 285l-2 0M192 275l-7-4M122 232l-4-2M107 215l-3-2M84 204l4 5M84 204l0-2M230 180l0 5M224 211l1-1M227 210l4 8M64 169l-6-4M67 170l-3-1M68 145l0-1M101 165l-5-5M64 154l5 5M164 175l2 7M367 304l8 2M383 297l-8-1M376 295l-1 1M368 293l8 2M450 315l8 4M510 325l5-5M514 333l0-7M505 330l0-4M413 312l1 1M424 319l-1-2M437 311l-4-2M435 325l-4-1M409 329l7 2l8 1M464 333l-4 1M464 338l-4-4M361 343l1 0M353 313l5 1M337 314l10 2M339 312l7 2M317 322l1-2M318 320l-6-4M310 315l2 1M326 354l8 11M334 369l-6-3M342 382l-4-7l-4-6M429 487l1 0M411 497l1 2M414 486l4 8M407 330l4 4M399 333l12 1M415 348l-10-4M406 357l-8-3M423 362l-4 2M356 351l-1-5M339 338l2 0M391 383l3-2M391 359l-11-6M380 353l-2 2M385 410l-5-5M346 369l11 6M282 541l1-9M267 487l-2-8M351 524l-4-2M333 533l6 2M314 445l-1-1M312 447l-1-1M308 500l1 3M292 428l1 13M291 451l1-5M332 402l-2 8M334 421l-2-4M318 422l1 3M332 402l0-10M318 365l6 1M279 365l4 9M285 382l-2-8M269 359l3 1M277 410l3-3M274 381l-5-10M178 438l1-7M172 443l1-1M185 418l-3 11M163 460l0 0M163 460l5-5M164 463l4-2M168 461l1 2M145 499l-6 8M199 347l-1 2M162 408l3 2M246 512l0 1M255 517l-3-5M244 542l-1 1M244 542l2 2M272 413l3 0M271 406l-2 0M265 405l0-6M265 388l1 0M265 399l-1-5M266 388l1 3M247 413l0 1M247 413l-1-6M212 330l-3-2M200 421l1 4M211 437l-4 3M236 371l7-4M213 381l2 0M212 382l1-1M191 401l0 0M198 392l-1 2M202 392l-4 0M317 211l2-5M319 206l4-5M373 179l1-1M376 160l-8 9M395 155l4-7M399 148l-4-1M333 81l-1-5M338 72l-5 2M339 75l3-4M344 261l9-3M353 258l0-3M353 255l0-1M519 288l-3 2M380 193l-2-2M394 181l-8 5M390 190l-1 2M437 143l3-1M432 148l4 3M344 192l7-4M379 149l1-1M460 178l2-2M476 177l-7 3l-7 2M489 176l-8 2M461 180l2-1M461 180l-1 2M436 192l10-5M308 105l0 6M308 105l-6 1M303 113l5-1M272 60l2 6M273 74l1-8M221 73l3-1M248 54l1-4M248 59l-4-9M242 64l1-10M248 113l2-3M251 111l-1-1M278 128l5 0M287 111l1 11M290 105l0-6M295 51l0 3M300 152l-2 4M296 164l0-1M296 163l3-2M296 160l0 3M300 160l-1 1M298 180l0-7l-1-8M300 162l0-2M267 172l-1 5M267 172l0 0M267 197l2 4M356 295l-3-4M371 278l6-2M391 269l-5 4M396 274l0 2M313 236l6 0M340 249l-6-2M334 247l-2 1M482 191l3 4M489 176l0-5M482 170l5 2M382 248l-4 0M382 248l7-3M401 242l0-1M401 241l1-1M511 229l4-1M498 236l9-3l8-3M498 236l3-3M511 229l-8 0M501 233l2-4M358 263l-2 1M358 263l-1-5M356 264l0 2M403 262l10 2M377 260l0 0M377 261l-1 3M376 264l2 0M381 252l-3 2M375 258l1 1M360 256l1 0M357 258l1-1M400 253l-3-1M411 240l2 4M403 246l4 1M397 252l1-2M188 88l2-4M178 71l3-1M181 70l1-1M218 135l-7-6M211 149l1 1M175 176l0 1M171 179l4-2M193 204l1-1M111 120l9-2M124 124l-10 1M124 124l0-1M110 100l3 2M109 129l-9-2M112 139l-9-9M115 138l-3 1M112 140l8 7M112 140l0 0M122 148l-4-7M122 148l-2-1M156 159l-9-4M148 159l0 1M162 209l-4-6M144 194l-1 1M126 152l6 9M135 157l-2 4M225 210l-2-3M188 174l2 8M215 247l-1-1M207 234l4 10M193 220l-2 1M199 232l-1-1M95 403l0 2M141 347l1 0M130 347l1-1M117 354l7 0M107 362l7-7M31 373l-1-2M29 369l0 0M124 293l-6 1M114 296l4-2M114 296l2 1M135 293l-6 0M129 291l-2 2M138 293l-3 0M142 351l5-1M183 346l9-8M164 342l0 1M170 344l-3-2M150 342l2-2M164 342l0-1M152 340l12 1M86 452l0 0M87 447l-8 5M88 443l-6 2M80 406l-3-3M113 372l1 4M119 376l0 0M147 368l1 1M147 368l-7 5M131 378l2 1M131 381l2-2M148 367l1-4M196 388l-1-1M198 380l3 3M194 404l-2 0M202 392l-3 5M157 425l-4 2M156 420l-5-3M160 415l2-1M110 469l0 0M90 466l4-4M89 452l0 1M122 406l8-3M119 411l0 3M140 396l0 0M152 400l-9 6M92 453l2-2M99 454l-3 2M523 301l0 1M52 291l-2-1M34 288l-2-1M78 276l0-4M92 280l6-4M74 270l-4 2M74 276l4 0M73 269l11-2M73 269l1 1M62 286l0-4M78 283l-9 5M62 282l12 0M30 256l1-2M23 243l-1-1M58 192l0-3M43 196l7 4M40 192l3 3M43 204l-9-3M172 261l-12-3M159 256l1 2M182 260l2 3M171 235l1 0M171 235l0 1M154 283l2-1M132 236l0-2M132 234l6 0M127 231l5 3M65 192l12 3M65 192l3 5M68 197l0 0M81 199l-2-2M58 189l1 0M122 167l-1-1M114 158l4 5M125 162l-2 5M118 163l-3-1M71 166l1 2M177 197l3 3M169 193l6 2M176 201l1-4M157 198l-2-3M166 204l4 6M178 215l-7-4M107 186l1 1M112 194l-1-1M119 188l-9-4M119 188l1 2M120 190l-9-5M476 313l5 4M519 308l-1-1M403 298l2 0M404 295l-1 3M414 297l-9 1M387 302l2 1M481 317l-2 1M488 325l1-1M488 325l-8-2l-8-2M504 377l1 2M505 382l0-3M467 359l8 4M467 359l9 1M475 363l1 0M477 367l2-2M478 351l-6-2M378 318l2 4M431 324l-1 1M403 311l1 4M403 311l10 1M448 349l-3-4M453 345l-2-1M385 346l2 6M368 343l-8-5M368 343l2-2M375 343l-5-2M342 329l5-1M362 327l2 1M387 341l-4-4M378 342l0-1M341 338l-3-5M368 409l1-1M369 408l1 0M363 407l5 2M374 407l-4 1M381 428l2 0M484 413l-5-3M490 413l-1 0M424 332l0 0M399 333l1 1M411 336l0-2M461 369l3-1M430 376l4-1M433 481l-4-5M411 497l-5-8M340 396l1 0M282 530l0-7M285 537l3 5M283 518l2 1M286 524l-1-5M294 542l-2-7l-2-7M269 541l0 0M262 544l1-2M243 468l-2 10M246 477l-3 3M254 504l1-6M259 452l2-1M261 451l0 9M258 460l0 1M265 479l0-1M259 439l2 4M262 449l-1-6M260 421l1 1M258 417l1-9M264 394l-3-1M305 514l-1-1M306 498l-2-2M297 523l2 12l3 8M301 524l-1-2M296 540l-2 2M326 491l1-4M329 537l2 0M330 525l-1-2M327 522l-1 0M330 516l0 0M315 468l0 2M314 472l-4-1M308 428l-3-4M315 470l2 6M316 501l0-3M314 501l-3-8l-2-6M314 490l-5-4M308 500l6 1M316 498l0 0M320 489l1 4M326 499l0 2M323 467l-3 3M325 477l6 6M356 442l-4-4M356 442l0 3M351 447l2 6M319 425l2 0M272 360l0 1M272 402l0-2M289 391l2 2M287 401l1-5M188 454l3-1M191 453l0 0M191 453l0 0M197 448l0-1M235 463l1 2M214 445l0 5M214 450l4 0M220 461l0 0M174 394l0 0M180 393l-1 0M168 394l0 5M272 413l-1 6M268 441l-1-8l-1-8M270 427l0 5M273 430l0 1M278 418l0 5M245 384l6-5M326 194l-1 1M323 201l1-3M317 205l0 0M366 124l-1 1M367 129l-1-1M380 105l-2 0M375 121l1-1M373 110l0-1M381 108l4-5M385 98l-1 0M376 120l0 0M336 126l1-1M338 159l-4 8l-4 8M322 189l5-3M348 111l0 10M341 130l0-2M343 98l0 1M343 99l-1 1M343 112l4-3M342 100l5 9M355 108l-4 10M366 64l-4 3M520 282l-1-2M508 268l3 0M511 274l-5-2M511 274l6-1M380 194l2 3M381 183l0 1M415 145l-4 10M347 195l1 2M472 150l4-5M436 152l0 1M451 146l2 1M463 196l-2-1M451 206l-2-1M432 216l9-2M485 163l1-1M477 150l-1 3M466 164l2-6M471 156l-3 2M452 169l-2-1M330 80l-2-2M328 78l-1-1M310 65l-2 4M316 72l-3-4M314 78l-3 3M334 96l0 7M271 53l0 1M271 53l-2-13M275 41l-4 12M263 42l3-3M226 73l3 5M228 83l1-5M277 57l-1-3M277 53l-1 1M277 50l0 3M295 51l-4 4M289 40l2 5M293 92l0-11M270 174l0-1M404 284l-2-2M442 280l-5-1M431 282l1 1M439 287l-8-1M388 269l-8 4M316 230l-1 3M316 230l8-5M339 215l-1-1M345 211l0-2M336 246l1-1M332 248l-1-6M336 240l-5 2M463 196l-1 4M426 240l3-4M428 224l-3 1M376 236l11-1M386 238l1-2M402 231l-4-2M404 207l-2 2M500 214l5-1M498 210l4-2M457 243l3 2M442 251l1 0M488 263l-2-2M480 254l12-3M492 256l0-5M479 272l1 3M479 272l1 0M413 264l-1-5M232 129l-1 7M184 79l-2-5M180 79l0 0M184 80l0-1M198 101l0 0M146 134l4 6M147 155l-1-2M127 151l0-4M123 143l4 4M140 186l8 0M163 88l-1 7M163 88l-2-3M218 193l6 9M202 216l4 7M202 210l2 6M165 163l8 2M175 219l0 0M76 420l-6 1M82 426l0 2M86 430l-4-2M71 415l-11 8M70 421l-1 1M44 391l-2-1M69 392l1 0M60 386l4 2M72 345l-2 5M84 342l9-1M65 368l-1-2M179 317l-7-2M52 306l8 0l7 0M58 295l0 0M58 295l3 4M99 300l-8 3M95 291l1 0M212 313l1-1M181 326l0 0M168 308l7-1M59 421l6-5l6-4M59 424l0-3M110 385l7-3M110 385l-2 5M108 390l1 0M120 375l2 2M168 351l-3 4M161 356l3 0M189 444l6-2M200 433l-1 0M192 412l-1 1M109 466l3-5M106 479l-1 5M118 439l0-1M105 445l2 4M112 459l-3 0M104 462l0 6M140 278l-6 2M134 275l-2-2M73 258l0 0M73 258l1 1M32 234l-9 2M62 199l9 6M212 267l-9-7M206 269l-6-5M182 260l9 2M182 260l0 0M121 290l6 0M116 285l7 2M120 291l1-1M103 211l-5-6M114 205l4 2M129 230l-6-3M211 185l-1-2M205 179l2-1M196 144l1 2M194 133l-1 2M237 155l-1-2M234 152l2 1M63 190l2-3M90 199l-1-3M71 177l-2-4M110 170l6-2M119 171l2 2M107 158l0 3M504 302l5 3M499 301l-7 0M416 305l12-2M459 309l-1-3M395 310l6 0M401 310l0-3M389 303l-2 2M480 344l-1 0M474 344l5 0M474 344l5 3M497 340l0 0M477 367l0 0M466 363l8 1M457 353l4-1M461 352l6 2M467 359l-3-1M493 358l2 1M494 361l1-2M489 375l-3-4M436 356l-6-3M436 356l0 0M420 349l1 0M433 350l0 0M439 339l1-6M429 331l11 2M376 332l-3-1M373 331l-2-1M393 431l-2 2M462 396l2-7M464 389l3 1M478 399l-4-2M453 392l-1-8M459 387l1-7M452 384l-1-1M416 370l1 4M499 397l1-1M399 388l4-3M397 387l2 1M425 394l-4-3M387 365l3 3M386 361l1 4M413 424l7 2l7 3M398 388l-1-1M428 443l1 2M404 423l0 1M407 429l10 9M418 439l0 0M395 427l2 6M397 433l1 2M390 421l5 6M393 437l5 4M434 472l-5 4M396 449l7 4M404 450l-2-5M461 442l5 3M432 450l-3-5M356 442l0-1M356 436l0 5M357 455l3 1M363 432l1-1M368 435l1 2M365 514l3-2M358 497l-1-2M342 441l-6-5M336 437l1 1M335 428l1 8M382 402l2 1M386 405l-2-2M375 394l5 3M286 514l0-1M301 510l-1-1M248 478l2-1M236 465l3 2M251 489l1 0M252 489l0 0M253 488l4 1M257 489l0 3M266 451l-3-2M262 449l1 0M261 443l2-1M265 428l-4 4M265 439l-1-3M268 444l0-3M273 430l2 4M279 425l1 8M281 444l1-7M284 441l-1-4M280 446l0 0M281 453l0 12M282 467l0-1M275 439l-2-2M275 438l0 1M280 446l-2 11M310 540l-1-13M345 501l0-2M337 482l1 0M351 493l-3-6M348 487l-1 0M324 482l-3-4M320 473l1 5M321 499l2 6M319 505l3 7M316 501l3 4M282 496l1 0M283 484l-1 12M344 430l-2 3M347 434l-3 2M342 460l-6 4M333 460l3 4M316 410l-3-2M320 418l0-2M316 410l1 1M307 398l-1-5M161 487l3 0M198 471l-2 5M202 473l-5 9M197 460l-2 9l-3 9M197 482l1 1M154 496l-1 1M169 513l2 0M181 489l7-11M172 516l-1-3M229 448l2 0M242 415l-5 10M259 541l1-4M257 536l-2-1M217 477l0 1M325 195l0-3M365 116l-2 1M373 63l0 0M364 81l3 1M381 65l2 1M383 66l-6 9M377 75l-1-3M367 82l0 0M366 92l0-1M428 102l-8 11M420 125l0-3M406 139l7-7M414 132l1 0M397 142l8-5M397 142l0-1M391 143l2-2M420 89l-2-2M414 94l6-5M390 114l-5 7M393 113l-2 0M391 113l-1 1M379 126l3-3M364 140l-5 7M359 147l-1 2M358 149l-4 11M351 134l0 0M363 117l-1 1M354 96l1-2M469 248l4-1M358 214l4-8M359 214l6-3M355 206l-2 5M444 134l5-1M373 208l8-2M406 183l0 1M417 154l6-3M432 141l-7 7M401 167l5-6M414 175l-5 6M415 197l6-6M435 180l-1 1M437 184l6-5M424 184l1 2M450 168l-1 0M450 172l-7 5M472 142l-2 4M478 153l2-1M440 152l2 5M452 155l0 3M418 170l7-6M428 195l-7 2M421 197l0 0M440 202l-8 5M441 208l-3 0M481 171l-1-3M482 170l7-4M486 162l1 0M470 171l2 0M472 171l3-2M459 154l-5 4M452 158l2 0M334 66l-1-6M335 50l1-1M335 50l-2 9M333 59l0 1M331 68l-2 0M311 92l0 0M313 89l2 1M314 78l1 4M300 130l2-1M302 121l-1 2M299 134l1-4M299 134l3-2M297 129l4-6M304 122l0 0M303 113l-1 8M304 122l1 1M302 141l0 1M308 138l-1 4M306 50l-3-3M309 45l1-1M332 148l6-2M332 148l0-5M332 149l0 9M326 160l0 1M460 284l1 0M414 290l6-3M415 283l0 1M379 268l0 1M351 205l-2 2M340 236l2 0M361 256l4-7M340 236l-1 0M339 236l-8 1M459 202l4 1M486 209l-2 0M429 224l11-4M441 221l1 0M442 221l-1 0M364 234l3 1M447 252l3-1M469 248l-4 0M452 256l1 0M440 264l0 0M447 267l-5-3M457 259l2 3M460 262l1 1M455 270l0 2M450 268l-3 0M434 277l11-3M403 258l1-5M403 259l7-3M410 249l-1 1M476 233l7-4M465 230l1 0M465 230l-7-4M428 242l6-1M439 243l1-1M460 233l-13-1M101 143l7 10M145 160l0 4M138 159l3 5M155 70l1-2M178 103l5 11M187 119l-2-2M167 155l6 9M175 164l0 0M167 144l-3-1M156 142l7 7M157 141l4 3M134 97l-3-7M130 91l1-1M131 89l0 1M139 113l2-2M155 84l0-2M146 79l0-3M143 78l3 1M158 79l-2-1M152 90l0 6M193 135l-1 1M197 231l-10-8M187 223l-5-1M198 231l-1 0M102 398l3-2M112 391l0 0M63 427l0 0M48 360l1-2M71 351l-8 3l-8 4M80 371l-9 6M53 388l0 0M44 391l9-3M42 388l2-3M52 382l-8 3M53 388l0 1M53 399l2-5M61 391l-1 0M32 361l0 1M31 363l1-1M101 346l10-2M106 361l1-5M108 355l-1 1M106 361l-2-3M69 358l-1 0M71 341l-7-1M61 335l4 1M64 340l-2 0M60 331l-1 0M39 330l2 4M76 311l-1-1M131 311l7 0M27 347l0 0M206 328l-5 3M212 313l-5 3M200 322l0 0M169 332l1 0M176 307l5-1M193 319l1-2M194 317l0 0M180 321l-1 1M201 320l-9 0M161 326l2-3M186 314l4-4M213 304l-8-3M235 295l-7 1l-8 0M198 313l-2-1M156 363l0-1M171 356l0 0M164 356l-3 3M154 361l2 1M120 454l0 1M124 444l3 3M129 446l-2 1M134 433l-3 3M126 479l-5 2M139 440l-4 9M139 440l-10 7M140 458l-9 2M122 425l-10 9M112 434l2-5M131 420l-7 9M117 421l-10 7M113 427l-4 3M107 428l2 2M114 429l-1-2M145 269l-8-1M154 269l1 3M155 272l-5 1M147 268l-10-3M143 258l0 0M144 256l2-2M144 256l-1 1M129 238l-7-2M29 227l0 2M161 251l-3-2M155 248l-4-3M141 264l1-3M137 265l1-1M145 224l2 3M166 274l3 2M169 276l0 1M121 212l-1 1M120 213l0 0M194 133l0 0M195 150l5 5M80 178l1 3M469 300l11 2l10 1M508 362l1 2M509 364l3 1M465 374l-5-1M467 343l-2-2M501 360l-5-1M495 354l2 0M506 376l-4-3M500 368l2 5M498 364l-2 2M500 368l-4-2M327 319l0 0M438 343l-3 2M435 345l-1 0M467 383l1 0M462 381l5 2M396 365l7 0M428 384l-10-5M487 395l0 4M478 399l4 1M406 382l3 1M427 420l-1 0M429 417l-2 3M433 419l-1-2M398 396l-5-1M427 475l-3-3M414 454l-5 1M415 464l-1-3M452 439l0 0M448 432l10 7M433 419l0 0M441 416l8 6M460 430l3-1M476 435l-1-2M470 429l-5 1M365 439l0-1M370 447l3 0M359 436l6 8M343 406l1 4M389 509l-1 2M380 397l4-2M374 389l7 2M386 402l2-1M393 403l-5-2M282 541l-1 0M236 503l-1 7M254 473l-1 4M285 485l0 1M288 485l2 1M286 487l0 7M288 501l-2-6M310 540l1 1M304 415l-5-13M305 407l1 0M302 397l3 4M300 391l4 2M334 471l1 2M335 473l3 2M303 371l-1 4M153 497l0 5M186 521l-3-5M182 493l-3 5M178 491l3-2M242 430l0 2M243 418l-1 11M190 354l-5 1M188 347l-1 1M325 192l-3 3M319 197l0 0M386 74l0-3M382 79l3-3M387 85l-7 9M390 70l1 0M418 114l2-1M413 124l-8 5M393 130l1-6M384 143l0 0M401 122l0 0M397 130l0 1M393 141l6-9M394 123l7-1M384 97l2-5M355 90l3-10M483 288l2-1M487 292l-1-2M479 235l-3-1M483 242l-2-2M473 247l1-3M374 204l0 0M374 205l0-1M453 132l6-7M457 123l0-1M457 123l-7 5M384 210l2 2M434 186l-4 6M311 118l3 1M317 96l1-2M302 132l1 6M313 124l-4 4M326 92l3 3M330 95l-1 0M311 147l0 0M312 154l-1-7M310 44l-2-2M290 60l-1 9M480 279l9 2M472 288l-4 2M464 291l4-1M462 288l2 0M464 291l1-2M394 209l-5 1M397 197l1 1M373 241l-3 2M365 249l5-2M358 248l-3 2M472 218l5-4M482 211l-6 1M459 212l2 6M461 218l-7 4M466 209l-7 3M463 218l5-1M461 268l8-1M456 264l3 1M426 257l-2 0M426 253l-2 4M427 249l4 1M410 256l1 0M437 250l1 0M440 250l-2 0M105 107l0-3M133 138l2 9M138 147l-2 0M127 137l1 1M126 127l-2 3M133 138l-2-1M177 105l-4 0M133 122l0-2M211 128l-8-8M71 438l0 0M70 442l-1 0M69 442l-2 1M64 437l3 0M53 379l-7 1M54 374l-4 0M105 340l0-2M105 338l3-3M50 344l10-2M40 347l5-4M40 347l-4 2M70 345l-1-2M88 337l-5-1M88 337l-5 5M77 338l6-2M91 360l-4 6M65 368l10-3M86 311l-7-1M86 311l7-2M73 317l-2-1M86 311l-2 1M98 309l3-5M86 329l5-2M89 318l-1 4M32 361l-1 0M31 361l-4 0M36 349l-2 2M34 351l6 3M24 345l-2-2M89 295l-12 1M145 329l-7 0M140 327l-1 1M191 321l-2 2M181 327l-3 2M203 306l5 0M210 306l-2 0M142 445l-5 5M142 436l2 4M143 414l0 0M138 420l5-6M123 265l-7-2l-7-3M21 280l-3-4M50 280l0 0M59 280l-9 0M83 219l4 3M96 223l3 1M45 211l0 0M87 222l-3 2M65 212l-1 1M169 243l0-1M114 205l-1 3M447 305l-1 0M428 294l4-2M502 352l-12-4M419 345l-11-4M425 344l-1-2M424 342l-4-3M436 349l-11-4M431 344l-6 0M377 449l5-1M382 448l1 3M426 397l7 3l8 4M470 429l0-2M475 420l2 4M467 419l6 4M470 427l-2-2M463 412l-4 4M443 405l3 1M468 425l0 0M486 395l0-3M480 389l1-1M496 391l3 2M426 420l-5-6M441 466l-1 1M429 445l7 1M436 446l0-1M359 436l0-1M377 449l6 11M384 476l4 2M386 473l2 5M262 494l2-2M260 488l1 2M261 496l1-2M345 486l-1 0M341 480l-2-5M344 486l-1-3M202 530l1 4M202 530l-1-1M154 508l1 1M233 541l0-9M236 541l2 2M220 487l0 11M222 473l-2 8l-1 7M405 129l3-5M403 98l3-4M404 86l6-4M408 91l1-1M410 82l-3-2M385 209l0 0M324 107l5-12M309 122l0 0M319 46l1-2M318 139l4 1M418 185l6-1M470 214l5-1M476 212l-1 1M495 249l13-2M493 250l0 1M517 252l2 0M110 111l9 5M105 104l5 5M141 111l3 1M145 110l-1 2M152 96l3 4M187 119l-4 1M183 120l1 5M186 131l-2-5M193 107l0-4M194 101l1 1M159 316l-11 2M129 310l0 0M39 355l1-1M158 326l-7-1M151 325l-3 2M110 260l1-2M122 239l8 5M53 213l6 7M59 221l0-1M76 226l-7 0M53 227l8 2l7 2M207 178l-2-4M205 174l2 0M213 180l-3-5M213 160l0 1M217 164l2 3M225 172l-4 2M469 300l0 2M481 344l2 2M485 366l0 0M494 368l2 1M493 366l2 0M388 461l-4 0M496 391l0 0M463 455l-1 0M442 452l3 3M387 472l3 3M387 467l-1-1M390 476l0-1M384 461l2 5M366 482l4 9M371 492l2-1M398 412l-5-3M395 407l-3-1M392 406l1 3M392 408l1 1M180 524l-1 4M173 362l0 1M210 504l-1-4M200 521l1 0M422 133l1 5M415 145l6-5M422 146l1-2M399 84l0 2M304 132l2-5M306 124l0 2M328 120l1-12M364 216l2 5M361 231l-2 2M348 234l1-1M518 246l-5 2M519 252l0-3M124 114l8 5M101 321l9-3M115 314l-9 1M146 326l1 0M151 325l-4 1M111 258l-6-3M80 253l-5 1M94 254l0 0M127 247l-13-7M113 240l2 9M58 233l12 1M71 233l-1 1M34 228l-5-1M50 227l-6 0M209 172l1-4M396 474l-4-10M401 470l2 7M434 451l4 7M446 462l0 2M446 464l-1 1M392 487l-1-5M374 491l1-5M375 486l2 7l3 6M380 499l-1 1M189 519l0 3M195 522l-1 2M201 526l-4-1M185 522l-5 2M232 498l0 3M236 503l-4-2M163 373l1 0M377 218l5-1M368 220l3 1M150 127l1-4M55 241l5 1M82 238l1 1M83 234l9 4M83 227l2 5M85 232l0 0M197 160l3 1M190 152l0-3M190 149l0 0M189 531l0 0M164 373l5-3M175 364l0-1M175 365l0-1M172 368l0-1M167 115l-1-4M167 115l0 1M167 116l-1 0M166 116l-8-10M75 240l1 0M193 528l-1 4M184 126l-2-1M173 105l1 3M471 349l-4 2l-3 2l-6-3l-4-3l-1-3l3-3l5 0l5 1l5 3l0 4M338 505l-3-2l-4-5l-2-7l-1-8l2-3l4 2l3 6l2 7l1 7l-2 3M387 125l1 6l-4 9l-7 9l-6 5l-6 3l0-7l1-8l8-8l8-11l5 2M135 196l2-2l4 0l5 4l2 4l-1 3l-3 1l-4 0l-5-3l-1-4l1-3M124 435l-2-2l5-6l5-6l5-2l5-1l0 4l-3 6l-6 6l-7 4l-2-3M272 208l3 3l1 10l0 10l-2 9l-3 4l-3-4l-2-9l0-12l3-7l3-4M245 473l-3-4l-1-16l4-15l3-18l5 0l4 0l1 17l-4 17l-4 14l-5 5M480 254l-1 3l-5 3l-8 2l-6-1l-3-3l1-3l6-3l8-2l6 1l2 3M216 180l2 0l3 3l2 4l0 3l-2 2l-2 1l-4-2l-1-5l0-3l2-3M136 86l4-1l7 9l7 10l4 10l0 6l-6-4l-7-6l-6-10l-5-11l2-3M284 162l3 5l0 12l-1 13l-3 12l-4 2l-3-4l-1-11l1-15l4-9l4-5M105 250l2-2l5-1l6 2l5 3l2 3l-4 2l-5 1l-6-2l-5-3l0-3M456 331l-3 2l-6 1l-7-2l-5-3l-2-3l3-3l6-1l7 2l5 3l2 4M460 376l-3 2l-5 0l-6-3l-5-3l1-4l2-2l6 1l6 2l4 4l0 3M471 411l-3 2l-10-4l-9-5l-7-6l1-4l3-2l8 1l9 7l8 6l0 5M17 302l0-3l10-3l13 0l14 1l3 3l-7 3l-9 3l-14 1l-9-2l-1-3M287 220l2 3l1 4l-1 5l-3 3l-3 1l-2-2l0-4l1-5l2-3l3-2M227 471l-3-1l0-7l2-6l2-5l4-2l1 3l1 6l-2 6l-3 6l-2 0M359 214l1 4l-4 5l-5 5l-6 2l-4-1l-1-4l3-6l6-4l5-2l5 1M65 212l3-3l5 1l6 1l4 4l0 4l-4 2l-4 1l-6-2l-3-4l-1-4M140 303l1-4l6-3l8 0l7 1l2 4l-2 3l-6 3l-8 1l-7-2l-1-3M421 325l-4 2l-5 1l-7-1l-3-3l-2-4l2-3l6 0l7 0l3 4l3 4M113 362l0-2l5-3l4-2l5-2l2 2l0 3l-4 3l-5 3l-4 0l-3-2M511 258l-1 4l-6 3l-7 0l-6-1l-4-3l4-3l4-4l7 0l8 0l1 4M330 474l-4 1l-6-10l-4-13l0-10l1-6l5 3l6 9l3 12l1 10l-2 4M452 116l0 5l-5 8l-9 9l-8 5l-4-1l-2-4l6-9l9-9l9-5l4 1M129 240l4-2l5 0l6 2l3 4l2 4l-3 2l-6 1l-6-2l-4-4l-1-5M104 304l4-3l6-3l9 0l9 0l0 4l-3 3l-6 3l-8 1l-8-1l-3-4M146 261l3-2l4-2l6 2l4 3l1 4l-2 3l-6 0l-5-2l-6-2l1-4M145 419l-1-3l2-5l4-4l4-2l4 1l0 4l-1 4l-4 4l-5 3l-3-2M287 458l-3-2l-2-3l-1-6l2-4l2-3l3 2l3 4l0 6l-2 5l-2 1M340 335l-4 2l-4 0l-3-2l-2-4l1-3l2-3l4 1l4 2l1 4l1 3M70 429l-1-4l7-8l11-6l10-6l3 3l1 4l-8 7l-10 6l-8 4l-5 0M183 132l3 0l4 3l3 5l2 6l-3 2l-4 2l-4-5l-3-5l0-5l2-3M217 121l2 1l3 4l2 5l1 7l-3 1l-3 1l-3-6l-1-6l-1-5l3-2M350 79l3 3l1 5l-3 5l-4 3l-4 2l-2-4l-2-5l3-5l4-5l4 1M374 197l0 4l-3 4l-3 4l-5 3l-2-3l0-3l1-3l4-4l4-2l4 0M429 153l1 3l-5 6l-6 6l-7 4l-6 1l1-5l5-7l7-7l8-4l2 3M181 183l4 0l5 1l3 6l2 5l-2 3l-3 0l-4-2l-5-5l-3-6l3-2M182 80l3 2l4 4l3 7l1 6l-2 2l-4 0l-3-6l-3-6l-1-5l2-4M460 435l-4 1l-5-2l-5-3l-1-4l-2-4l4-2l5 2l5 4l3 4l0 4M233 417l-2-4l0-4l1-5l3-4l3 0l3 2l0 5l-1 4l-3 4l-4 2M269 183l3 0l1 4l0 5l-1 4l-2 0l-3 0l-1-4l0-5l1-3l2-1M483 156l1 3l-3 5l-5 3l-6 2l-5-1l2-5l4-4l5-3l5-2l2 2M301 49l4 1l0 7l-1 5l-2 5l-4 2l-2-4l-3-4l2-6l3-3l3-3M201 148l3-3l4 7l4 7l1 7l-1 5l-4-2l-4-6l-4-7l-1-6l2-2M377 354l-4 1l-4 1l-6-4l-3-4l0-3l3-3l6 1l4 4l5 4l-1 3M86 211l2-2l6 1l5 2l4 3l0 3l-3 2l-5 0l-4-3l-4-3l-1-3M275 507l-3-1l-1-6l-1-5l1-6l4 0l3 1l2 5l1 6l-2 5l-4 1M330 424l-3 0l-2-4l-3-3l0-5l2-2l3 0l3 3l2 5l0 4l-2 2M463 237l-2 3l-3 3l-7 2l-5-1l-2-2l1-3l5-2l6-3l5 1l2 2M238 182l4 1l3 4l2 6l-2 4l-2 4l-4-1l-3-4l-2-5l1-5l3-4M241 223l3 0l3 2l1 3l0 4l-2 2l-3 0l-3-2l-1-4l0-4l2-1M47 204l3-2l5-1l5 2l3 4l2 4l-4 2l-5 1l-6-2l-3-4l0-4M260 516l-3-4l-2-4l1-6l2-5l3-1l4 1l2 5l0 7l-3 4l-4 3M159 508l-1-3l0-6l4-5l3-4l3 0l2 3l0 5l-3 5l-4 2l-4 3M413 194l0 3l-4 4l-4 3l-5 1l-3 0l1-4l3-4l4-3l5-2l3 2M405 186l0 3l-2 4l-5 3l-4 2l-3-2l-1-2l3-4l5-4l4 0l3 0M408 214l0 4l-3 6l-7 3l-6 0l-6 0l0-5l6-5l6-3l6-1l4 1M503 242l-1 4l-5 3l-5 2l-5-2l-2-3l-1-4l5-4l6 0l6 1l2 3M135 363l0-4l4-4l4-3l6-1l2 3l0 4l-3 4l-5 3l-5 0l-3-2M361 57l1 4l1 6l-4 7l-3 4l-3 1l-2-2l0-6l3-7l4-5l3-2M238 263l1 1M246 264l1 0M309 299l1-1M310 298l10 3M321 302l-2 3M312 307l6-2M262 344l1-1M232 297l-1 5M237 298l-1 2M237 292l-1 0M251 263l-4 1M252 260l3-1M249 254l1 4M297 292l0 1M238 277l7 0M248 270l1 0M248 270l-4 1M246 264l2 6M251 263l1 2M249 270l3-5M312 288l2 2M312 294l0 0M309 285l1 0M314 291l0-1M300 289l5 0M298 291l7 2M297 292l1-1M312 307l0 4M319 305l1 1M312 311l8-5M289 322l-4-4M289 324l-2 3M287 327l-5-8M274 319l-2 4M274 324l3 0M279 320l1-1M279 330l-2-3M279 330l2 0M287 332l6 4M238 310l0 2M238 312l-2 1M236 315l1 2M218 279l-1 4M231 254l7 0M226 274l1-1M226 274l-6-2M228 271l0-3M233 268l2 2M239 273l0-3M238 277l0 0M238 277l4-4M235 278l0-1M233 284l-2 0M231 284l-2 4M236 292l-7-4M237 292l0 0M240 286l-3-2M234 283l-1 1M226 276l1 0M218 279l4 2M241 299l-1 0M247 297l-4 2M237 292l3 1M237 308l2-3M323 281l-5 0M318 281l1-8M314 265l-6-1M305 255l8 2M308 262l-6-1M245 247l3 0M255 249l-1 0M248 241l0 0M304 305l-3-1M272 309l0-6M275 305l-3-2M274 310l3-3M285 318l0-3M280 319l0-5M280 314l1-3M285 315l3 0M296 293l1 0M296 302l-2-6M289 291l-1 0M290 298l-2-3M273 288l1-4M273 288l-2 2M273 284l1 0M270 289l1 1M276 292l1 0M275 281l-2-2M269 280l4-1M270 270l2-2M277 274l-4 1M272 268l5 0M273 275l0 4M296 322l-1 1M305 316l1-3M276 344l-2-4M271 337l4-4M269 324l-2-1M267 323l0 0M275 327l-2 4M273 324l0 7M270 331l2 0M269 324l3-1M245 323l-3 2M245 309l1 0M262 331l0 0M225 265l1-2M225 265l-4 2M221 267l0 0M270 296l2 1M302 282l-4-5M306 280l0-6M297 268l3 3M301 270l-1 1M298 277l0 0M296 274l-1-1M292 267l-2-1M287 271l1-1M288 270l0-1M288 279l4-3M296 276l-4 0M270 264l0 0M266 266l4-2M270 260l-7 0M263 260l-1 2M270 264l-8-2M263 254l-1-1M280 258l-1 0M290 316l2-3M304 318l-2 0M301 321l-2 1M295 318l4-1M288 308l1 0M298 306l3-2M268 310l-1 0M268 310l4-1M272 303l0 0M243 284l5-3M255 272l5 4M253 265l7 0M294 303l-2-3M290 304l0-1M286 301l4 2M295 292l-3-8M290 287l2-3M296 281l-4 2M280 303l-3-2M275 305l2-4M277 301l0 0M282 299l2 0M282 299l-3-2M285 298l-2-4M279 296l0 1M280 307l2 2M281 301l1-2M277 301l0-2M288 291l-1-1M299 323l3 6M298 330l0 0M272 316l-3-3M268 310l1 3M261 304l2 6M259 311l-3-1M255 337l2-1M253 336l3-5M256 331l2 0M263 322l-2 2M262 331l-3 0M261 324l-3 3M256 324l0 1M235 327l0 2M265 300l6 1M265 300l-2 2M266 297l2-1M270 296l-2 0M267 308l-1-4M266 297l-3-1M258 292l0 0M263 285l2 1M265 290l0 1M265 290l1-3M253 286l0-4M253 286l5 6M257 282l1 10M260 282l-1-1M269 291l-4-1M254 308l0 1M254 309l-7 0M307 274l-1-3M308 264l0 3M316 268l-3 1M293 261l4 3M302 261l-6-3M296 258l0 0M300 264l-3 0M291 254l5 4M292 267l5-3M298 254l-2 4M286 260l-2-4M285 256l-1 0M274 260l-2-2M273 256l-1 2M274 249l0 0M279 248l-3-4M284 243l1-3M305 310l1 3M304 311l0-1M298 306l1 3M247 297l2 0M249 297l2 1M243 293l0-2M243 290l-3-4M240 286l3-1M248 286l-3 1M243 290l2-2M243 291l5-1M254 295l-3 3M262 275l6 4M261 267l1 8M289 284l-5 1M283 281l0 3M284 285l-1-1M283 284l0 0M290 287l-1-3M298 278l-8 2M286 335l-2 1M322 292l3-4M273 318l-1-1M274 319l-1-1M320 317l0-4M249 318l0 0M247 320l-2 0M244 315l1 1M247 320l2-2M249 313l-2 2M256 313l-4 2M247 327l0-3M250 327l1-5M249 322l2 0M245 323l2 1M247 320l2 2M255 331l-2 1M253 328l-2-1M255 326l-2 2M253 336l-1-3M261 296l1 6M257 294l1 0M307 274l6-4M294 243l-6 1M285 240l4 1M262 253l4-7M284 250l0-1M284 243l3 2M297 309l0 0M297 309l1 4M293 311l3 2M296 307l1 2M299 309l-2 0M299 313l-1 0M267 316l-4 2M252 315l0 1M250 328l-1 2M252 336l-1-2M261 245l0-1M260 240l0 0M266 246l4-1M265 242l6 2M274 249l-3 2M273 254l0 0M253 316l4-1M255 321l1 1M271 244l0-2M265 253l7 1M264 254l1-1" stroke="#9ce49e"/></g><path d="M209.0 139.9h1M105.7 71.2h1M86.6 119.4h1M158.1 110.6h1M248.4 115.3h1M140.0 212.8h1M175.3 43.2h1M112.5 259.1h1M150.0 201.5h1M239.4 93.9h1M120.1 230.1h1M47.6 126.0h1M85.2 70.3h1M213.9 169.2h1M231.2 109.7h1M116.5 144.0h1M109.7 80.8h1M236.1 111.4h1M244.1 103.8h1M118.7 68.7h1M157.9 180.8h1M119.4 49.1h1M194.0 58.9h1M154.0 194.4h1M183.0 200.7h1M68.7 165.3h1M80.2 210.9h1M152.7 178.5h1M107.2 226.4h1M221.6 205.3h1M177.7 214.4h1M71.3 117.3h1M144.3 203.9h1M196.7 204.5h1M127.4 168.4h1M87.7 154.1h1M61.3 115.0h1M158.0 198.5h1M38.2 133.1h1M187.6 93.9h1M160.8 58.9h1M196.4 181.7h1M163.0 133.8h1M126.1 94.9h1M67.2 108.6h1M86.9 159.9h1M118.6 65.5h1M106.7 237.4h1M37.7 118.3h1M175.2 35.4h1M92.3 151.7h1M190.4 114.2h1M174.8 249.6h1M151.0 67.1h1M58.7 228.4h1M95.8 218.7h1M99.0 153.9h1M112.2 222.4h1M98.5 236.9h1M184.4 232.2h1M213.1 224.7h1M122.7 246.0h1M40.2 172.3h1M54.4 198.0h1M85.9 133.8h1M37.6 92.5h1M96.0 122.1h1M111.7 211.2h1M54.5 126.2h1M46.6 83.9h1M84.8 109.0h1M191.6 239.7h1M145.8 162.8h1M154.5 38.1h1M207.8 208.4h1M127.8 262.9h1M72.4 140.9h1M67.0 176.5h1M145.8 260.8h1M231.1 200.6h1M144.2 58.6h1M44.4 98.3h1M55.0 75.5h1M185.4 215.1h1M180.7 181.9h1M219.7 218.0h1M120.8 64.2h1M206.5 228.9h1M238.1 189.4h1M126.3 46.6h1M139.7 96.3h1M212.9 232.2h1M229.0 153.1h1M19.3 137.7h1M109.7 155.4h1M202.4 173.2h1M128.1 141.8h1M200.0 71.8h1M231.4 187.3h1M198.3 157.7h1M213.9 116.9h1M167.1 225.4h1M84.7 77.0h1M207.9 177.8h1M39.0 164.5h1M103.0 166.7h1M163.9 222.9h1M211.9 99.5h1M114.7 188.6h1M116.9 252.7h1M96.2 57.4h1M115.5 244.5h1M124.4 211.4h1M210.1 74.0h1M181.4 201.2h1M157.2 228.6h1M47.3 139.4h1M216.7 205.0h1M80.6 218.4h1M233.1 81.5h1M69.3 161.0h1M104.7 94.6h1M170.9 147.9h1M106.3 86.3h1M98.3 37.7h1M105.0 39.4h1M93.8 157.3h1M106.6 233.1h1M173.8 83.3h1M184.6 104.3h1M146.7 183.6h1M81.5 92.5h1M38.9 100.6h1M197.7 157.3h1M83.3 155.9h1M208.4 199.7h1M145.5 135.4h1M151.5 164.3h1M103.6 177.8h1M112.6 121.8h1M231.6 132.8h1M161.9 33.3h1M161.9 254.1h1M143.6 244.9h1M77.5 153.2h1M174.9 210.7h1M74.0 103.7h1M110.0 233.3h1M215.4 103.3h1M40.8 138.3h1M198.1 197.6h1M103.2 189.8h1M195.7 73.3h1M133.6 206.2h1M173.9 163.3h1M133.8 146.2h1M65.1 215.7h1M119.5 57.3h1M141.3 72.7h1M188.3 164.6h1M119.7 148.0h1M50.5 78.5h1M231.0 196.2h1M188.9 63.4h1M115.7 165.6h1M46.5 100.1h1M66.0 106.7h1M90.8 229.1h1M150.8 139.5h1M168.6 98.3h1M221.2 78.7h1M162.9 254.2h1M146.7 53.5h1M208.2 171.6h1M53.3 137.5h1M58.3 210.2h1M102.3 148.1h1M121.9 139.0h1M111.5 112.3h1M206.7 90.7h1M140.3 92.6h1M133.0 170.3h1M201.7 182.6h1M123.5 209.1h1M131.3 246.4h1M89.7 110.6h1M229.9 156.4h1M47.6 192.1h1M142.1 258.8h1M41.0 84.2h1M231.6 92.8h1M74.6 83.9h1M184.6 222.2h1M131.7 227.7h1M147.6 66.6h1M212.0 180.5h1M173.8 93.6h1M220.2 84.2h1M188.5 175.9h1M119.0 165.1h1M117.7 239.5h1M213.1 155.8h1M195.7 90.7h1M85.4 180.8h1M28.8 103.0h1M175.4 71.0h1M67.0 206.2h1M135.3 217.3h1M79.1 153.3h1M59.7 133.2h1M201.7 218.8h1M73.1 127.2h1M73.2 206.0h1M173.0 173.8h1M100.8 175.2h1M37.5 81.0h1M179.5 58.6h1M155.8 99.4h1M105.3 106.4h1M198.5 239.5h1M36.5 82.8h1M195.6 168.1h1M31.6 91.7h1M220.4 146.6h1M121.8 93.4h1M132.5 262.4h1M166.8 186.1h1M178.1 88.6h1M185.3 168.1h1M245.6 177.0h1M205.5 218.9h1M117.4 37.1h1M134.1 165.4h1M187.7 184.9h1M79.6 248.0h1M86.8 105.6h1M191.5 109.7h1M81.2 239.4h1M188.4 198.6h1M130.4 141.2h1M84.7 54.9h1M140.3 121.0h1M171.3 103.4h1M48.7 130.7h1M137.1 149.2h1M185.4 216.8h1M200.4 192.3h1M157.1 65.7h1M146.7 246.1h1M205.5 94.7h1M176.2 117.1h1M59.4 105.2h1M209.8 138.4h1M139.2 94.6h1M206.2 226.0h1M145.9 194.6h1M80.4 89.6h1M201.9 158.8h1M145.3 261.2h1M117.3 50.9h1M118.9 218.6h1M170.7 233.9h1M114.6 258.7h1M95.9 201.8h1M226.6 181.2h1M138.1 179.4h1M100.8 129.1h1M54.7 106.9h1M187.5 158.1h1M225.2 105.9h1M150.6 120.4h1M161.5 61.7h1M220.0 182.1h1M25.7 175.6h1M31.0 170.5h1M106.7 38.2h1M113.1 171.2h1M194.4 236.6h1M166.1 184.6h1M184.8 222.6h1M159.1 150.0h1M216.0 178.1h1M107.3 97.3h1M35.2 157.3h1M154.6 231.4h1M189.6 236.1h1M122.2 248.8h1M32.5 106.3h1M96.8 171.3h1M215.4 167.2h1M54.1 145.7h1M88.4 70.8h1M40.4 111.6h1M215.4 107.1h1M180.1 170.1h1M31.7 192.5h1M46.5 164.7h1M212.9 67.6h1M193.7 239.7h1M156.4 254.0h1M96.1 40.3h1M189.1 184.7h1M69.4 122.3h1M113.9 261.8h1M82.9 78.2h1M152.3 234.2h1M82.5 128.3h1M220.5 88.2h1M106.6 78.3h1M95.3 201.7h1M97.5 179.0h1M139.9 84.7h1M232.0 179.2h1M39.7 101.6h1M125.1 219.0h1M108.8 144.9h1M105.7 206.1h1M114.9 143.1h1M131.6 195.8h1M236.0 141.5h1M134.6 92.3h1M162.7 148.5h1M145.3 218.8h1M229.8 115.5h1M29.5 170.6h1M171.1 179.4h1M228.6 174.4h1M238.7 174.4h1M192.6 52.6h1M156.3 117.4h1M54.8 185.6h1M157.3 122.3h1M136.1 166.4h1M67.2 154.8h1M165.8 167.8h1M160.3 91.7h1M123.8 140.5h1M153.7 76.4h1M147.8 60.4h1M45.1 117.4h1M71.2 135.8h1M149.4 253.2h1M40.6 148.8h1M138.6 97.7h1M224.2 192.7h1M125.9 186.1h1M152.7 182.2h1M52.1 86.7h1M196.7 85.2h1M192.4 206.4h1M82.0 251.2h1M219.2 106.5h1M192.4 76.8h1M214.8 186.1h1M27.3 101.1h1M101.5 224.6h1M160.1 168.6h1M102.9 178.3h1M191.3 159.8h1M204.0 104.8h1M80.4 100.4h1M182.0 114.1h1M49.3 147.3h1M40.8 190.9h1M220.0 200.2h1M74.1 210.7h1M70.8 96.8h1M63.4 169.8h1M150.9 107.4h1M166.3 146.2h1M153.5 47.9h1M225.8 142.1h1M19.8 141.2h1M138.2 159.2h1M177.1 166.9h1M81.9 158.3h1M211.4 68.0h1M113.5 157.6h1M91.0 119.3h1M69.4 211.6h1M197.8 219.2h1M36.1 167.3h1M137.2 139.2h1M93.9 224.8h1M101.8 234.9h1M135.2 122.5h1M235.2 184.0h1M38.8 91.4h1M198.8 50.5h1M93.7 62.1h1M94.2 159.2h1M190.9 213.5h1M204.6 113.8h1M59.5 199.5h1M107.4 154.4h1M176.1 252.9h1M189.5 61.0h1M190.9 232.0h1M174.4 140.5h1M124.2 90.9h1M155.3 222.6h1M93.9 129.4h1M22.9 141.2h1M173.5 152.2h1M164.7 35.5h1M77.2 98.5h1M186.2 134.4h1M105.8 242.3h1M230.5 95.2h1M40.5 206.6h1M150.8 80.0h1M178.0 88.6h1M74.8 164.8h1M99.4 141.6h1M106.6 51.8h1M56.1 174.0h1M201.2 68.4h1M111.0 36.6h1M135.1 29.2h1M194.5 102.0h1M243.5 159.2h1M146.4 262.7h1M108.3 215.5h1M114.9 111.0h1M190.1 141.1h1M50.6 85.4h1M211.6 225.2h1M125.7 108.1h1M124.6 128.7h1M111.2 233.6h1M49.2 162.2h1M98.2 60.3h1M111.7 244.8h1M196.7 59.7h1M30.5 141.4h1M45.4 164.0h1M135.3 156.5h1M165.0 96.8h1M223.0 115.6h1M219.4 126.2h1M65.5 198.5h1M163.7 33.6h1M48.3 166.6h1M207.5 168.7h1M166.8 128.3h1M127.4 144.0h1M91.5 162.6h1M60.3 140.9h1M89.0 110.9h1M211.6 187.0h1M177.9 187.3h1M80.1 194.8h1M44.9 204.7h1M98.4 160.2h1M222.0 211.0h1M133.7 90.9h1M215.6 161.0h1M104.9 195.3h1M93.0 97.2h1M156.7 143.3h1M44.1 124.9h1M197.4 81.0h1M234.2 119.5h1M155.8 145.3h1M87.5 62.5h1M143.8 257.4h1M99.6 57.9h1M200.9 166.2h1M166.0 77.1h1M46.1 93.3h1M139.4 71.5h1M89.5 231.7h1M145.8 185.8h1M192.3 157.7h1M225.4 158.3h1M196.5 65.5h1M202.9 54.3h1M62.4 145.6h1M117.0 160.2h1M120.1 139.3h1M96.9 126.2h1M167.9 184.5h1M220.1 107.1h1M67.2 71.0h1M202.0 73.5h1M225.0 70.8h1M153.4 161.4h1M196.4 202.8h1M74.6 104.8h1M222.7 148.2h1M85.4 124.6h1M137.4 201.8h1M116.4 243.0h1M189.8 106.3h1M221.5 186.5h1M69.9 243.7h1M64.7 142.7h1M72.5 80.4h1M241.2 100.6h1M154.1 123.5h1M202.0 125.5h1M72.6 240.9h1M128.9 65.3h1M37.7 131.8h1M173.8 68.5h1M99.3 170.2h1M35.8 97.3h1M91.1 221.4h1M225.6 190.9h1M70.7 51.4h1M164.5 125.6h1M50.2 177.6h1M165.5 222.7h1M209.7 218.9h1M94.7 53.9h1M189.1 47.8h1M120.5 234.1h1M72.8 197.3h1M58.6 93.3h1M208.6 103.4h1" stroke="#c8f0c0" stroke-width="1" opacity="0.8"/></g></g>
<text x="24.4" y="43" font-size="14" text-anchor="start" fill="#000" >C-NCM</text>
<rect x="50.5" y="102.5" width="38.5" height="38" fill="none" stroke="#18e6ee" stroke-width="2" stroke-dasharray="6.5 4.5"/>
<line x1="89" y1="121" x2="266" y2="83.6" stroke="#18e6ee" stroke-width="2" stroke-dasharray="7 5"/>
<path d="M272.5 82.2 L265 79 L266.8 86.6 Z" fill="#18e6ee"/>
<rect x="123" y="218" width="37" height="38" fill="none" stroke="#f47a46" stroke-width="1.7" stroke-dasharray="6 5"/>
<line x1="160.5" y1="235.5" x2="266" y2="215.6" stroke="#f47a46" stroke-width="1.8" stroke-dasharray="6.5 5.5"/>
<path d="M272.5 214 L265 211.4 L266.4 218.6 Z" fill="#f47a46"/>
<rect x="207" y="266.3" width="44" height="3.6" fill="#000"/>
<text x="228.2" y="262.7" font-size="14.8" text-anchor="middle" fill="#000" >2 μm</text>
<clipPath id="cl11"><rect x="273" y="29" width="105" height="105"/></clipPath><rect x="273" y="29" width="105" height="105" fill="#000"/><g clip-path="url(#cl11)"><g transform="scale(0.5)" fill="none" stroke-width="2.2" stroke-linejoin="round"><path d="M596 84l5 3l6 2l5 3l6 2l5 3l6 2l7 0l4 4l6 2M617 107l5 4l6 1l6 2l5 2l6 3l5 2l5 4l5 4l5 2l5 4M679 157l5 3l7 0l5 2l6 2l6 1M602 139l4 5l7 0l5 3l5 3l6 1M562 162l5 3l5 3l6 1l5 3l6 2l6 2l6 1l6 2l5 3l6 0l6 2l6 1l5 2M635 187l7 0l5 2l6 2l6 2l6 1l5 2l6 2l6 2l6 1M688 201l5 2l6 3l6 1l5 2l6 2M566 250l6-1l6 1l6 0l6 0l6 1l6 1M567 270l6-1l6-1l6 2l6-1l6 2l6 1l6 0l6 1l5 2l6 1l6 1l6 0M736 51l-1 3l0 4M676 68l3 5l1 6M545 77l-4 14l-1 10M676 137l-8 7l-6 7M589 174l-4 6l2 3M700 94l0-1l1 2M729 119l-1-2l-3-7M701 95l0 4l3 12M739 96l-1-5l2-4M735 72l3 8l2 7M705 123l-5 5l-5 7M740 87l10 2l6-1" stroke="#e4703c"/><path d="M674 42l5 3l6 2l5 4l5 4l5 3l5 3l6 2l4 5l6 2l4 4l5 3M592 48l6 2l4 4l6 2l5 3l6 2l4 4l6 2l5 3M606 70l5 3l5 3l5 3l5 3l6 3l5 3l5 3l5 3l5 3l6 1l5 5l6 2l5 3M533 74l6 1l6 2l6 2l5 2l5 3l7 1l4 4l6 2M578 119l5 2l6 2l6 1l5 3l7 1l4 4l7 0M618 132l6 2l5 2l5 4l6 1l6 3M540 115l6 1l6 3l5 2M629 151l6 2l5 3l6 2l6 1M528 129l6 3l5 2l6 2l5 3l6 1l6 3l5 3l5 4l5 2l7 1l4 5M661 185l6 1l6 2l5 2l6 2l6 1l5 3M716 211l6 2l5 2l6 1l6 2M570 177l6 2l5 2l6 2l5 3l6 1l6 1l6 1l6 3l5 1l6 1l5 4l7 0M544 182l6 3l6-1l6 1l6 0l6 2l6 1l6 2l6 1l5 1l6 2l6 3l5 2M614 199l6 1l6 3l6 1M632 204l5 2l6 0l6 3l6 0l6 1l6 2M737 262l5 1l6 3l6 2l6 1M609 237l6 2l6 0l6 1l6 2l5 2l6 1l6 2l6 1M531 267l6 1l5 2l7-2l6 1l6 1l6 0M704 112l-15 2l-11 2" stroke="#22d4e4"/><path d="M720 48l6 1l4 5l5 4l5 2l5 4l4 5M633 35l5 3l5 4l4 4l5 4l4 4l5 4l5 3l5 3l5 4M621 38l5 3l5 3l5 4l6 3l5 3l4 3l6 2l6 3l4 4l5 4l4 5M634 70l6 2l4 5l6 2l6 2l5 3l6 2l5 3l6 1l5 3l6 3l5 3l5 3l6 2M585 58l5 3l6 2l4 4l6 3M535 58l6 2l6 2l6 2l5 2l6 3l5 2M569 71l6 2l6 1l4 5l6 2l5 3M646 105l5 3l6 2l5 4l5 2l5 3l6 3l6 2l4 4M578 91l5 3l6 2l5 3l6 2l6 2l5 2l6 2M718 160l5 3l6 3l5 2l5 5l5 2l5 3l5 3l5 5l6 2l6 1l4 4l5 3M517 93l6 2l6 1l5 2l6 3l5 2l6 3l5 3l5 3l6 2l6 2l5 3M646 144l5 2l5 3l6 2l5 3l7 0l5 3M708 165l5 4l5 3l6 2l6 1l5 5l5 2l5 3l6 2M557 121l6 1l6 3l5 2M574 127l5 4l6 1l5 4l6 1l6 2M652 159l6 2l5 2l6 2l6 1l5 3M680 169l6 2l6 2l5 2l6 2l6 0l5 4l6 1l6 3l6 1l5 2M633 176l6 1l5 2l6 2l6 1l5 3M695 196l6 2l6 3l6 1l6 0l5 2l6 2l6 1l6 1l6 1M748 209l6 3l6 0l5 3l6 1M515 152l5 4l7-1l5 4l5 2l6 1l5 4l5 4l6 2l6 1l5 4M662 204l6 2l6 1l6 0l6 2M686 209l6 1l6 1l5 2M703 213l6 2l6 1l5 4l6-1l6 3l5 4l6 1l6 0l6 3l5 2l6 1l5 3l6 2M711 230l6 2l5 4l6 3l5 2l6 1l6 2l6 2l5 2M547 200l5 4l6 0l5 3l7 1l5 3l6 1l6 2l6 0l6 0l6 1l5 3M610 218l7 0l6 0l5 3l6 0l6 2M640 223l6 1l5 4l6 1l6-1l6 2l6 1M675 231l6 2l7-3l5 3l6 2l6 0l6 3l5 2l6 2M722 242l6 1l5 3l6 1l6 2l6 0M534 207l6 1l6 1l6 0M552 209l6 0l6 1l6 0l6 2l6 1l6 2M588 215l5 1l7 0l5 4l5 2l7 0l5 3l6 2l6 1l5 3l6 2l6 1M651 234l5 2l6 2l6 0l6 3l6 2l6 1M686 244l5 2l6 2l6 1l5 3l6 1l6 2l5 3l6 2l6 2M585 232l7 0l5 2l7 0l5 3M656 248l6-1l6 0l6 3l6 1l6 0l5 2l6 1l6 2l6 2M709 258l5 2l6 2l6 2l6 2l5 3l6-1l6 2l6 3l5 2l6 0l6 2l6 1M602 252l6 1l6 0l6 1l6 2l6 0l6 2l6 2l5 1l6 0l6 1l6 3l6-1M673 264l6 0l6 1l6 2l6 2l6 0l6 2l5 1l6 2l6 2l6 1M749 49l1 10l-1 4M730 54l-2 10l-3 10M711 63l-4 12l1 10M642 51l-3 9l-5 10M640 72l-4 4l-10 6M564 47l-13 6l-10 7M600 67l-5 6l1 11M652 97l-1 3l0 8M564 69l0 7l4 9M618 94l-5 5l-2 6M628 112l-3 9l-1 13M749 178l-1 4l-3 3M551 106l4 9l2 6M640 141l-2 8l2 7M708 165l1 10l5 6M585 132l1 12l2 14M646 158l-2 12l0 9M720 182l-10 10l-9 6M584 153l-4 11l3 8M644 179l-6 5l-3 3M690 193l-3 2l-5 5M742 208l4 6l-1 5M556 160l-1 6l-2 4M647 189l2 9l1 5M739 218l-5 1l-2 3M548 166l2 10l6 8M587 183l-1 4l0 3M639 198l1 5l-3 3M709 215l-7 5l-7 2M766 233l-7 7l-8 6M586 190l-9 8l-7 10M620 200l2 11l6 10M689 221l-5 4l-9 6M605 215l-8 0l-4 1M681 233l-2 3l-11 2M757 250l-6 7l-9 6M564 210l1 10l9 10M617 222l0 7l-2 10M703 249l-3 4l-9 0M760 269l-5-1l-6 2M568 229l-4 9l-4 9M633 242l-7 9l-6 3M709 258l-2 7l2 6M608 253l3 12l4 8M758 164l4-7l-1-7M731 155l13-6l15-13M731 155l-8-4l-8 0M721 139l-3 7l-3 5M721 139l10-6l8-7M739 126l10 3l11 0M760 129l0 2l-1 5M736 172l0-11l-5-6M761 150l-2-11l0-3M692 161l14-6l9-4M764 124l0 0l-4 5M731 66l-7 15l-6 13M718 94l-9 0l-8 1M764 124l1 0l-1 0M726 101l0 3l-1 6M726 101l7-2l6-3M739 126l-4-4l-6-3M739 96l17 13l8 15M721 139l-3-7l-7-7M729 119l-8 4l-10 2M726 101l-1-7l-7 0M725 110l-11 0l-10 1M704 112l1 6l0 5M678 116l5 7l12 12M711 125l-3-2l-3 0M704 111l-2 0l2 1M692 161l-2-15l5-11M767 94l-2-2l-9-4M756 88l1-6l-4-4M764 124l-1-13l4-17" stroke="#86e886"/></g></g>
<clipPath id="cl12"><rect x="273" y="160" width="105" height="106"/></clipPath><rect x="273" y="160" width="105" height="106" fill="#000"/><g clip-path="url(#cl12)"><g transform="scale(0.5)" fill="none" stroke-width="2.2" stroke-linejoin="round"><path d="M764 475l-1 6l-1 5l-2 6l-2 6l0 6l-1 6l-2 6l-1 6l-2 5M710 331l1 6l-3 6l-1 6l0 6l-1 6l-3 5l-1 6l-1 6l-2 6l-4 5l-1 6l-3 6l-1 6M696 286l-1 6l0 6l0 6l0 6l1 6l0 6l0 7l0 6l-1 5l0 7l-4 5l-1 6M670 360l1 7l-1 6l1 6l-2 6l-1 6l1 6l-1 6M627 487l-3 6l-2 5l-2 6M620 504l-1 6l-2 6l-1 6l-2 5l0 6l-3 6l-1 6l-2 6l0 6M650 296l-2 6l1 6l-5 5l1 6l-2 6l-2 6l-1 6M602 403l-2 6l1 6l-1 6l0 6l-1 6l0 6l-1 6l-2 6l0 6l-2 6M594 463l0 6l-1 6l-1 6l1 6M603 397l-3 6l-1 6l0 6l-2 6l-2 5M595 426l-2 6l0 6l-2 6l0 6l-1 6l-2 6M588 462l-1 6l1 6l-3 6l-1 6l-1 5l-1 6l-3 6l-2 6l-2 5l-2 6M594 335l1 6l0 6l-3 6l0 6l-1 6M572 465l-2 6l-4 5l-2 6l-1 6l-1 6l-2 5l-2 6l0 6l-2 6l0 6l-3 6l1 6M590 298l-1 6l-1 5l-2 6l-4 6l-1 6l-3 5l-3 6l-1 6l-2 5l-2 6l-3 6M567 361l-1 6l-1 6l-2 5l-1 6l0 6l-2 6l-1 6l-1 6M561 341l-2 6l-3 6l-1 6l-2 5l-2 6M551 370l-3 6l0 6l-2 5M545 326l0 6l-2 6l-1 6l-1 6l-2 6l0 6l-2 5M767 378l-9 0l-10 2M730 529l-7 2l-8 2M762 340l-5-3l-7 1M672 531l-9-2l-12-1M566 324l-13-4l-7-6M729 426l1-6l5-5M731 439l0-2l2 5M678 471l1 4l2-3" stroke="#e4703c"/><path d="M654 443l-1 6l-2 6l2 6l-3 6l-2 5l-1 6l-2 6l-1 6l-2 6l-5 5l-1 6l-3 5l0 6M637 452l-2 6l-3 6l-1 5l-1 6l-3 6l0 6M617 436l1 7l0 6l0 6l0 6M624 328l-1 6l0 6l-2 6l-3 5l-2 6l-1 6l-3 6l-2 5l-4 6l-1 6l-2 5l0 6l-1 6M553 456l1 6l-1 6l-1 6l-2 6l1 6l-2 5M546 387l1 7l-2 5l-3 6l0 6l1 6l0 6l0 7l0 6l0 6l0 6l-1 6l-1 6l1 6M698 447l-2 4l3 5M698 447l18-6l15-2" stroke="#22d4e4"/><path d="M769 372l-2 6l-1 6l-4 5l-1 6l0 6l-3 5l-2 6l-3 6l0 6l-2 6l-1 6l-1 5M745 465l-2 6l-1 6l-1 6l-1 6l-1 5l-3 6l0 6M736 506l-2 6l-3 6l0 6l-1 5l-2 6l0 6l-1 6l-2 6l0 6l-2 6M758 358l-3 5l-3 6l-1 6l-3 5M726 486l-2 6l-2 6l-1 6l-1 6l-1 5l-3 6l1 6M756 303l1 6l-2 6l-1 5l-2 6l-1 6l-1 6l-1 6l-2 6M747 350l-1 6l-3 5l-1 6l-3 6l-1 6l0 6l-1 6M733 329l-1 6l0 6l0 6l0 6l0 6l-3 6l0 6l-3 5l0 6l-3 6l-2 6M699 469l-1 6l-1 6l-2 6l-1 6l-1 6l-1 5l-2 6l-2 6l0 6l-1 6l-1 6l0 6l-3 6M718 302l-2 6l-1 6l-4 5l1 6l-2 6M678 478l-3 5l0 6l-2 6l1 6l-1 6l-2 6l3 7l-1 5l-1 6M690 358l-1 6l0 6l-1 6l0 6l0 6l0 6M669 464l0 6l-3 6l0 6l-2 5l0 6l-5 6l-2 5l-2 6l-2 6l-1 6M671 324l0 6l0 6l-1 6l1 7l0 6l-1 5M661 481l-2 5l0 7l-1 6l-1 5M668 293l0 6l-2 6l-2 6l-2 6l0 6l0 6l-1 6l0 6l0 6M661 347l0 6l0 6l1 6l1 6l0 7l0 6l-1 6l-1 5l0 7l0 6l-3 5l-1 6l-1 6M656 425l-1 6l-3 6l2 6M653 303l-1 6l0 6l2 6l0 6l-1 6l0 6l2 7l-2 5l0 7l2 6l-2 6l0 6l-1 6M652 382l0 6l-1 6l-2 5l-2 6l0 6l-2 6l-1 6l-2 6l-1 6l-2 5l-3 6l1 6M640 337l-3 5l-2 6l-3 6l-1 6M631 360l-4 5l-2 6l-1 6l-2 6l-1 5l-1 6l-1 6l-2 6l-1 6l0 6l0 6l1 6l0 6M618 461l-1 6l1 6l-1 6l-1 6M616 485l-1 6l-1 6l1 6M593 487l2 6l-2 6l1 6l-1 6l2 7l0 6l-1 6l-2 6M591 365l-2 6l-1 5l1 7l-1 6l0 6l-1 6l-1 6l0 6l-1 6M585 419l0 6l-2 5l-1 6l-2 6l-2 6l-2 6l-2 5l-2 6M558 408l-1 6l0 6l0 6l1 6M558 432l-2 6l-1 6l0 6l-2 6M575 289l-2 6l-1 6l-2 5l-1 6l-2 6l-1 6l0 6l-4 5l-1 6M751 375l-6 0l-6-2M749 344l-8 4l-9 5M732 347l-10 2l-15 0M721 394l-11-7l-9-9M675 483l-4-1l-5-6M696 322l-12 6l-13 2M659 499l-3 6l-1 5M649 540l-1-3l0-4M670 360l-4 6l-4-1M665 421l-3-8l-1-5M655 510l-8 1l-14 1M662 317l-4 2l-4 2M661 395l-5-2l-4-5M648 472l-10-1l-6-7M652 382l-16-5l-11-6M632 464l-11 0l-4 3M616 522l0 1l-5-2M622 383l-8 3l-9 0M617 479l-10-6l-13-10M616 357l-3-4l-7-4M599 439l-3 2l-3-3M594 505l-11 3l-6 1M605 361l-4-3l-9-5M591 444l-4-1l-7-1M583 491l-11 5l-12 3M567 537l-8-5l-6-3M589 371l-12-2l-11-2M582 436l-11-1l-13-3M558 505l-5 2l-5 9M565 373l-7 4l-10 5M553 468l-7 0l-5 4M549 510l-7-2l-7-1M555 359l-9 1l-7 2M682 413l0 0l3-1M682 413l7 12l6 18M695 443l-13 10l-12 4M670 457l5 5l3 8M678 470l0 0l0 1M672 481l3-3l3-7M735 398l1 6l-1 11M685 412l23 8l21 6M734 395l1 5l0-2M737 445l3 18l-4 20M710 471l9-12l14-17M710 471l-7-10l-4-5M737 445l-3-6l-1 3M711 476l12 5l13 2M711 476l5 1l-6-6M695 443l6 4l-3 0M678 470l6-6l15-8M729 426l0 6l2 7M694 487l-11-8l-2-7M694 487l8-1l4-3M681 472l16 4l13 1M706 483l3-7l1 1M686 495l3-4l5-4M711 476l0 0l-1 1" stroke="#86e886"/></g></g>
<text x="310.9" y="45.2" font-size="14.8" text-anchor="start" fill="#fff" style="font-weight:normal" stroke="#fff" stroke-width="0.35">Line 1</text>
<text x="314.9" y="99.9" font-size="14.8" text-anchor="start" fill="#fff" style="font-weight:normal" stroke="#fff" stroke-width="0.35">Line 2</text>
<text x="297.4" y="185.4" font-size="14.8" text-anchor="start" fill="#fff" style="font-weight:normal" stroke="#fff" stroke-width="0.35">Line 1</text>
<text x="327.3" y="260.6" font-size="14.8" text-anchor="start" fill="#fff" style="font-weight:normal" stroke="#fff" stroke-width="0.35">Line 2</text>
<line x1="354.9" y1="47.2" x2="368.1" y2="44.9" stroke="#fff" stroke-width="1.8"/>
<path d="M374.5 43.8 L368.7 48.5 L367.5 41.4 Z" fill="#fff"/>
<line x1="331.6" y1="85.7" x2="337.2" y2="74.8" stroke="#fff" stroke-width="1.8"/>
<path d="M340.1 69 L340.4 76.4 L333.9 73.2 Z" fill="#fff"/>
<line x1="306" y1="194" x2="316.0" y2="194.0" stroke="#fff" stroke-width="1.8"/>
<path d="M322.5 194 L316.0 197.6 L316.0 190.4 Z" fill="#fff"/>
<line x1="340.6" y1="244.7" x2="355.1" y2="236.0" stroke="#fff" stroke-width="1.8"/>
<path d="M360.7 232.7 L357.0 239.1 L353.3 232.9 Z" fill="#fff"/>
<line x1="50.3" y1="291.7" x2="85.3" y2="291.7" stroke="#f07a4c" stroke-width="3.2"/>
<text x="93" y="297.2" font-size="14.5" text-anchor="start" fill="#000" >LAGB</text>
<line x1="139.4" y1="291.7" x2="174.9" y2="291.7" stroke="#1de6f0" stroke-width="3.2"/>
<text x="182.2" y="297.2" font-size="14.5" text-anchor="start" fill="#000" >TB</text>
<line x1="209.4" y1="291.7" x2="244.9" y2="291.7" stroke="#90ee90" stroke-width="3.2"/>
<text x="252.3" y="297.2" font-size="14.5" text-anchor="start" fill="#000" >General HAGB</text>
<line x1="430.5" y1="33.2" x2="685.5" y2="33.2" stroke="#c8c8c8" stroke-width="1.2"/>
<line x1="685.5" y1="33.2" x2="685.5" y2="116" stroke="#e0e0e0" stroke-width="1"/>
<line x1="430.5" y1="32.6" x2="430.5" y2="116.6" stroke="#333" stroke-width="1.3"/>
<line x1="430.5" y1="116" x2="685.5" y2="116" stroke="#333" stroke-width="1.3"/>
<line x1="427.0" y1="116.0" x2="430.5" y2="116.0" stroke="#333" stroke-width="1"/>
<text x="423.7" y="120.0" font-size="11.5" text-anchor="end" fill="#000" >0</text>
<line x1="427.0" y1="90.5" x2="430.5" y2="90.5" stroke="#333" stroke-width="1"/>
<text x="423.7" y="94.5" font-size="11.5" text-anchor="end" fill="#000" >20</text>
<line x1="427.0" y1="64.9" x2="430.5" y2="64.9" stroke="#333" stroke-width="1"/>
<text x="423.7" y="68.9" font-size="11.5" text-anchor="end" fill="#000" >40</text>
<line x1="427.0" y1="39.4" x2="430.5" y2="39.4" stroke="#333" stroke-width="1"/>
<text x="423.7" y="43.4" font-size="11.5" text-anchor="end" fill="#000" >60</text>
<line x1="428.5" y1="103.2" x2="430.5" y2="103.2" stroke="#333" stroke-width="0.8"/>
<line x1="428.5" y1="77.7" x2="430.5" y2="77.7" stroke="#333" stroke-width="0.8"/>
<line x1="428.5" y1="52.2" x2="430.5" y2="52.2" stroke="#333" stroke-width="0.8"/>
<line x1="430.5" y1="116" x2="430.5" y2="119.5" stroke="#333" stroke-width="1"/>
<text x="430.5" y="132" font-size="11.5" text-anchor="middle" fill="#000" >0.00</text>
<line x1="453.2" y1="116" x2="453.2" y2="118" stroke="#333" stroke-width="0.8"/>
<line x1="476.0" y1="116" x2="476.0" y2="119.5" stroke="#333" stroke-width="1"/>
<text x="476.0" y="132" font-size="11.5" text-anchor="middle" fill="#000" >0.05</text>
<line x1="498.8" y1="116" x2="498.8" y2="118" stroke="#333" stroke-width="0.8"/>
<line x1="521.5" y1="116" x2="521.5" y2="119.5" stroke="#333" stroke-width="1"/>
<text x="521.5" y="132" font-size="11.5" text-anchor="middle" fill="#000" >0.10</text>
<line x1="544.2" y1="116" x2="544.2" y2="118" stroke="#333" stroke-width="0.8"/>
<line x1="567.0" y1="116" x2="567.0" y2="119.5" stroke="#333" stroke-width="1"/>
<text x="567.0" y="132" font-size="11.5" text-anchor="middle" fill="#000" >0.15</text>
<line x1="589.8" y1="116" x2="589.8" y2="118" stroke="#333" stroke-width="0.8"/>
<line x1="612.5" y1="116" x2="612.5" y2="119.5" stroke="#333" stroke-width="1"/>
<text x="612.5" y="132" font-size="11.5" text-anchor="middle" fill="#000" >0.20</text>
<line x1="635.2" y1="116" x2="635.2" y2="118" stroke="#333" stroke-width="0.8"/>
<line x1="658.0" y1="116" x2="658.0" y2="119.5" stroke="#333" stroke-width="1"/>
<text x="658.0" y="132" font-size="11.5" text-anchor="middle" fill="#000" >0.25</text>
<line x1="680.8" y1="116" x2="680.8" y2="118" stroke="#333" stroke-width="0.8"/>
<polyline points="430.5,116.0 494.2,116.0 512.4,39.4 521.5,116.0 630.7,116.0 648.9,39.4 658.0,116.0 685.3,116.0" fill="none" stroke="#18ecf0" stroke-width="1.8" stroke-linejoin="round" />
<polyline points="430.5,116.0 521.5,116.0 539.7,41.3 548.8,116.0 594.3,116.0 603.4,39.4 621.6,116.0 685.3,116.0" fill="none" stroke="#18ecf0" stroke-width="1.8" stroke-linejoin="round" stroke-dasharray="7 3 2 3"/>
<line x1="430.5" y1="116" x2="685.5" y2="116" stroke="#24605f" stroke-width="1.4" opacity="0.75"/>
<line x1="437" y1="42.7" x2="464.5" y2="42.7" stroke="#18ecf0" stroke-width="1.8"/>
<line x1="437" y1="57.2" x2="464.5" y2="57.2" stroke="#18ecf0" stroke-width="1.8" stroke-dasharray="7 3 2 3"/>
<text x="467.9" y="46.7" font-size="11.3" text-anchor="start" fill="#000" >Line 1</text>
<text x="467.9" y="61.2" font-size="11.3" text-anchor="start" fill="#000" >Line 2</text>
<text x="557.6" y="145.2" font-size="12.5" text-anchor="middle" fill="#000" >Distance (μm)</text>
<text x="0" y="0" font-size="12.5" text-anchor="middle" transform="translate(408.3 84.4) rotate(-90)">Misorientation (°)</text>
<line x1="430.5" y1="166.7" x2="685.5" y2="166.7" stroke="#c8c8c8" stroke-width="1.2"/>
<line x1="685.5" y1="166.7" x2="685.5" y2="250.6" stroke="#e0e0e0" stroke-width="1"/>
<line x1="430.5" y1="166.1" x2="430.5" y2="251.2" stroke="#333" stroke-width="1.3"/>
<line x1="430.5" y1="250.6" x2="685.5" y2="250.6" stroke="#333" stroke-width="1.3"/>
<line x1="427.0" y1="250.6" x2="430.5" y2="250.6" stroke="#333" stroke-width="1"/>
<text x="423.7" y="254.6" font-size="11.5" text-anchor="end" fill="#000" >0</text>
<line x1="427.0" y1="222.6" x2="430.5" y2="222.6" stroke="#333" stroke-width="1"/>
<text x="423.7" y="226.6" font-size="11.5" text-anchor="end" fill="#000" >4</text>
<line x1="427.0" y1="194.7" x2="430.5" y2="194.7" stroke="#333" stroke-width="1"/>
<text x="423.7" y="198.7" font-size="11.5" text-anchor="end" fill="#000" >8</text>
<line x1="427.0" y1="166.7" x2="430.5" y2="166.7" stroke="#333" stroke-width="1"/>
<text x="423.7" y="170.7" font-size="11.5" text-anchor="end" fill="#000" >12</text>
<line x1="428.5" y1="236.6" x2="430.5" y2="236.6" stroke="#333" stroke-width="0.8"/>
<line x1="428.5" y1="208.6" x2="430.5" y2="208.6" stroke="#333" stroke-width="0.8"/>
<line x1="428.5" y1="180.7" x2="430.5" y2="180.7" stroke="#333" stroke-width="0.8"/>
<line x1="430.5" y1="250.6" x2="430.5" y2="254.1" stroke="#333" stroke-width="1"/>
<text x="430.5" y="266.6" font-size="11.5" text-anchor="middle" fill="#000" >0.00</text>
<line x1="453.2" y1="250.6" x2="453.2" y2="252.6" stroke="#333" stroke-width="0.8"/>
<line x1="476.0" y1="250.6" x2="476.0" y2="254.1" stroke="#333" stroke-width="1"/>
<text x="476.0" y="266.6" font-size="11.5" text-anchor="middle" fill="#000" >0.05</text>
<line x1="498.8" y1="250.6" x2="498.8" y2="252.6" stroke="#333" stroke-width="0.8"/>
<line x1="521.5" y1="250.6" x2="521.5" y2="254.1" stroke="#333" stroke-width="1"/>
<text x="521.5" y="266.6" font-size="11.5" text-anchor="middle" fill="#000" >0.10</text>
<line x1="544.2" y1="250.6" x2="544.2" y2="252.6" stroke="#333" stroke-width="0.8"/>
<line x1="567.0" y1="250.6" x2="567.0" y2="254.1" stroke="#333" stroke-width="1"/>
<text x="567.0" y="266.6" font-size="11.5" text-anchor="middle" fill="#000" >0.15</text>
<line x1="589.8" y1="250.6" x2="589.8" y2="252.6" stroke="#333" stroke-width="0.8"/>
<line x1="612.5" y1="250.6" x2="612.5" y2="254.1" stroke="#333" stroke-width="1"/>
<text x="612.5" y="266.6" font-size="11.5" text-anchor="middle" fill="#000" >0.20</text>
<line x1="635.2" y1="250.6" x2="635.2" y2="252.6" stroke="#333" stroke-width="0.8"/>
<line x1="658.0" y1="250.6" x2="658.0" y2="254.1" stroke="#333" stroke-width="1"/>
<text x="658.0" y="266.6" font-size="11.5" text-anchor="middle" fill="#000" >0.25</text>
<line x1="680.8" y1="250.6" x2="680.8" y2="252.6" stroke="#333" stroke-width="0.8"/>
<polyline points="430.5,250.6 439.6,246.4 448.7,247.8 457.8,248.5 476.0,248.5 494.2,249.2 512.4,247.1 521.5,222.6 539.7,246.4 548.8,246.4 567.0,205.2 576.1,243.6 594.3,247.8 612.5,245.0 621.6,243.6 630.7,229.6 648.9,248.5" fill="none" stroke="#f07a4c" stroke-width="1.8" stroke-linejoin="round" />
<polyline points="430.5,250.6 439.6,248.5 457.8,232.4 466.9,240.8 485.1,230.3 494.2,249.9 512.4,249.9 521.5,238.0 539.7,240.8 548.8,214.2 567.0,249.2 648.9,249.2 658.0,173.7 676.2,249.9 685.3,247.8" fill="none" stroke="#f07a4c" stroke-width="1.8" stroke-linejoin="round" stroke-dasharray="7 3 2 3"/>
<line x1="430.5" y1="250.6" x2="685.5" y2="250.6" stroke="#3a3a3a" stroke-width="1.4" opacity="0.75"/>
<line x1="437" y1="176.2" x2="464.5" y2="176.2" stroke="#f07a4c" stroke-width="1.8"/>
<line x1="437" y1="190.7" x2="464.5" y2="190.7" stroke="#f07a4c" stroke-width="1.8" stroke-dasharray="7 3 2 3"/>
<text x="467.9" y="180.2" font-size="11.3" text-anchor="start" fill="#000" >Line 1</text>
<text x="467.9" y="194.7" font-size="11.3" text-anchor="start" fill="#000" >Line 2</text>
<text x="557.6" y="279.5" font-size="12.5" text-anchor="middle" fill="#000" >Distance (μm)</text>
<text x="0" y="0" font-size="12.5" text-anchor="middle" transform="translate(408.3 214.6) rotate(-90)">Misorientation (°)</text>
<path d="M41.5 327.5 H281.8" stroke="#333" stroke-width="1.2" fill="none"/>
<path d="M292.7 327.5 H488.5" stroke="#333" stroke-width="1.2" fill="none"/>
<path d="M499.7 327.5 H686.3 V521.5" stroke="#333" stroke-width="1.2" fill="none"/>
<line x1="41.5" y1="327.5" x2="41.5" y2="521.5" stroke="#333" stroke-width="1.1"/>
<line x1="41.5" y1="521.5" x2="281.8" y2="521.5" stroke="#b8b8b8" stroke-width="1.1"/>
<line x1="292.7" y1="521.5" x2="488.5" y2="521.5" stroke="#b8b8b8" stroke-width="1.1"/>
<line x1="499.7" y1="521.5" x2="686.3" y2="521.5" stroke="#b8b8b8" stroke-width="1.1"/>
<path d="M276.2 332.5 L287.40000000000003 322.5" stroke="#333" stroke-width="1.1"/>
<path d="M276.2 526.5 L287.40000000000003 516.5" stroke="#333" stroke-width="1.1"/>
<path d="M287.09999999999997 332.5 L298.3 322.5" stroke="#333" stroke-width="1.1"/>
<path d="M287.09999999999997 526.5 L298.3 516.5" stroke="#333" stroke-width="1.1"/>
<path d="M482.9 332.5 L494.1 322.5" stroke="#333" stroke-width="1.1"/>
<path d="M482.9 526.5 L494.1 516.5" stroke="#333" stroke-width="1.1"/>
<path d="M494.09999999999997 332.5 L505.3 322.5" stroke="#333" stroke-width="1.1"/>
<path d="M494.09999999999997 526.5 L505.3 516.5" stroke="#333" stroke-width="1.1"/>
<line x1="37.5" y1="521.5" x2="41.5" y2="521.5" stroke="#333" stroke-width="1"/>
<text x="33" y="526.0" font-size="13" text-anchor="end" fill="#000" >0</text>
<line x1="39.5" y1="502.1" x2="41.5" y2="502.1" stroke="#333" stroke-width="0.8"/>
<line x1="37.5" y1="482.6" x2="41.5" y2="482.6" stroke="#333" stroke-width="1"/>
<text x="33" y="487.1" font-size="13" text-anchor="end" fill="#000" >5</text>
<line x1="39.5" y1="463.1" x2="41.5" y2="463.1" stroke="#333" stroke-width="0.8"/>
<line x1="37.5" y1="443.7" x2="41.5" y2="443.7" stroke="#333" stroke-width="1"/>
<text x="33" y="448.2" font-size="13" text-anchor="end" fill="#000" >10</text>
<line x1="39.5" y1="424.2" x2="41.5" y2="424.2" stroke="#333" stroke-width="0.8"/>
<line x1="37.5" y1="404.8" x2="41.5" y2="404.8" stroke="#333" stroke-width="1"/>
<text x="33" y="409.3" font-size="13" text-anchor="end" fill="#000" >15</text>
<line x1="39.5" y1="385.4" x2="41.5" y2="385.4" stroke="#333" stroke-width="0.8"/>
<line x1="37.5" y1="365.9" x2="41.5" y2="365.9" stroke="#333" stroke-width="1"/>
<text x="33" y="370.4" font-size="13" text-anchor="end" fill="#000" >20</text>
<line x1="39.5" y1="346.4" x2="41.5" y2="346.4" stroke="#333" stroke-width="0.8"/>
<line x1="37.5" y1="327.0" x2="41.5" y2="327.0" stroke="#333" stroke-width="1"/>
<text x="33" y="331.5" font-size="13" text-anchor="end" fill="#000" >25</text>
<text x="0" y="0" font-size="15" text-anchor="middle" transform="translate(14 423.7) rotate(-90)">Total Frequency (%)</text>
<rect x="42.80" y="505.71" width="7.4" height="15.79" fill="#79a5d3" stroke="#2b3440" stroke-width="0.7"/>
<rect x="50.20" y="475.60" width="7.4" height="45.90" fill="#ef6a62" stroke="#3a2020" stroke-width="0.7"/>
<line x1="50.20" y1="521.5" x2="50.20" y2="526.0" stroke="#222" stroke-width="1"/>
<text x="50.2" y="539.5" font-size="12.5" text-anchor="middle" fill="#000" >3</text>
<rect x="60.60" y="514.65" width="7.4" height="6.85" fill="#79a5d3" stroke="#2b3440" stroke-width="0.7"/>
<rect x="68.00" y="504.07" width="7.4" height="17.43" fill="#ef6a62" stroke="#3a2020" stroke-width="0.7"/>
<line x1="68.00" y1="521.5" x2="68.00" y2="526.0" stroke="#222" stroke-width="1"/>
<rect x="78.40" y="516.44" width="7.4" height="5.06" fill="#79a5d3" stroke="#2b3440" stroke-width="0.7"/>
<rect x="85.80" y="510.06" width="7.4" height="11.44" fill="#ef6a62" stroke="#3a2020" stroke-width="0.7"/>
<line x1="85.80" y1="521.5" x2="85.80" y2="526.0" stroke="#222" stroke-width="1"/>
<text x="85.8" y="539.5" font-size="12.5" text-anchor="middle" fill="#000" >5</text>
<rect x="96.20" y="518.23" width="7.4" height="3.27" fill="#79a5d3" stroke="#2b3440" stroke-width="0.7"/>
<rect x="103.60" y="510.37" width="7.4" height="11.13" fill="#ef6a62" stroke="#3a2020" stroke-width="0.7"/>
<line x1="103.60" y1="521.5" x2="103.60" y2="526.0" stroke="#222" stroke-width="1"/>
<rect x="114.00" y="519.17" width="7.4" height="2.33" fill="#79a5d3" stroke="#2b3440" stroke-width="0.7"/>
<rect x="121.40" y="512.24" width="7.4" height="9.26" fill="#ef6a62" stroke="#3a2020" stroke-width="0.7"/>
<line x1="121.40" y1="521.5" x2="121.40" y2="526.0" stroke="#222" stroke-width="1"/>
<text x="121.4" y="539.5" font-size="12.5" text-anchor="middle" fill="#000" >7</text>
<rect x="131.80" y="517.22" width="7.4" height="4.28" fill="#79a5d3" stroke="#2b3440" stroke-width="0.7"/>
<rect x="139.20" y="512.63" width="7.4" height="8.87" fill="#ef6a62" stroke="#3a2020" stroke-width="0.7"/>
<line x1="139.20" y1="521.5" x2="139.20" y2="526.0" stroke="#222" stroke-width="1"/>
<rect x="149.60" y="518.23" width="7.4" height="3.27" fill="#79a5d3" stroke="#2b3440" stroke-width="0.7"/>
<rect x="157.00" y="513.41" width="7.4" height="8.09" fill="#ef6a62" stroke="#3a2020" stroke-width="0.7"/>
<line x1="157.00" y1="521.5" x2="157.00" y2="526.0" stroke="#222" stroke-width="1"/>
<text x="157.0" y="539.5" font-size="12.5" text-anchor="middle" fill="#000" >9</text>
<rect x="167.40" y="517.22" width="7.4" height="4.28" fill="#79a5d3" stroke="#2b3440" stroke-width="0.7"/>
<rect x="174.80" y="513.49" width="7.4" height="8.01" fill="#ef6a62" stroke="#3a2020" stroke-width="0.7"/>
<line x1="174.80" y1="521.5" x2="174.80" y2="526.0" stroke="#222" stroke-width="1"/>
<rect x="185.20" y="516.29" width="7.4" height="5.21" fill="#79a5d3" stroke="#2b3440" stroke-width="0.7"/>
<rect x="192.60" y="514.42" width="7.4" height="7.08" fill="#ef6a62" stroke="#3a2020" stroke-width="0.7"/>
<line x1="192.60" y1="521.5" x2="192.60" y2="526.0" stroke="#222" stroke-width="1"/>
<text x="192.6" y="539.5" font-size="12.5" text-anchor="middle" fill="#000" >11</text>
<rect x="203.00" y="519.48" width="7.4" height="2.02" fill="#79a5d3" stroke="#2b3440" stroke-width="0.7"/>
<rect x="210.40" y="515.43" width="7.4" height="6.07" fill="#ef6a62" stroke="#3a2020" stroke-width="0.7"/>
<line x1="210.40" y1="521.5" x2="210.40" y2="526.0" stroke="#222" stroke-width="1"/>
<rect x="220.80" y="519.63" width="7.4" height="1.87" fill="#79a5d3" stroke="#2b3440" stroke-width="0.7"/>
<rect x="228.20" y="516.29" width="7.4" height="5.21" fill="#ef6a62" stroke="#3a2020" stroke-width="0.7"/>
<line x1="228.20" y1="521.5" x2="228.20" y2="526.0" stroke="#222" stroke-width="1"/>
<text x="228.2" y="539.5" font-size="12.5" text-anchor="middle" fill="#000" >13</text>
<rect x="238.60" y="518.23" width="7.4" height="3.27" fill="#79a5d3" stroke="#2b3440" stroke-width="0.7"/>
<rect x="246.00" y="516.29" width="7.4" height="5.21" fill="#ef6a62" stroke="#3a2020" stroke-width="0.7"/>
<line x1="246.00" y1="521.5" x2="246.00" y2="526.0" stroke="#222" stroke-width="1"/>
<rect x="256.40" y="517.84" width="7.4" height="3.66" fill="#79a5d3" stroke="#2b3440" stroke-width="0.7"/>
<rect x="263.80" y="517.22" width="7.4" height="4.28" fill="#ef6a62" stroke="#3a2020" stroke-width="0.7"/>
<line x1="263.80" y1="521.5" x2="263.80" y2="526.0" stroke="#222" stroke-width="1"/>
<text x="263.8" y="539.5" font-size="12.5" text-anchor="middle" fill="#000" >15</text>
<rect x="303.20" y="515.20" width="7.4" height="6.30" fill="#79a5d3" stroke="#2b3440" stroke-width="0.7"/>
<rect x="310.60" y="515.51" width="7.4" height="5.99" fill="#ef6a62" stroke="#3a2020" stroke-width="0.7"/>
<line x1="310.60" y1="521.5" x2="310.60" y2="526.0" stroke="#222" stroke-width="1"/>
<text x="310.6" y="539.5" font-size="12.5" text-anchor="middle" fill="#000" >56</text>
<rect x="321.00" y="513.64" width="7.4" height="7.86" fill="#79a5d3" stroke="#2b3440" stroke-width="0.7"/>
<rect x="328.40" y="514.42" width="7.4" height="7.08" fill="#ef6a62" stroke="#3a2020" stroke-width="0.7"/>
<line x1="328.40" y1="521.5" x2="328.40" y2="526.0" stroke="#222" stroke-width="1"/>
<rect x="338.80" y="513.64" width="7.4" height="7.86" fill="#79a5d3" stroke="#2b3440" stroke-width="0.7"/>
<rect x="346.20" y="512.55" width="7.4" height="8.95" fill="#ef6a62" stroke="#3a2020" stroke-width="0.7"/>
<line x1="346.20" y1="521.5" x2="346.20" y2="526.0" stroke="#222" stroke-width="1"/>
<text x="346.2" y="539.5" font-size="12.5" text-anchor="middle" fill="#000" >58</text>
<rect x="356.60" y="512.55" width="7.4" height="8.95" fill="#79a5d3" stroke="#2b3440" stroke-width="0.7"/>
<rect x="364.00" y="507.96" width="7.4" height="13.54" fill="#ef6a62" stroke="#3a2020" stroke-width="0.7"/>
<line x1="364.00" y1="521.5" x2="364.00" y2="526.0" stroke="#222" stroke-width="1"/>
<rect x="374.40" y="498.16" width="7.4" height="23.34" fill="#79a5d3" stroke="#2b3440" stroke-width="0.7"/>
<rect x="381.80" y="445.26" width="7.4" height="76.24" fill="#ef6a62" stroke="#3a2020" stroke-width="0.7"/>
<line x1="381.80" y1="521.5" x2="381.80" y2="526.0" stroke="#222" stroke-width="1"/>
<text x="381.8" y="539.5" font-size="12.5" text-anchor="middle" fill="#000" >60</text>
<rect x="392.20" y="510.61" width="7.4" height="10.89" fill="#79a5d3" stroke="#2b3440" stroke-width="0.7"/>
<rect x="399.60" y="492.48" width="7.4" height="29.02" fill="#ef6a62" stroke="#3a2020" stroke-width="0.7"/>
<line x1="399.60" y1="521.5" x2="399.60" y2="526.0" stroke="#222" stroke-width="1"/>
<rect x="410.00" y="511.46" width="7.4" height="10.04" fill="#79a5d3" stroke="#2b3440" stroke-width="0.7"/>
<rect x="417.40" y="507.11" width="7.4" height="14.39" fill="#ef6a62" stroke="#3a2020" stroke-width="0.7"/>
<line x1="417.40" y1="521.5" x2="417.40" y2="526.0" stroke="#222" stroke-width="1"/>
<text x="417.4" y="539.5" font-size="12.5" text-anchor="middle" fill="#000" >62</text>
<rect x="427.80" y="509.60" width="7.4" height="11.90" fill="#79a5d3" stroke="#2b3440" stroke-width="0.7"/>
<rect x="435.20" y="505.32" width="7.4" height="16.18" fill="#ef6a62" stroke="#3a2020" stroke-width="0.7"/>
<line x1="435.20" y1="521.5" x2="435.20" y2="526.0" stroke="#222" stroke-width="1"/>
<rect x="445.60" y="509.60" width="7.4" height="11.90" fill="#79a5d3" stroke="#2b3440" stroke-width="0.7"/>
<rect x="453.00" y="511.70" width="7.4" height="9.80" fill="#ef6a62" stroke="#3a2020" stroke-width="0.7"/>
<line x1="453.00" y1="521.5" x2="453.00" y2="526.0" stroke="#222" stroke-width="1"/>
<text x="453.0" y="539.5" font-size="12.5" text-anchor="middle" fill="#000" >64</text>
<rect x="463.40" y="513.41" width="7.4" height="8.09" fill="#79a5d3" stroke="#2b3440" stroke-width="0.7"/>
<rect x="470.80" y="514.50" width="7.4" height="7.00" fill="#ef6a62" stroke="#3a2020" stroke-width="0.7"/>
<line x1="470.80" y1="521.5" x2="470.80" y2="526.0" stroke="#222" stroke-width="1"/>
<rect x="510.20" y="514.11" width="7.4" height="7.39" fill="#79a5d3" stroke="#2b3440" stroke-width="0.7"/>
<rect x="517.60" y="516.05" width="7.4" height="5.45" fill="#ef6a62" stroke="#3a2020" stroke-width="0.7"/>
<line x1="517.60" y1="521.5" x2="517.60" y2="526.0" stroke="#222" stroke-width="1"/>
<text x="517.6" y="539.5" font-size="12.5" text-anchor="middle" fill="#000" >86</text>
<rect x="528.00" y="514.89" width="7.4" height="6.61" fill="#79a5d3" stroke="#2b3440" stroke-width="0.7"/>
<rect x="535.40" y="516.83" width="7.4" height="4.67" fill="#ef6a62" stroke="#3a2020" stroke-width="0.7"/>
<line x1="535.40" y1="521.5" x2="535.40" y2="526.0" stroke="#222" stroke-width="1"/>
<rect x="545.80" y="513.33" width="7.4" height="8.17" fill="#79a5d3" stroke="#2b3440" stroke-width="0.7"/>
<rect x="553.20" y="516.05" width="7.4" height="5.45" fill="#ef6a62" stroke="#3a2020" stroke-width="0.7"/>
<line x1="553.20" y1="521.5" x2="553.20" y2="526.0" stroke="#222" stroke-width="1"/>
<text x="553.2" y="539.5" font-size="12.5" text-anchor="middle" fill="#000" >88</text>
<rect x="563.60" y="511.46" width="7.4" height="10.04" fill="#79a5d3" stroke="#2b3440" stroke-width="0.7"/>
<rect x="571.00" y="513.33" width="7.4" height="8.17" fill="#ef6a62" stroke="#3a2020" stroke-width="0.7"/>
<line x1="571.00" y1="521.5" x2="571.00" y2="526.0" stroke="#222" stroke-width="1"/>
<rect x="581.40" y="334.78" width="7.4" height="186.72" fill="#79a5d3" stroke="#2b3440" stroke-width="0.7"/>
<rect x="588.80" y="440.59" width="7.4" height="80.91" fill="#ef6a62" stroke="#3a2020" stroke-width="0.7"/>
<line x1="588.80" y1="521.5" x2="588.80" y2="526.0" stroke="#222" stroke-width="1"/>
<text x="588.8" y="539.5" font-size="12.5" text-anchor="middle" fill="#000" >90</text>
<rect x="599.20" y="466.26" width="7.4" height="55.24" fill="#79a5d3" stroke="#2b3440" stroke-width="0.7"/>
<rect x="606.60" y="492.48" width="7.4" height="29.02" fill="#ef6a62" stroke="#3a2020" stroke-width="0.7"/>
<line x1="606.60" y1="521.5" x2="606.60" y2="526.0" stroke="#222" stroke-width="1"/>
<rect x="617.00" y="516.83" width="7.4" height="4.67" fill="#79a5d3" stroke="#2b3440" stroke-width="0.7"/>
<rect x="624.40" y="516.83" width="7.4" height="4.67" fill="#ef6a62" stroke="#3a2020" stroke-width="0.7"/>
<line x1="624.40" y1="521.5" x2="624.40" y2="526.0" stroke="#222" stroke-width="1"/>
<text x="624.4" y="539.5" font-size="12.5" text-anchor="middle" fill="#000" >92</text>
<rect x="634.80" y="517.14" width="7.4" height="4.36" fill="#79a5d3" stroke="#2b3440" stroke-width="0.7"/>
<rect x="642.20" y="517.14" width="7.4" height="4.36" fill="#ef6a62" stroke="#3a2020" stroke-width="0.7"/>
<line x1="642.20" y1="521.5" x2="642.20" y2="526.0" stroke="#222" stroke-width="1"/>
<rect x="652.60" y="518.70" width="7.4" height="2.80" fill="#79a5d3" stroke="#2b3440" stroke-width="0.7"/>
<rect x="660.00" y="517.92" width="7.4" height="3.58" fill="#ef6a62" stroke="#3a2020" stroke-width="0.7"/>
<line x1="660.00" y1="521.5" x2="660.00" y2="526.0" stroke="#222" stroke-width="1"/>
<text x="660.0" y="539.5" font-size="12.5" text-anchor="middle" fill="#000" >94</text>
<rect x="670.40" y="518.70" width="7.4" height="2.80" fill="#79a5d3" stroke="#2b3440" stroke-width="0.7"/>
<rect x="677.80" y="518.70" width="7.4" height="2.80" fill="#ef6a62" stroke="#3a2020" stroke-width="0.7"/>
<line x1="677.80" y1="521.5" x2="677.80" y2="526.0" stroke="#222" stroke-width="1"/>
<text x="128.9" y="476" font-size="12.5" text-anchor="start" fill="#000" >LAGB</text>
<text x="376.3" y="437.7" font-size="12" text-anchor="start" fill="#000" >TB</text>
<text x="361.5" y="557" font-size="14.5" text-anchor="middle" fill="#000" >Misorientation Angle (°)</text>
<rect x="47.6" y="334" width="28" height="13.6" fill="#79a5d3" stroke="#2b3440" stroke-width="0.8"/>
<rect x="47.6" y="350" width="28" height="13.6" fill="#ef6a62" stroke="#3a2020" stroke-width="0.8"/>
<text x="80" y="345.5" font-size="12.5" text-anchor="start" fill="#000" >E-NCM</text>
<text x="80" y="361.5" font-size="12.5" text-anchor="start" fill="#000" >C-NCM</text>
<rect x="234" y="582.2" width="28.6" height="13.6" fill="#ff7f50" stroke="#222" stroke-width="0.9"/>
<text x="266.8" y="594" font-size="12.5" text-anchor="start" fill="#000" >LAGB</text>
<rect x="314" y="582.2" width="28.6" height="13.6" fill="#00ffff" stroke="#222" stroke-width="0.9"/>
<text x="346.8" y="594" font-size="12.5" text-anchor="start" fill="#000" >TB</text>
<rect x="370" y="582.2" width="28.6" height="13.6" fill="#98fa98" stroke="#222" stroke-width="0.9"/>
<text x="402.8" y="594" font-size="12.5" text-anchor="start" fill="#000" >General HAGB</text>
<line x1="40.0" y1="605.0" x2="685.0" y2="605.0" stroke="#999" stroke-width="1.2"/>
<line x1="685.0" y1="605.0" x2="685.0" y2="726.6" stroke="#bbb" stroke-width="1.2"/>
<line x1="40.0" y1="726.6" x2="685.0" y2="726.6" stroke="#999" stroke-width="1.2"/>
<line x1="39.3" y1="605.0" x2="39.3" y2="726.6" stroke="#333" stroke-width="1.2"/>
<line x1="40.0" y1="666" x2="685.0" y2="666" stroke="#ccc" stroke-width="1" stroke-dasharray="2 2"/>
<line x1="35.0" y1="605.0" x2="40.0" y2="605.0" stroke="#555" stroke-width="1"/>
<line x1="35.0" y1="666" x2="40.0" y2="666" stroke="#555" stroke-width="1"/>
<line x1="35.0" y1="726.6" x2="40.0" y2="726.6" stroke="#555" stroke-width="1"/>
<rect x="40.00" y="611.5" width="122.16" height="47.8" fill="#ff7f50" stroke="#222" stroke-width="1"/>
<text x="101.1" y="639.7" font-size="12.5" text-anchor="middle" fill="#000" >18.94</text>
<rect x="162.16" y="611.5" width="87.59" height="47.8" fill="#00ffff" stroke="#222" stroke-width="1"/>
<text x="206.0" y="639.7" font-size="12.5" text-anchor="middle" fill="#000" >13.58</text>
<rect x="249.75" y="611.5" width="435.05" height="47.8" fill="#98fa98" stroke="#222" stroke-width="1"/>
<text x="467.3" y="639.7" font-size="12.5" text-anchor="middle" fill="#000" >67.45</text>
<rect x="40.00" y="671.8" width="48.31" height="48.2" fill="#ff7f50" stroke="#222" stroke-width="1"/>
<text x="64.2" y="700.2" font-size="12.5" text-anchor="middle" fill="#000" >7.49</text>
<rect x="88.31" y="671.8" width="28.57" height="48.2" fill="#00ffff" stroke="#222" stroke-width="1"/>
<text x="102.6" y="700.2" font-size="12.5" text-anchor="middle" fill="#000" >4.43</text>
<rect x="116.88" y="671.8" width="567.92" height="48.2" fill="#98fa98" stroke="#222" stroke-width="1"/>
<text x="400.8" y="700.2" font-size="12.5" text-anchor="middle" fill="#000" >88.05</text>
<line x1="40.0" y1="726.6" x2="40.0" y2="732.6" stroke="#333" stroke-width="1"/>
<text x="40.0" y="752.5" font-size="12.5" text-anchor="middle" fill="#000" >0</text>
<line x1="104.5" y1="726.6" x2="104.5" y2="730.1" stroke="#333" stroke-width="1"/>
<line x1="169.0" y1="726.6" x2="169.0" y2="732.6" stroke="#333" stroke-width="1"/>
<text x="169.0" y="752.5" font-size="12.5" text-anchor="middle" fill="#000" >20</text>
<line x1="233.5" y1="726.6" x2="233.5" y2="730.1" stroke="#333" stroke-width="1"/>
<line x1="298.0" y1="726.6" x2="298.0" y2="732.6" stroke="#333" stroke-width="1"/>
<text x="298.0" y="752.5" font-size="12.5" text-anchor="middle" fill="#000" >40</text>
<line x1="362.5" y1="726.6" x2="362.5" y2="730.1" stroke="#333" stroke-width="1"/>
<line x1="427.0" y1="726.6" x2="427.0" y2="732.6" stroke="#333" stroke-width="1"/>
<text x="427.0" y="752.5" font-size="12.5" text-anchor="middle" fill="#000" >60</text>
<line x1="491.5" y1="726.6" x2="491.5" y2="730.1" stroke="#333" stroke-width="1"/>
<line x1="556.0" y1="726.6" x2="556.0" y2="732.6" stroke="#333" stroke-width="1"/>
<text x="556.0" y="752.5" font-size="12.5" text-anchor="middle" fill="#000" >80</text>
<line x1="620.5" y1="726.6" x2="620.5" y2="730.1" stroke="#333" stroke-width="1"/>
<line x1="685.0" y1="726.6" x2="685.0" y2="732.6" stroke="#333" stroke-width="1"/>
<text x="685.0" y="752.5" font-size="12.5" text-anchor="middle" fill="#000" >100</text>
<text x="361.75" y="768.5" font-size="16" text-anchor="middle" fill="#000" >Frequency (%)</text>
<text x="0" y="0" font-size="16" text-anchor="middle" transform="translate(15.3 665) rotate(-90)">Misorientation</text>
<text x="0" y="0" font-size="12.5" text-anchor="middle" transform="translate(30.6 635) rotate(-90)">C-NCM</text>
<text x="0" y="0" font-size="12.5" text-anchor="middle" transform="translate(30.6 694.6) rotate(-90)">E-NCM</text>
</svg></body></html>
